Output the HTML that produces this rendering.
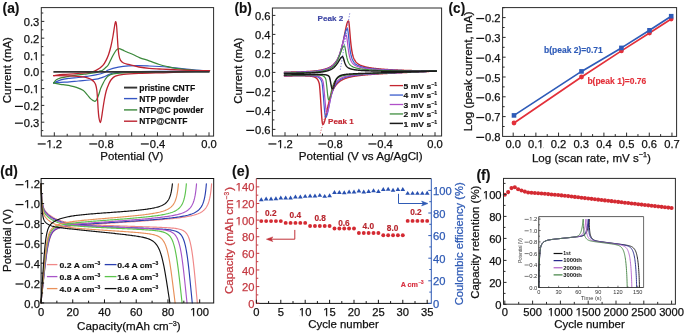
<!DOCTYPE html>
<html><head><meta charset="utf-8"><style>
html,body{margin:0;padding:0;background:#fff;}
svg{display:block;will-change:transform;}
text{font-family:'Liberation Sans',sans-serif;}
</style></head><body>
<svg width="685" height="334" viewBox="0 0 685 334">
<rect width="685" height="334" fill="#fff"/>
<path d="M53.60,82.90 C54.80,82.38 58.15,80.57 60.80,79.80 C63.45,79.03 66.58,78.68 69.50,78.30 C72.42,77.92 75.38,77.83 78.30,77.50 C81.22,77.17 84.08,76.73 87.00,76.30 C89.92,75.87 92.88,75.53 95.80,74.90 C98.72,74.27 102.43,73.32 104.50,72.50 C106.57,71.68 105.88,70.88 108.20,70.00 C110.52,69.12 114.98,67.88 118.40,67.20 C121.82,66.52 125.28,66.15 128.70,65.90 C132.12,65.65 135.50,65.68 138.90,65.70 C142.30,65.72 145.70,65.87 149.10,66.00 C152.50,66.13 155.82,66.27 159.30,66.50 C162.78,66.73 165.88,67.00 170.00,67.40 C174.12,67.80 179.67,68.47 184.00,68.90 C188.33,69.33 191.75,69.70 196.00,70.00 C200.25,70.30 207.25,70.58 209.50,70.70" fill="none" stroke="#3556c4" stroke-width="1.25" stroke-linejoin="round" stroke-linecap="round"/>
<path d="M209.50,70.70 C206.25,70.77 196.92,71.00 190.00,71.10 C183.08,71.20 176.33,71.23 168.00,71.30 C159.67,71.37 147.42,71.40 140.00,71.50 C132.58,71.60 127.95,71.65 123.50,71.90 C119.05,72.15 115.85,72.50 113.30,73.00 C110.75,73.50 109.90,74.20 108.20,74.90 C106.50,75.60 104.80,76.55 103.10,77.20 C101.40,77.85 100.27,78.33 98.00,78.80 C95.73,79.27 92.78,79.63 89.50,80.00 C86.22,80.37 81.63,80.68 78.30,81.00 C74.97,81.32 72.42,81.67 69.50,81.90 C66.58,82.13 63.45,82.23 60.80,82.40 C58.15,82.57 54.80,82.82 53.60,82.90" fill="none" stroke="#3556c4" stroke-width="1.25" stroke-linejoin="round" stroke-linecap="round"/>
<path d="M53.60,82.90 C54.07,82.38 55.20,80.63 56.40,79.80 C57.60,78.97 58.62,78.50 60.80,77.90 C62.98,77.30 66.58,76.70 69.50,76.20 C72.42,75.70 75.38,75.30 78.30,74.90 C81.22,74.50 84.08,74.17 87.00,73.80 C89.92,73.43 93.72,73.13 95.80,72.70 C97.88,72.27 98.45,71.57 99.50,71.20 C100.55,70.83 101.13,71.05 102.10,70.50 C103.07,69.95 104.28,68.82 105.30,67.90 C106.32,66.98 107.30,66.32 108.20,65.00 C109.10,63.68 109.97,61.47 110.70,60.00 C111.43,58.53 111.83,57.62 112.60,56.20 C113.37,54.78 114.52,52.65 115.30,51.50 C116.08,50.35 116.65,49.77 117.30,49.30 C117.95,48.83 118.55,48.70 119.20,48.70 C119.85,48.70 120.48,49.02 121.20,49.30 C121.92,49.58 122.53,49.95 123.50,50.40 C124.47,50.85 125.32,51.27 127.00,52.00 C128.68,52.73 131.43,53.83 133.60,54.80 C135.77,55.77 137.42,56.80 140.00,57.80 C142.58,58.80 145.88,59.68 149.10,60.80 C152.32,61.92 156.15,63.52 159.30,64.50 C162.45,65.48 165.22,66.07 168.00,66.70 C170.78,67.33 172.00,67.75 176.00,68.30 C180.00,68.85 186.42,69.60 192.00,70.00 C197.58,70.40 206.58,70.58 209.50,70.70" fill="none" stroke="#3b893b" stroke-width="1.25" stroke-linejoin="round" stroke-linecap="round"/>
<path d="M209.50,70.70 C202.58,70.88 179.58,71.52 168.00,71.80 C156.42,72.08 147.42,72.22 140.00,72.40 C132.58,72.58 127.95,72.65 123.50,72.90 C119.05,73.15 115.85,73.40 113.30,73.90 C110.75,74.40 109.55,74.97 108.20,75.90 C106.85,76.83 106.15,78.07 105.20,79.50 C104.25,80.93 103.25,83.02 102.50,84.50 C101.75,85.98 101.35,86.65 100.70,88.40 C100.05,90.15 99.28,93.10 98.60,95.00 C97.92,96.90 97.20,98.75 96.60,99.80 C96.00,100.85 95.57,101.17 95.00,101.30 C94.43,101.43 93.90,101.00 93.20,100.60 C92.50,100.20 91.85,99.95 90.80,98.90 C89.75,97.85 88.20,95.73 86.90,94.30 C85.60,92.87 84.75,91.47 83.00,90.30 C81.25,89.13 78.60,88.07 76.40,87.30 C74.20,86.53 72.00,86.13 69.80,85.70 C67.60,85.27 65.90,85.17 63.20,84.70 C60.50,84.23 55.20,83.20 53.60,82.90" fill="none" stroke="#3b893b" stroke-width="1.25" stroke-linejoin="round" stroke-linecap="round"/>
<path d="M53.60,75.60 C55.20,75.42 59.40,74.83 63.20,74.50 C67.00,74.17 72.02,73.97 76.40,73.60 C80.78,73.23 86.32,72.80 89.50,72.30 C92.68,71.80 93.83,71.27 95.50,70.60 C97.17,69.93 98.23,69.20 99.50,68.30 C100.77,67.40 101.98,66.57 103.10,65.20 C104.22,63.83 105.28,61.88 106.20,60.10 C107.12,58.32 107.80,56.85 108.60,54.50 C109.40,52.15 110.27,49.08 111.00,46.00 C111.73,42.92 112.40,39.33 113.00,36.00 C113.60,32.67 114.17,28.40 114.60,26.00 C115.03,23.60 115.28,21.77 115.60,21.60 C115.92,21.43 116.22,22.60 116.50,25.00 C116.78,27.40 117.05,32.33 117.30,36.00 C117.55,39.67 117.73,43.83 118.00,47.00 C118.27,50.17 118.50,52.82 118.90,55.00 C119.30,57.18 119.63,58.77 120.40,60.10 C121.17,61.43 122.12,62.28 123.50,63.00 C124.88,63.72 126.98,63.95 128.70,64.40 C130.42,64.85 132.10,65.27 133.80,65.70 C135.50,66.13 136.35,66.55 138.90,67.00 C141.45,67.45 145.70,68.07 149.10,68.40 C152.50,68.73 155.82,68.82 159.30,69.00 C162.78,69.18 164.88,69.28 170.00,69.50 C175.12,69.72 183.42,70.10 190.00,70.30 C196.58,70.50 206.25,70.63 209.50,70.70" fill="none" stroke="#bd2330" stroke-width="1.3" stroke-linejoin="round" stroke-linecap="round"/>
<path d="M209.50,70.70 C205.25,70.90 190.92,71.58 184.00,71.90 C177.08,72.22 175.52,72.35 168.00,72.60 C160.48,72.85 146.32,73.10 138.90,73.40 C131.48,73.70 127.42,73.93 123.50,74.40 C119.58,74.87 117.43,75.35 115.40,76.20 C113.37,77.05 112.40,78.20 111.30,79.50 C110.20,80.80 109.65,82.08 108.80,84.00 C107.95,85.92 106.95,88.33 106.20,91.00 C105.45,93.67 104.88,96.83 104.30,100.00 C103.72,103.17 103.17,107.00 102.70,110.00 C102.23,113.00 101.90,115.90 101.50,118.00 C101.10,120.10 100.72,122.60 100.30,122.60 C99.88,122.60 99.35,120.10 99.00,118.00 C98.65,115.90 98.43,113.00 98.20,110.00 C97.97,107.00 97.83,103.33 97.60,100.00 C97.37,96.67 97.13,92.58 96.80,90.00 C96.47,87.42 96.05,85.87 95.60,84.50 C95.15,83.13 94.78,82.62 94.10,81.80 C93.42,80.98 92.27,80.15 91.50,79.60 C90.73,79.05 90.92,78.95 89.50,78.50 C88.08,78.05 86.28,77.33 83.00,76.90 C79.72,76.47 74.70,76.12 69.80,75.90 C64.90,75.68 56.30,75.65 53.60,75.60" fill="none" stroke="#bd2330" stroke-width="1.3" stroke-linejoin="round" stroke-linecap="round"/>
<line x1="53.40" y1="71.95" x2="209.50" y2="71.95" stroke="#333333" stroke-width="1.7"/>
<rect x="41.30" y="7.60" width="172.30" height="128.50" fill="none" stroke="#2a2a2a" stroke-width="1.0"/>
<line x1="41.30" y1="130.60" x2="43.30" y2="130.60" stroke="#2a2a2a" stroke-width="1.0"/>
<line x1="41.30" y1="122.20" x2="44.30" y2="122.20" stroke="#2a2a2a" stroke-width="1.0"/>
<line x1="41.30" y1="113.80" x2="43.30" y2="113.80" stroke="#2a2a2a" stroke-width="1.0"/>
<line x1="41.30" y1="105.40" x2="44.30" y2="105.40" stroke="#2a2a2a" stroke-width="1.0"/>
<line x1="41.30" y1="97.00" x2="43.30" y2="97.00" stroke="#2a2a2a" stroke-width="1.0"/>
<line x1="41.30" y1="88.60" x2="44.30" y2="88.60" stroke="#2a2a2a" stroke-width="1.0"/>
<line x1="41.30" y1="80.20" x2="43.30" y2="80.20" stroke="#2a2a2a" stroke-width="1.0"/>
<line x1="41.30" y1="71.80" x2="44.30" y2="71.80" stroke="#2a2a2a" stroke-width="1.0"/>
<line x1="41.30" y1="63.40" x2="43.30" y2="63.40" stroke="#2a2a2a" stroke-width="1.0"/>
<line x1="41.30" y1="55.00" x2="44.30" y2="55.00" stroke="#2a2a2a" stroke-width="1.0"/>
<line x1="41.30" y1="46.60" x2="43.30" y2="46.60" stroke="#2a2a2a" stroke-width="1.0"/>
<line x1="41.30" y1="38.20" x2="44.30" y2="38.20" stroke="#2a2a2a" stroke-width="1.0"/>
<line x1="41.30" y1="29.80" x2="43.30" y2="29.80" stroke="#2a2a2a" stroke-width="1.0"/>
<line x1="41.30" y1="21.40" x2="44.30" y2="21.40" stroke="#2a2a2a" stroke-width="1.0"/>
<line x1="41.30" y1="13.00" x2="43.30" y2="13.00" stroke="#2a2a2a" stroke-width="1.0"/>
<line x1="54.32" y1="136.10" x2="54.32" y2="132.30" stroke="#2a2a2a" stroke-width="1.0"/>
<line x1="67.21" y1="136.10" x2="67.21" y2="133.80" stroke="#2a2a2a" stroke-width="1.0"/>
<line x1="80.10" y1="136.10" x2="80.10" y2="132.30" stroke="#2a2a2a" stroke-width="1.0"/>
<line x1="92.99" y1="136.10" x2="92.99" y2="133.80" stroke="#2a2a2a" stroke-width="1.0"/>
<line x1="105.88" y1="136.10" x2="105.88" y2="132.30" stroke="#2a2a2a" stroke-width="1.0"/>
<line x1="118.77" y1="136.10" x2="118.77" y2="133.80" stroke="#2a2a2a" stroke-width="1.0"/>
<line x1="131.66" y1="136.10" x2="131.66" y2="132.30" stroke="#2a2a2a" stroke-width="1.0"/>
<line x1="144.55" y1="136.10" x2="144.55" y2="133.80" stroke="#2a2a2a" stroke-width="1.0"/>
<line x1="157.44" y1="136.10" x2="157.44" y2="132.30" stroke="#2a2a2a" stroke-width="1.0"/>
<line x1="170.33" y1="136.10" x2="170.33" y2="133.80" stroke="#2a2a2a" stroke-width="1.0"/>
<line x1="183.22" y1="136.10" x2="183.22" y2="132.30" stroke="#2a2a2a" stroke-width="1.0"/>
<line x1="196.11" y1="136.10" x2="196.11" y2="133.80" stroke="#2a2a2a" stroke-width="1.0"/>
<line x1="209.00" y1="136.10" x2="209.00" y2="132.30" stroke="#2a2a2a" stroke-width="1.0"/>
<text x="39.30" y="26.01" font-size="11.2" font-weight="normal" fill="#111" stroke="#111" stroke-width="0.25" text-anchor="end">0.3</text>
<text x="39.30" y="42.81" font-size="11.2" font-weight="normal" fill="#111" stroke="#111" stroke-width="0.25" text-anchor="end">0.2</text>
<text x="39.30" y="59.61" font-size="11.2" font-weight="normal" fill="#111" stroke="#111" stroke-width="0.25" text-anchor="end">0.1</text>
<rect x="33.40" y="58.95" width="2.43" height="2.10" fill="#fff"/>
<rect x="36.93" y="58.95" width="2.10" height="2.10" fill="#fff"/>
<text x="39.30" y="76.41" font-size="11.2" font-weight="normal" fill="#111" stroke="#111" stroke-width="0.25" text-anchor="end">0.0</text>
<text x="39.30" y="93.21" font-size="11.2" font-weight="normal" fill="#111" stroke="#111" stroke-width="0.25" text-anchor="end">0.1</text>
<rect x="33.40" y="91.95" width="2.43" height="2.10" fill="#fff"/>
<rect x="36.93" y="91.95" width="2.10" height="2.10" fill="#fff"/>
<line x1="14.94" y1="89.57" x2="22.89" y2="89.57" stroke="#111" stroke-width="1.23"/>
<text x="39.30" y="110.01" font-size="11.2" font-weight="normal" fill="#111" stroke="#111" stroke-width="0.25" text-anchor="end">0.2</text>
<line x1="14.94" y1="106.37" x2="22.89" y2="106.37" stroke="#111" stroke-width="1.23"/>
<text x="39.30" y="126.81" font-size="11.2" font-weight="normal" fill="#111" stroke="#111" stroke-width="0.25" text-anchor="end">0.3</text>
<line x1="14.94" y1="123.17" x2="22.89" y2="123.17" stroke="#111" stroke-width="1.23"/>
<text x="46.54" y="147.60" font-size="11.2" font-weight="normal" fill="#111" stroke="#111" stroke-width="0.25" text-anchor="start">1.2</text>
<rect x="46.86" y="146.95" width="2.43" height="2.10" fill="#fff"/>
<rect x="50.40" y="146.95" width="2.10" height="2.10" fill="#fff"/>
<line x1="37.74" y1="143.96" x2="45.70" y2="143.96" stroke="#111" stroke-width="1.23"/>
<text x="98.10" y="147.60" font-size="11.2" font-weight="normal" fill="#111" stroke="#111" stroke-width="0.25" text-anchor="start">0.8</text>
<line x1="89.30" y1="143.96" x2="97.26" y2="143.96" stroke="#111" stroke-width="1.23"/>
<text x="149.66" y="147.60" font-size="11.2" font-weight="normal" fill="#111" stroke="#111" stroke-width="0.25" text-anchor="start">0.4</text>
<line x1="140.86" y1="143.96" x2="148.82" y2="143.96" stroke="#111" stroke-width="1.23"/>
<text x="201.22" y="147.60" font-size="11.2" font-weight="normal" fill="#111" stroke="#111" stroke-width="0.25" text-anchor="start">0.0</text>
<text x="131.80" y="159.90" font-size="11.45" font-weight="normal" fill="#111" stroke="#111" stroke-width="0.25" text-anchor="middle">Potential (V)</text>
<text x="10.80" y="70.20" font-size="11.45" font-weight="normal" fill="#111" stroke="#111" stroke-width="0.25" text-anchor="middle" transform="rotate(-90 10.80 70.20)">Current (mA)</text>
<text transform="translate(2.51 12.60) scale(0.9697 1)" font-size="14.3" font-weight="bold" fill="#111" stroke="#111" stroke-width="0.15">(a)</text>
<line x1="124.00" y1="87.60" x2="137.20" y2="87.60" stroke="#333333" stroke-width="1.9"/>
<text x="139.20" y="90.60" font-size="8.55" font-weight="bold" fill="#111" stroke="#111" stroke-width="0.15" text-anchor="start">pristine CNTF</text>
<line x1="124.00" y1="98.60" x2="137.20" y2="98.60" stroke="#3556c4" stroke-width="1.4"/>
<text x="139.20" y="101.60" font-size="8.55" font-weight="bold" fill="#111" stroke="#111" stroke-width="0.15" text-anchor="start">NTP powder</text>
<line x1="124.00" y1="109.90" x2="137.20" y2="109.90" stroke="#3b893b" stroke-width="1.4"/>
<text x="139.20" y="112.90" font-size="8.55" font-weight="bold" fill="#111" stroke="#111" stroke-width="0.15" text-anchor="start">NTP@C powder</text>
<line x1="124.00" y1="121.20" x2="137.20" y2="121.20" stroke="#bd2330" stroke-width="1.4"/>
<text x="139.20" y="124.20" font-size="8.55" font-weight="bold" fill="#111" stroke="#111" stroke-width="0.15" text-anchor="start">NTP@CNTF</text>
<path d="M284.40,72.15 L284.70,72.15 L285.01,72.15 L285.31,72.15 L285.62,72.14 L285.92,72.14 L286.22,72.14 L286.53,72.14 L286.83,72.13 L287.13,72.13 L287.44,72.13 L287.74,72.12 L288.05,72.12 L288.35,72.11 L288.65,72.11 L288.96,72.11 L289.26,72.10 L289.56,72.10 L289.87,72.09 L290.17,72.09 L290.48,72.08 L290.78,72.08 L291.08,72.07 L291.39,72.07 L291.69,72.06 L292.00,72.06 L292.30,72.05 L292.60,72.05 L292.91,72.04 L293.21,72.03 L293.51,72.03 L293.82,72.02 L294.12,72.02 L294.43,72.01 L294.73,72.00 L295.03,71.99 L295.34,71.99 L295.64,71.98 L295.94,71.97 L296.25,71.97 L296.55,71.96 L296.86,71.95 L297.16,71.94 L297.46,71.93 L297.77,71.92 L298.07,71.92 L298.37,71.91 L298.68,71.90 L298.98,71.89 L299.29,71.88 L299.59,71.87 L299.89,71.86 L300.20,71.85 L300.50,71.84 L300.81,71.83 L301.11,71.82 L301.41,71.81 L301.72,71.80 L302.02,71.78 L302.32,71.77 L302.63,71.76 L302.93,71.75 L303.24,71.73 L303.54,71.72 L303.84,71.71 L304.15,71.69 L304.45,71.68 L304.75,71.67 L305.06,71.65 L305.36,71.64 L305.67,71.62 L305.97,71.61 L306.27,71.59 L306.58,71.57 L306.88,71.56 L307.19,71.54 L307.49,71.52 L307.79,71.50 L308.10,71.49 L308.40,71.47 L308.70,71.45 L309.01,71.43 L309.31,71.41 L309.62,71.39 L309.92,71.37 L310.22,71.34 L310.53,71.32 L310.83,71.30 L311.13,71.28 L311.44,71.25 L311.74,71.23 L312.05,71.20 L312.35,71.18 L312.65,71.15 L312.96,71.12 L313.26,71.09 L313.56,71.07 L313.87,71.04 L314.17,71.01 L314.48,70.98 L314.78,70.94 L315.08,70.91 L315.39,70.88 L315.69,70.84 L316.00,70.81 L316.30,70.77 L316.60,70.73 L316.91,70.69 L317.21,70.66 L317.51,70.61 L317.82,70.57 L318.12,70.53 L318.43,70.48 L318.73,70.44 L319.03,70.39 L319.34,70.34 L319.64,70.29 L319.94,70.24 L320.25,70.19 L320.55,70.13 L320.86,70.08 L321.16,70.02 L321.46,69.96 L321.77,69.90 L322.07,69.83 L322.38,69.77 L322.68,69.70 L322.98,69.63 L323.29,69.55 L323.59,69.48 L323.89,69.40 L324.20,69.32 L324.50,69.23 L324.81,69.15 L325.11,69.06 L325.41,68.97 L325.72,68.87 L326.02,68.77 L326.32,68.66 L326.63,68.56 L326.93,68.45 L327.24,68.33 L327.54,68.21 L327.84,68.08 L328.15,67.95 L328.45,67.82 L328.75,67.68 L329.06,67.53 L329.36,67.38 L329.67,67.22 L329.97,67.05 L330.27,66.88 L330.58,66.70 L330.88,66.51 L331.19,66.31 L331.49,66.10 L331.79,65.89 L332.10,65.66 L332.40,65.43 L332.70,65.18 L333.01,64.92 L333.31,64.65 L333.62,64.37 L333.92,64.07 L334.22,63.76 L334.53,63.43 L334.83,63.08 L335.13,62.72 L335.44,62.34 L335.74,61.94 L336.05,61.52 L336.35,61.07 L336.65,60.60 L336.96,60.11 L337.26,59.59 L337.56,59.04 L337.87,58.46 L338.17,57.84 L338.48,57.20 L338.78,56.51 L339.08,55.79 L339.39,55.03 L339.69,54.23 L340.00,53.38 L340.30,52.48 L340.60,51.54 L340.91,50.55 L341.21,49.50 L341.51,48.40 L341.82,47.25 L342.12,46.04 L342.43,44.78 L342.73,43.46 L343.03,42.09 L343.34,40.67 L343.64,39.21 L343.94,37.71 L344.25,36.18 L344.55,34.63 L344.86,33.08 L345.16,31.53 L345.46,30.02 L345.77,28.54 L346.07,27.14 L346.38,25.82 L346.68,24.61 L346.98,23.55 L347.29,22.64 L347.59,21.91 L347.89,21.37 L348.20,21.05 L348.50,20.94 L348.81,21.83 L349.11,24.01 L349.41,27.11 L349.72,30.70 L350.02,34.40 L350.32,37.96 L350.63,41.23 L350.93,44.14 L351.24,46.69 L351.54,48.90 L351.84,50.81 L352.15,52.46 L352.45,53.89 L352.75,55.12 L353.06,56.20 L353.36,57.15 L353.67,57.98 L353.97,58.72 L354.27,59.37 L354.58,59.96 L354.88,60.48 L355.19,60.96 L355.49,61.39 L355.79,61.78 L356.10,62.14 L356.40,62.47 L356.70,62.77 L357.01,63.05 L357.31,63.31 L357.62,63.55 L357.92,63.78 L358.22,63.99 L358.53,64.19 L358.83,64.38 L359.13,64.55 L359.44,64.72 L359.74,64.88 L360.05,65.03 L360.35,65.17 L360.65,65.30 L360.96,65.43 L361.26,65.56 L361.57,65.67 L361.87,65.79 L362.17,65.90 L362.48,66.00 L362.78,66.10 L363.08,66.20 L363.39,66.29 L363.69,66.38 L364.00,66.47 L364.30,66.55 L364.60,66.63 L364.91,66.71 L365.21,66.79 L365.51,66.86 L365.82,66.93 L366.12,67.00 L366.43,67.07 L366.73,67.13 L367.03,67.20 L367.34,67.26 L367.64,67.32 L367.94,67.38 L368.25,67.44 L368.55,67.49 L368.86,67.55 L369.16,67.60 L369.46,67.65 L369.77,67.71 L370.07,67.76 L370.38,67.80 L370.68,67.85 L370.98,67.90 L371.29,67.95 L371.59,67.99 L371.89,68.03 L372.20,68.08 L372.50,68.12 L372.81,68.16 L373.11,68.20 L373.41,68.24 L373.72,68.28 L374.02,68.32 L374.32,68.36 L374.63,68.39 L374.93,68.43 L375.24,68.46 L375.54,68.50 L375.84,68.53 L376.15,68.57 L376.45,68.60 L376.76,68.63 L377.06,68.67 L377.36,68.70 L377.67,68.73 L377.97,68.76 L378.27,68.79 L378.58,68.82 L378.88,68.85 L379.19,68.88 L379.49,68.91 L379.79,68.93 L380.10,68.96 L380.40,68.99 L380.70,69.02 L381.01,69.04 L381.31,69.07 L381.62,69.09 L381.92,69.12 L382.22,69.14 L382.53,69.17 L382.83,69.19 L383.13,69.22 L383.44,69.24 L383.74,69.26 L384.05,69.29 L384.35,69.31 L384.65,69.33 L384.96,69.35 L385.26,69.37 L385.57,69.39 L385.87,69.42 L386.17,69.44 L386.48,69.46 L386.78,69.48 L387.08,69.50 L387.39,69.52 L387.69,69.54 L388.00,69.56 L388.30,69.58 L388.60,69.59 L388.91,69.61 L389.21,69.63 L389.51,69.65 L389.82,69.67 L390.12,69.69 L390.43,69.70 L390.73,69.72 L391.03,69.74 L391.34,69.76 L391.64,69.77 L391.95,69.79 L392.25,69.81 L392.55,69.82 L392.86,69.84 L393.16,69.85 L393.46,69.87 L393.77,69.88 L394.07,69.90 L394.38,69.92 L394.68,69.93 L394.98,69.95 L395.29,69.96 L395.59,69.97 L395.89,69.99 L396.20,70.00 L396.50,70.02 L396.81,70.03 L397.11,70.05 L397.41,70.06 L397.72,70.07 L398.02,70.09 L398.32,70.10 L398.63,70.11 L398.93,70.13 L399.24,70.14 L399.54,70.15 L399.84,70.16 L400.15,70.18 L400.45,70.19 L400.76,70.20 L401.06,70.21 L401.36,70.22 L401.67,70.24 L401.97,70.25 L402.27,70.26 L402.58,70.27 L402.88,70.28 L403.19,70.29 L403.49,70.31 L403.79,70.32 L404.10,70.33 L404.40,70.34 L404.70,70.35 L405.01,70.36 L405.31,70.37 L405.62,70.38 L405.92,70.39 L406.22,70.40 L406.53,70.41 L406.83,70.42 L407.14,70.43 L407.44,70.44 L407.74,70.45 L408.05,70.46 L408.35,70.47 L408.65,70.48 L408.96,70.49 L409.26,70.50 L409.57,70.51 L409.87,70.52 L410.17,70.53 L410.48,70.54 L410.78,70.55 L411.08,70.56 L411.39,70.57 L411.69,70.57 L412.00,70.58 L412.30,70.59 L412.60,70.60 L412.91,70.61 L413.21,70.62 L413.51,70.63 L413.82,70.63 L414.12,70.64 L414.43,70.65 L414.73,70.66 L415.03,70.67 L415.34,70.67 L415.64,70.68 L415.95,70.69 L416.25,70.70 L416.55,70.71 L416.86,70.71 L417.16,70.72 L417.46,70.73 L417.77,70.74 L418.07,70.74 L418.38,70.75 L418.68,70.76 L418.98,70.77 L419.29,70.77 L419.59,70.78 L419.89,70.79 L420.20,70.79 L420.50,70.80 L420.81,70.81 L421.11,70.82 L421.41,70.82 L421.72,70.83 L422.02,70.84 L422.33,70.84 L422.63,70.85 L422.93,70.86 L423.24,70.86 L423.54,70.87 L423.84,70.87 L424.15,70.88 L424.45,70.89 L424.76,70.89 L425.06,70.90 L425.36,70.91 L425.67,70.91 L425.97,70.92 L426.27,70.92 L426.58,70.93 L426.88,70.94 L427.19,70.94 L427.49,70.95 L427.79,70.95 L428.10,70.96 L428.40,70.97 L428.71,70.97 L429.01,70.98 L429.31,70.98 L429.62,70.99 L429.92,70.99 L430.22,71.00 L430.53,71.00 L430.83,71.01 L431.14,71.01 L431.44,71.02 L431.74,71.03 L432.05,71.03 L432.35,71.04 L432.65,71.04 L432.96,71.05 L433.26,71.05 L433.57,71.06 L433.87,71.06 L434.17,71.07 L434.48,71.07 L434.78,71.08 L435.08,71.08 L435.39,71.09 L435.69,71.09 L436.00,71.10 L436.30,71.10" fill="none" stroke="#c42631" stroke-width="1.4" stroke-linejoin="round" stroke-linecap="round"/>
<path d="M284.40,75.99 L284.70,75.99 L285.01,75.99 L285.31,75.98 L285.62,75.98 L285.92,75.98 L286.22,75.98 L286.53,75.98 L286.83,75.97 L287.13,75.97 L287.44,75.97 L287.74,75.97 L288.05,75.96 L288.35,75.96 L288.65,75.96 L288.96,75.96 L289.26,75.95 L289.56,75.95 L289.87,75.95 L290.17,75.95 L290.48,75.94 L290.78,75.94 L291.08,75.94 L291.39,75.93 L291.69,75.93 L292.00,75.93 L292.30,75.93 L292.60,75.92 L292.91,75.92 L293.21,75.92 L293.51,75.92 L293.82,75.91 L294.12,75.91 L294.43,75.91 L294.73,75.90 L295.03,75.90 L295.34,75.90 L295.64,75.90 L295.94,75.90 L296.25,75.89 L296.55,75.89 L296.86,75.89 L297.16,75.89 L297.46,75.89 L297.77,75.89 L298.07,75.88 L298.37,75.88 L298.68,75.88 L298.98,75.88 L299.29,75.88 L299.59,75.88 L299.89,75.88 L300.20,75.88 L300.50,75.88 L300.81,75.88 L301.11,75.88 L301.41,75.88 L301.72,75.88 L302.02,75.88 L302.32,75.89 L302.63,75.89 L302.93,75.89 L303.24,75.89 L303.54,75.90 L303.84,75.90 L304.15,75.91 L304.45,75.91 L304.75,75.92 L305.06,75.92 L305.36,75.93 L305.67,75.94 L305.97,75.95 L306.27,75.95 L306.58,75.96 L306.88,75.98 L307.19,75.99 L307.49,76.00 L307.79,76.02 L308.10,76.03 L308.40,76.05 L308.70,76.07 L309.01,76.09 L309.31,76.11 L309.62,76.13 L309.92,76.16 L310.22,76.19 L310.53,76.22 L310.83,76.26 L311.13,76.29 L311.44,76.34 L311.74,76.38 L312.05,76.43 L312.35,76.49 L312.65,76.55 L312.96,76.61 L313.26,76.69 L313.56,76.77 L313.87,76.86 L314.17,76.96 L314.48,77.07 L314.78,77.19 L315.08,77.33 L315.39,77.49 L315.69,77.67 L316.00,77.87 L316.30,78.10 L316.60,78.36 L316.91,78.66 L317.21,79.01 L317.51,79.41 L317.82,79.88 L318.12,80.44 L318.43,81.09 L318.73,81.88 L319.03,82.82 L319.34,83.96 L319.64,86.45 L319.94,89.95 L320.25,94.02 L320.55,98.56 L320.86,103.41 L321.16,108.35 L321.46,113.10 L321.77,117.36 L322.07,120.83 L322.38,123.26 L322.68,124.45 L322.98,124.51 L323.29,124.29 L323.59,123.87 L323.89,123.27 L324.20,122.51 L324.50,121.59 L324.81,120.53 L325.11,119.37 L325.41,118.11 L325.72,116.78 L326.02,115.39 L326.32,113.97 L326.63,112.53 L326.93,111.08 L327.24,109.65 L327.54,108.23 L327.84,106.84 L328.15,105.48 L328.45,104.17 L328.75,102.90 L329.06,101.67 L329.36,100.49 L329.67,99.36 L329.97,98.28 L330.27,97.25 L330.58,96.27 L330.88,95.34 L331.19,94.45 L331.49,93.60 L331.79,92.80 L332.10,92.03 L332.40,91.31 L332.70,90.62 L333.01,89.97 L333.31,89.35 L333.62,88.76 L333.92,88.20 L334.22,87.67 L334.53,87.16 L334.83,86.68 L335.13,86.22 L335.44,85.79 L335.74,85.38 L336.05,84.98 L336.35,84.61 L336.65,84.25 L336.96,83.91 L337.26,83.58 L337.56,83.27 L337.87,82.98 L338.17,82.69 L338.48,82.42 L338.78,82.16 L339.08,81.91 L339.39,81.68 L339.69,81.45 L340.00,81.23 L340.30,81.02 L340.60,80.82 L340.91,80.63 L341.21,80.44 L341.51,80.26 L341.82,80.09 L342.12,79.92 L342.43,79.76 L342.73,79.61 L343.03,79.46 L343.34,79.32 L343.64,79.18 L343.94,79.05 L344.25,78.92 L344.55,78.80 L344.86,78.68 L345.16,78.56 L345.46,78.45 L345.77,78.34 L346.07,78.24 L346.38,78.13 L346.68,78.03 L346.98,77.94 L347.29,77.85 L347.59,77.76 L347.89,77.67 L348.20,77.58 L348.50,77.50 L348.81,77.42 L349.11,77.34 L349.41,77.27 L349.72,77.19 L350.02,77.12 L350.32,77.05 L350.63,76.98 L350.93,76.91 L351.24,76.85 L351.54,76.79 L351.84,76.72 L352.15,76.66 L352.45,76.60 L352.75,76.55 L353.06,76.49 L353.36,76.43 L353.67,76.38 L353.97,76.33 L354.27,76.28 L354.58,76.23 L354.88,76.18 L355.19,76.13 L355.49,76.08 L355.79,76.04 L356.10,75.99 L356.40,75.95 L356.70,75.90 L357.01,75.86 L357.31,75.82 L357.62,75.77 L357.92,75.73 L358.22,75.69 L358.53,75.66 L358.83,75.62 L359.13,75.58 L359.44,75.54 L359.74,75.51 L360.05,75.47 L360.35,75.43 L360.65,75.40 L360.96,75.36 L361.26,75.33 L361.57,75.30 L361.87,75.26 L362.17,75.23 L362.48,75.20 L362.78,75.17 L363.08,75.14 L363.39,75.11 L363.69,75.08 L364.00,75.05 L364.30,75.02 L364.60,74.99 L364.91,74.96 L365.21,74.93 L365.51,74.91 L365.82,74.88 L366.12,74.85 L366.43,74.82 L366.73,74.80 L367.03,74.77 L367.34,74.75 L367.64,74.72 L367.94,74.69 L368.25,74.67 L368.55,74.64 L368.86,74.62 L369.16,74.60 L369.46,74.57 L369.77,74.55 L370.07,74.52 L370.38,74.50 L370.68,74.48 L370.98,74.45 L371.29,74.43 L371.59,74.41 L371.89,74.39 L372.20,74.36 L372.50,74.34 L372.81,74.32 L373.11,74.30 L373.41,74.28 L373.72,74.26 L374.02,74.24 L374.32,74.21 L374.63,74.19 L374.93,74.17 L375.24,74.15 L375.54,74.13 L375.84,74.11 L376.15,74.09 L376.45,74.07 L376.76,74.05 L377.06,74.03 L377.36,74.01 L377.67,73.99 L377.97,73.97 L378.27,73.96 L378.58,73.94 L378.88,73.92 L379.19,73.90 L379.49,73.88 L379.79,73.86 L380.10,73.84 L380.40,73.83 L380.70,73.81 L381.01,73.79 L381.31,73.77 L381.62,73.75 L381.92,73.73 L382.22,73.72 L382.53,73.70 L382.83,73.68 L383.13,73.66 L383.44,73.65 L383.74,73.63 L384.05,73.61 L384.35,73.59 L384.65,73.58 L384.96,73.56 L385.26,73.54 L385.57,73.53 L385.87,73.51 L386.17,73.49 L386.48,73.48 L386.78,73.46 L387.08,73.44 L387.39,73.43 L387.69,73.41 L388.00,73.39 L388.30,73.38 L388.60,73.36 L388.91,73.34 L389.21,73.33 L389.51,73.31 L389.82,73.30 L390.12,73.28 L390.43,73.26 L390.73,73.25 L391.03,73.23 L391.34,73.22 L391.64,73.20 L391.95,73.18 L392.25,73.17 L392.55,73.15 L392.86,73.14 L393.16,73.12 L393.46,73.11 L393.77,73.09 L394.07,73.08 L394.38,73.06 L394.68,73.04 L394.98,73.03 L395.29,73.01 L395.59,73.00 L395.89,72.98 L396.20,72.97 L396.50,72.95 L396.81,72.94 L397.11,72.92 L397.41,72.91 L397.72,72.89 L398.02,72.88 L398.32,72.86 L398.63,72.85 L398.93,72.83 L399.24,72.82 L399.54,72.80 L399.84,72.79 L400.15,72.77 L400.45,72.76 L400.76,72.74 L401.06,72.73 L401.36,72.71 L401.67,72.70 L401.97,72.69 L402.27,72.67 L402.58,72.66 L402.88,72.64 L403.19,72.63 L403.49,72.61 L403.79,72.60 L404.10,72.58 L404.40,72.57 L404.70,72.55 L405.01,72.54 L405.31,72.52 L405.62,72.51 L405.92,72.50 L406.22,72.48 L406.53,72.47 L406.83,72.45 L407.14,72.44 L407.44,72.42 L407.74,72.41 L408.05,72.40 L408.35,72.38 L408.65,72.37 L408.96,72.35 L409.26,72.34 L409.57,72.32 L409.87,72.31 L410.17,72.30 L410.48,72.28 L410.78,72.27 L411.08,72.25 L411.39,72.24 L411.69,72.22 L412.00,72.21 L412.30,72.20 L412.60,72.18 L412.91,72.17 L413.21,72.15 L413.51,72.14 L413.82,72.13 L414.12,72.11 L414.43,72.10 L414.73,72.08 L415.03,72.07 L415.34,72.06 L415.64,72.04 L415.95,72.03 L416.25,72.01 L416.55,72.00 L416.86,71.99 L417.16,71.97 L417.46,71.96 L417.77,71.94 L418.07,71.93 L418.38,71.92 L418.68,71.90 L418.98,71.89 L419.29,71.87 L419.59,71.86 L419.89,71.85 L420.20,71.83 L420.50,71.82 L420.81,71.80 L421.11,71.79 L421.41,71.78 L421.72,71.76 L422.02,71.75 L422.33,71.74 L422.63,71.72 L422.93,71.71 L423.24,71.69 L423.54,71.68 L423.84,71.67 L424.15,71.65 L424.45,71.64 L424.76,71.62 L425.06,71.61 L425.36,71.60 L425.67,71.58 L425.97,71.57 L426.27,71.56 L426.58,71.54 L426.88,71.53 L427.19,71.51 L427.49,71.50 L427.79,71.49 L428.10,71.47 L428.40,71.46 L428.71,71.44 L429.01,71.43 L429.31,71.42 L429.62,71.40 L429.92,71.39 L430.22,71.38 L430.53,71.36 L430.83,71.35 L431.14,71.33 L431.44,71.32 L431.74,71.31 L432.05,71.29 L432.35,71.28 L432.65,71.27 L432.96,71.25 L433.26,71.24 L433.57,71.22 L433.87,71.21 L434.17,71.20 L434.48,71.18 L434.78,71.17 L435.08,71.16 L435.39,71.14 L435.69,71.13 L436.00,71.11 L436.30,71.10" fill="none" stroke="#c42631" stroke-width="1.4" stroke-linejoin="round" stroke-linecap="round"/>
<path d="M284.40,72.42 L284.70,72.42 L285.01,72.41 L285.31,72.41 L285.62,72.41 L285.92,72.41 L286.22,72.40 L286.53,72.40 L286.83,72.40 L287.13,72.39 L287.44,72.39 L287.74,72.39 L288.05,72.38 L288.35,72.38 L288.65,72.37 L288.96,72.37 L289.26,72.37 L289.56,72.36 L289.87,72.36 L290.17,72.35 L290.48,72.35 L290.78,72.34 L291.08,72.34 L291.39,72.33 L291.69,72.33 L292.00,72.32 L292.30,72.32 L292.60,72.31 L292.91,72.30 L293.21,72.30 L293.51,72.29 L293.82,72.29 L294.12,72.28 L294.43,72.27 L294.73,72.27 L295.03,72.26 L295.34,72.25 L295.64,72.25 L295.94,72.24 L296.25,72.23 L296.55,72.22 L296.86,72.22 L297.16,72.21 L297.46,72.20 L297.77,72.19 L298.07,72.18 L298.37,72.18 L298.68,72.17 L298.98,72.16 L299.29,72.15 L299.59,72.14 L299.89,72.13 L300.20,72.12 L300.50,72.11 L300.81,72.10 L301.11,72.09 L301.41,72.08 L301.72,72.07 L302.02,72.06 L302.32,72.04 L302.63,72.03 L302.93,72.02 L303.24,72.01 L303.54,72.00 L303.84,71.98 L304.15,71.97 L304.45,71.96 L304.75,71.94 L305.06,71.93 L305.36,71.91 L305.67,71.90 L305.97,71.89 L306.27,71.87 L306.58,71.85 L306.88,71.84 L307.19,71.82 L307.49,71.80 L307.79,71.79 L308.10,71.77 L308.40,71.75 L308.70,71.73 L309.01,71.71 L309.31,71.70 L309.62,71.68 L309.92,71.66 L310.22,71.63 L310.53,71.61 L310.83,71.59 L311.13,71.57 L311.44,71.55 L311.74,71.52 L312.05,71.50 L312.35,71.47 L312.65,71.45 L312.96,71.42 L313.26,71.40 L313.56,71.37 L313.87,71.34 L314.17,71.31 L314.48,71.28 L314.78,71.25 L315.08,71.22 L315.39,71.19 L315.69,71.15 L316.00,71.12 L316.30,71.08 L316.60,71.05 L316.91,71.01 L317.21,70.97 L317.51,70.93 L317.82,70.89 L318.12,70.85 L318.43,70.81 L318.73,70.77 L319.03,70.72 L319.34,70.67 L319.64,70.62 L319.94,70.57 L320.25,70.52 L320.55,70.47 L320.86,70.42 L321.16,70.36 L321.46,70.30 L321.77,70.24 L322.07,70.18 L322.38,70.11 L322.68,70.05 L322.98,69.98 L323.29,69.91 L323.59,69.83 L323.89,69.76 L324.20,69.68 L324.50,69.60 L324.81,69.51 L325.11,69.42 L325.41,69.33 L325.72,69.24 L326.02,69.14 L326.32,69.04 L326.63,68.93 L326.93,68.82 L327.24,68.71 L327.54,68.59 L327.84,68.46 L328.15,68.33 L328.45,68.20 L328.75,68.06 L329.06,67.91 L329.36,67.76 L329.67,67.60 L329.97,67.43 L330.27,67.26 L330.58,67.08 L330.88,66.89 L331.19,66.69 L331.49,66.48 L331.79,66.27 L332.10,66.04 L332.40,65.80 L332.70,65.55 L333.01,65.29 L333.31,65.01 L333.62,64.72 L333.92,64.42 L334.22,64.10 L334.53,63.76 L334.83,63.40 L335.13,63.03 L335.44,62.64 L335.74,62.22 L336.05,61.79 L336.35,61.32 L336.65,60.84 L336.96,60.32 L337.26,59.78 L337.56,59.21 L337.87,58.61 L338.17,57.97 L338.48,57.30 L338.78,56.59 L339.08,55.84 L339.39,55.05 L339.69,54.22 L340.00,53.34 L340.30,52.42 L340.60,51.45 L340.91,50.43 L341.21,49.37 L341.51,48.26 L341.82,47.11 L342.12,45.91 L342.43,44.68 L342.73,43.41 L343.03,42.11 L343.34,40.79 L343.64,39.47 L343.94,38.14 L344.25,36.83 L344.55,35.56 L344.86,34.33 L345.16,33.18 L345.46,32.11 L345.77,31.15 L346.07,30.32 L346.38,29.63 L346.68,29.11 L346.98,28.76 L347.29,28.60 L347.59,28.92 L347.89,30.38 L348.20,32.75 L348.50,35.67 L348.81,38.80 L349.11,41.87 L349.41,44.74 L349.72,47.31 L350.02,49.58 L350.32,51.56 L350.63,53.27 L350.93,54.74 L351.24,56.02 L351.54,57.13 L351.84,58.09 L352.15,58.93 L352.45,59.68 L352.75,60.33 L353.06,60.91 L353.36,61.43 L353.67,61.90 L353.97,62.32 L354.27,62.70 L354.58,63.04 L354.88,63.36 L355.19,63.65 L355.49,63.92 L355.79,64.17 L356.10,64.39 L356.40,64.61 L356.70,64.81 L357.01,64.99 L357.31,65.17 L357.62,65.33 L357.92,65.49 L358.22,65.63 L358.53,65.77 L358.83,65.90 L359.13,66.03 L359.44,66.15 L359.74,66.26 L360.05,66.37 L360.35,66.47 L360.65,66.57 L360.96,66.66 L361.26,66.76 L361.57,66.84 L361.87,66.93 L362.17,67.01 L362.48,67.09 L362.78,67.17 L363.08,67.24 L363.39,67.31 L363.69,67.38 L364.00,67.45 L364.30,67.51 L364.60,67.57 L364.91,67.63 L365.21,67.69 L365.51,67.75 L365.82,67.81 L366.12,67.86 L366.43,67.91 L366.73,67.97 L367.03,68.02 L367.34,68.07 L367.64,68.11 L367.94,68.16 L368.25,68.21 L368.55,68.25 L368.86,68.29 L369.16,68.34 L369.46,68.38 L369.77,68.42 L370.07,68.46 L370.38,68.50 L370.68,68.54 L370.98,68.57 L371.29,68.61 L371.59,68.65 L371.89,68.68 L372.20,68.72 L372.50,68.75 L372.81,68.79 L373.11,68.82 L373.41,68.85 L373.72,68.88 L374.02,68.91 L374.32,68.94 L374.63,68.97 L374.93,69.00 L375.24,69.03 L375.54,69.06 L375.84,69.09 L376.15,69.11 L376.45,69.14 L376.76,69.17 L377.06,69.19 L377.36,69.22 L377.67,69.25 L377.97,69.27 L378.27,69.29 L378.58,69.32 L378.88,69.34 L379.19,69.37 L379.49,69.39 L379.79,69.41 L380.10,69.43 L380.40,69.46 L380.70,69.48 L381.01,69.50 L381.31,69.52 L381.62,69.54 L381.92,69.56 L382.22,69.58 L382.53,69.60 L382.83,69.62 L383.13,69.64 L383.44,69.66 L383.74,69.68 L384.05,69.70 L384.35,69.71 L384.65,69.73 L384.96,69.75 L385.26,69.77 L385.57,69.78 L385.87,69.80 L386.17,69.82 L386.48,69.84 L386.78,69.85 L387.08,69.87 L387.39,69.88 L387.69,69.90 L388.00,69.92 L388.30,69.93 L388.60,69.95 L388.91,69.96 L389.21,69.98 L389.51,69.99 L389.82,70.01 L390.12,70.02 L390.43,70.03 L390.73,70.05 L391.03,70.06 L391.34,70.08 L391.64,70.09 L391.95,70.10 L392.25,70.12 L392.55,70.13 L392.86,70.14 L393.16,70.15 L393.46,70.17 L393.77,70.18 L394.07,70.19 L394.38,70.20 L394.68,70.22 L394.98,70.23 L395.29,70.24 L395.59,70.25 L395.89,70.26 L396.20,70.27 L396.50,70.29 L396.81,70.30 L397.11,70.31 L397.41,70.32 L397.72,70.33 L398.02,70.34 L398.32,70.35 L398.63,70.36 L398.93,70.37 L399.24,70.38 L399.54,70.39 L399.84,70.40 L400.15,70.41 L400.45,70.42 L400.76,70.43 L401.06,70.44 L401.36,70.45 L401.67,70.46 L401.97,70.47 L402.27,70.48 L402.58,70.49 L402.88,70.50 L403.19,70.50 L403.49,70.51 L403.79,70.52 L404.10,70.53 L404.40,70.54 L404.70,70.55 L405.01,70.56 L405.31,70.56 L405.62,70.57 L405.92,70.58 L406.22,70.59 L406.53,70.60 L406.83,70.60 L407.14,70.61 L407.44,70.62 L407.74,70.63 L408.05,70.64 L408.35,70.64 L408.65,70.65 L408.96,70.66 L409.26,70.66 L409.57,70.67 L409.87,70.68 L410.17,70.69 L410.48,70.69 L410.78,70.70 L411.08,70.71 L411.39,70.71 L411.69,70.72 L412.00,70.73 L412.30,70.73 L412.60,70.74 L412.91,70.75 L413.21,70.75 L413.51,70.76 L413.82,70.77 L414.12,70.77 L414.43,70.78 L414.73,70.78 L415.03,70.79 L415.34,70.80 L415.64,70.80 L415.95,70.81 L416.25,70.81 L416.55,70.82 L416.86,70.83 L417.16,70.83 L417.46,70.84 L417.77,70.84 L418.07,70.85 L418.38,70.85 L418.68,70.86 L418.98,70.86 L419.29,70.87 L419.59,70.87 L419.89,70.88 L420.20,70.89 L420.50,70.89 L420.81,70.90 L421.11,70.90 L421.41,70.91 L421.72,70.91 L422.02,70.92 L422.33,70.92 L422.63,70.92 L422.93,70.93 L423.24,70.93 L423.54,70.94 L423.84,70.94 L424.15,70.95 L424.45,70.95 L424.76,70.96 L425.06,70.96 L425.36,70.97 L425.67,70.97 L425.97,70.97 L426.27,70.98 L426.58,70.98 L426.88,70.99 L427.19,70.99 L427.49,71.00 L427.79,71.00 L428.10,71.00 L428.40,71.01 L428.71,71.01 L429.01,71.02 L429.31,71.02 L429.62,71.02 L429.92,71.03 L430.22,71.03 L430.53,71.03 L430.83,71.04 L431.14,71.04 L431.44,71.05 L431.74,71.05 L432.05,71.05 L432.35,71.06 L432.65,71.06 L432.96,71.06 L433.26,71.07 L433.57,71.07 L433.87,71.07 L434.17,71.08 L434.48,71.08 L434.78,71.08 L435.08,71.09 L435.39,71.09 L435.69,71.09 L436.00,71.10 L436.30,71.10" fill="none" stroke="#3a5ccc" stroke-width="1.2" stroke-linejoin="round" stroke-linecap="round"/>
<path d="M284.40,75.77 L284.70,75.77 L285.01,75.77 L285.31,75.77 L285.62,75.77 L285.92,75.77 L286.22,75.77 L286.53,75.76 L286.83,75.76 L287.13,75.76 L287.44,75.76 L287.74,75.75 L288.05,75.75 L288.35,75.75 L288.65,75.75 L288.96,75.74 L289.26,75.74 L289.56,75.74 L289.87,75.73 L290.17,75.73 L290.48,75.73 L290.78,75.73 L291.08,75.72 L291.39,75.72 L291.69,75.72 L292.00,75.71 L292.30,75.71 L292.60,75.71 L292.91,75.70 L293.21,75.70 L293.51,75.70 L293.82,75.70 L294.12,75.69 L294.43,75.69 L294.73,75.69 L295.03,75.68 L295.34,75.68 L295.64,75.68 L295.94,75.67 L296.25,75.67 L296.55,75.67 L296.86,75.67 L297.16,75.66 L297.46,75.66 L297.77,75.66 L298.07,75.66 L298.37,75.65 L298.68,75.65 L298.98,75.65 L299.29,75.65 L299.59,75.65 L299.89,75.64 L300.20,75.64 L300.50,75.64 L300.81,75.64 L301.11,75.64 L301.41,75.64 L301.72,75.64 L302.02,75.64 L302.32,75.63 L302.63,75.63 L302.93,75.63 L303.24,75.63 L303.54,75.63 L303.84,75.64 L304.15,75.64 L304.45,75.64 L304.75,75.64 L305.06,75.64 L305.36,75.64 L305.67,75.65 L305.97,75.65 L306.27,75.65 L306.58,75.66 L306.88,75.66 L307.19,75.66 L307.49,75.67 L307.79,75.68 L308.10,75.68 L308.40,75.69 L308.70,75.70 L309.01,75.71 L309.31,75.72 L309.62,75.73 L309.92,75.74 L310.22,75.75 L310.53,75.76 L310.83,75.78 L311.13,75.80 L311.44,75.81 L311.74,75.83 L312.05,75.85 L312.35,75.88 L312.65,75.90 L312.96,75.93 L313.26,75.96 L313.56,75.99 L313.87,76.03 L314.17,76.07 L314.48,76.11 L314.78,76.16 L315.08,76.21 L315.39,76.27 L315.69,76.33 L316.00,76.40 L316.30,76.47 L316.60,76.56 L316.91,76.65 L317.21,76.76 L317.51,76.87 L317.82,77.00 L318.12,77.15 L318.43,77.31 L318.73,77.49 L319.03,77.70 L319.34,77.94 L319.64,78.21 L319.94,78.52 L320.25,78.88 L320.55,79.30 L320.86,79.79 L321.16,80.37 L321.46,81.05 L321.77,81.86 L322.07,82.85 L322.38,85.29 L322.68,88.17 L322.98,91.47 L323.29,95.11 L323.59,98.97 L323.89,102.91 L324.20,106.74 L324.50,110.24 L324.81,113.23 L325.11,115.49 L325.41,116.89 L325.72,117.32 L326.02,117.17 L326.32,116.77 L326.63,116.12 L326.93,115.26 L327.24,114.21 L327.54,113.00 L327.84,111.66 L328.15,110.23 L328.45,108.74 L328.75,107.22 L329.06,105.69 L329.36,104.17 L329.67,102.68 L329.97,101.22 L330.27,99.82 L330.58,98.48 L330.88,97.20 L331.19,95.98 L331.49,94.83 L331.79,93.74 L332.10,92.71 L332.40,91.75 L332.70,90.84 L333.01,89.99 L333.31,89.19 L333.62,88.44 L333.92,87.74 L334.22,87.08 L334.53,86.46 L334.83,85.88 L335.13,85.34 L335.44,84.83 L335.74,84.35 L336.05,83.90 L336.35,83.47 L336.65,83.07 L336.96,82.70 L337.26,82.34 L337.56,82.01 L337.87,81.69 L338.17,81.39 L338.48,81.11 L338.78,80.84 L339.08,80.58 L339.39,80.34 L339.69,80.11 L340.00,79.90 L340.30,79.69 L340.60,79.49 L340.91,79.31 L341.21,79.13 L341.51,78.96 L341.82,78.79 L342.12,78.64 L342.43,78.49 L342.73,78.35 L343.03,78.21 L343.34,78.08 L343.64,77.96 L343.94,77.84 L344.25,77.72 L344.55,77.61 L344.86,77.51 L345.16,77.40 L345.46,77.31 L345.77,77.21 L346.07,77.12 L346.38,77.03 L346.68,76.95 L346.98,76.86 L347.29,76.79 L347.59,76.71 L347.89,76.64 L348.20,76.56 L348.50,76.49 L348.81,76.43 L349.11,76.36 L349.41,76.30 L349.72,76.24 L350.02,76.18 L350.32,76.12 L350.63,76.06 L350.93,76.01 L351.24,75.96 L351.54,75.90 L351.84,75.85 L352.15,75.80 L352.45,75.76 L352.75,75.71 L353.06,75.67 L353.36,75.62 L353.67,75.58 L353.97,75.54 L354.27,75.49 L354.58,75.45 L354.88,75.41 L355.19,75.38 L355.49,75.34 L355.79,75.30 L356.10,75.26 L356.40,75.23 L356.70,75.19 L357.01,75.16 L357.31,75.13 L357.62,75.09 L357.92,75.06 L358.22,75.03 L358.53,75.00 L358.83,74.97 L359.13,74.94 L359.44,74.91 L359.74,74.88 L360.05,74.85 L360.35,74.82 L360.65,74.80 L360.96,74.77 L361.26,74.74 L361.57,74.72 L361.87,74.69 L362.17,74.66 L362.48,74.64 L362.78,74.61 L363.08,74.59 L363.39,74.57 L363.69,74.54 L364.00,74.52 L364.30,74.50 L364.60,74.47 L364.91,74.45 L365.21,74.43 L365.51,74.40 L365.82,74.38 L366.12,74.36 L366.43,74.34 L366.73,74.32 L367.03,74.30 L367.34,74.28 L367.64,74.26 L367.94,74.24 L368.25,74.22 L368.55,74.20 L368.86,74.18 L369.16,74.16 L369.46,74.14 L369.77,74.12 L370.07,74.10 L370.38,74.08 L370.68,74.06 L370.98,74.04 L371.29,74.02 L371.59,74.01 L371.89,73.99 L372.20,73.97 L372.50,73.95 L372.81,73.93 L373.11,73.92 L373.41,73.90 L373.72,73.88 L374.02,73.87 L374.32,73.85 L374.63,73.83 L374.93,73.81 L375.24,73.80 L375.54,73.78 L375.84,73.76 L376.15,73.75 L376.45,73.73 L376.76,73.71 L377.06,73.70 L377.36,73.68 L377.67,73.67 L377.97,73.65 L378.27,73.63 L378.58,73.62 L378.88,73.60 L379.19,73.59 L379.49,73.57 L379.79,73.56 L380.10,73.54 L380.40,73.53 L380.70,73.51 L381.01,73.50 L381.31,73.48 L381.62,73.47 L381.92,73.45 L382.22,73.44 L382.53,73.42 L382.83,73.41 L383.13,73.39 L383.44,73.38 L383.74,73.36 L384.05,73.35 L384.35,73.33 L384.65,73.32 L384.96,73.30 L385.26,73.29 L385.57,73.27 L385.87,73.26 L386.17,73.25 L386.48,73.23 L386.78,73.22 L387.08,73.20 L387.39,73.19 L387.69,73.17 L388.00,73.16 L388.30,73.15 L388.60,73.13 L388.91,73.12 L389.21,73.10 L389.51,73.09 L389.82,73.08 L390.12,73.06 L390.43,73.05 L390.73,73.04 L391.03,73.02 L391.34,73.01 L391.64,72.99 L391.95,72.98 L392.25,72.97 L392.55,72.95 L392.86,72.94 L393.16,72.93 L393.46,72.91 L393.77,72.90 L394.07,72.89 L394.38,72.87 L394.68,72.86 L394.98,72.85 L395.29,72.83 L395.59,72.82 L395.89,72.81 L396.20,72.79 L396.50,72.78 L396.81,72.77 L397.11,72.75 L397.41,72.74 L397.72,72.73 L398.02,72.71 L398.32,72.70 L398.63,72.69 L398.93,72.67 L399.24,72.66 L399.54,72.65 L399.84,72.63 L400.15,72.62 L400.45,72.61 L400.76,72.59 L401.06,72.58 L401.36,72.57 L401.67,72.55 L401.97,72.54 L402.27,72.53 L402.58,72.52 L402.88,72.50 L403.19,72.49 L403.49,72.48 L403.79,72.46 L404.10,72.45 L404.40,72.44 L404.70,72.42 L405.01,72.41 L405.31,72.40 L405.62,72.39 L405.92,72.37 L406.22,72.36 L406.53,72.35 L406.83,72.33 L407.14,72.32 L407.44,72.31 L407.74,72.30 L408.05,72.28 L408.35,72.27 L408.65,72.26 L408.96,72.24 L409.26,72.23 L409.57,72.22 L409.87,72.21 L410.17,72.19 L410.48,72.18 L410.78,72.17 L411.08,72.16 L411.39,72.14 L411.69,72.13 L412.00,72.12 L412.30,72.10 L412.60,72.09 L412.91,72.08 L413.21,72.07 L413.51,72.05 L413.82,72.04 L414.12,72.03 L414.43,72.01 L414.73,72.00 L415.03,71.99 L415.34,71.98 L415.64,71.96 L415.95,71.95 L416.25,71.94 L416.55,71.93 L416.86,71.91 L417.16,71.90 L417.46,71.89 L417.77,71.87 L418.07,71.86 L418.38,71.85 L418.68,71.84 L418.98,71.82 L419.29,71.81 L419.59,71.80 L419.89,71.79 L420.20,71.77 L420.50,71.76 L420.81,71.75 L421.11,71.74 L421.41,71.72 L421.72,71.71 L422.02,71.70 L422.33,71.68 L422.63,71.67 L422.93,71.66 L423.24,71.65 L423.54,71.63 L423.84,71.62 L424.15,71.61 L424.45,71.60 L424.76,71.58 L425.06,71.57 L425.36,71.56 L425.67,71.54 L425.97,71.53 L426.27,71.52 L426.58,71.51 L426.88,71.49 L427.19,71.48 L427.49,71.47 L427.79,71.46 L428.10,71.44 L428.40,71.43 L428.71,71.42 L429.01,71.41 L429.31,71.39 L429.62,71.38 L429.92,71.37 L430.22,71.35 L430.53,71.34 L430.83,71.33 L431.14,71.32 L431.44,71.30 L431.74,71.29 L432.05,71.28 L432.35,71.27 L432.65,71.25 L432.96,71.24 L433.26,71.23 L433.57,71.21 L433.87,71.20 L434.17,71.19 L434.48,71.18 L434.78,71.16 L435.08,71.15 L435.39,71.14 L435.69,71.13 L436.00,71.11 L436.30,71.10" fill="none" stroke="#3a5ccc" stroke-width="1.2" stroke-linejoin="round" stroke-linecap="round"/>
<path d="M284.40,72.67 L284.70,72.67 L285.01,72.67 L285.31,72.66 L285.62,72.66 L285.92,72.66 L286.22,72.66 L286.53,72.65 L286.83,72.65 L287.13,72.65 L287.44,72.64 L287.74,72.64 L288.05,72.64 L288.35,72.63 L288.65,72.63 L288.96,72.62 L289.26,72.62 L289.56,72.62 L289.87,72.61 L290.17,72.61 L290.48,72.60 L290.78,72.60 L291.08,72.59 L291.39,72.59 L291.69,72.58 L292.00,72.58 L292.30,72.57 L292.60,72.57 L292.91,72.56 L293.21,72.56 L293.51,72.55 L293.82,72.54 L294.12,72.54 L294.43,72.53 L294.73,72.52 L295.03,72.52 L295.34,72.51 L295.64,72.50 L295.94,72.50 L296.25,72.49 L296.55,72.48 L296.86,72.48 L297.16,72.47 L297.46,72.46 L297.77,72.45 L298.07,72.44 L298.37,72.44 L298.68,72.43 L298.98,72.42 L299.29,72.41 L299.59,72.40 L299.89,72.39 L300.20,72.38 L300.50,72.37 L300.81,72.36 L301.11,72.35 L301.41,72.34 L301.72,72.33 L302.02,72.32 L302.32,72.31 L302.63,72.30 L302.93,72.29 L303.24,72.27 L303.54,72.26 L303.84,72.25 L304.15,72.24 L304.45,72.22 L304.75,72.21 L305.06,72.20 L305.36,72.18 L305.67,72.17 L305.97,72.16 L306.27,72.14 L306.58,72.13 L306.88,72.11 L307.19,72.09 L307.49,72.08 L307.79,72.06 L308.10,72.04 L308.40,72.03 L308.70,72.01 L309.01,71.99 L309.31,71.97 L309.62,71.95 L309.92,71.93 L310.22,71.91 L310.53,71.89 L310.83,71.87 L311.13,71.85 L311.44,71.83 L311.74,71.81 L312.05,71.78 L312.35,71.76 L312.65,71.73 L312.96,71.71 L313.26,71.68 L313.56,71.66 L313.87,71.63 L314.17,71.60 L314.48,71.57 L314.78,71.54 L315.08,71.51 L315.39,71.48 L315.69,71.45 L316.00,71.42 L316.30,71.38 L316.60,71.35 L316.91,71.31 L317.21,71.27 L317.51,71.23 L317.82,71.20 L318.12,71.15 L318.43,71.11 L318.73,71.07 L319.03,71.03 L319.34,70.98 L319.64,70.93 L319.94,70.88 L320.25,70.83 L320.55,70.78 L320.86,70.73 L321.16,70.67 L321.46,70.61 L321.77,70.56 L322.07,70.49 L322.38,70.43 L322.68,70.36 L322.98,70.30 L323.29,70.23 L323.59,70.15 L323.89,70.08 L324.20,70.00 L324.50,69.92 L324.81,69.83 L325.11,69.74 L325.41,69.65 L325.72,69.56 L326.02,69.46 L326.32,69.36 L326.63,69.25 L326.93,69.14 L327.24,69.02 L327.54,68.90 L327.84,68.78 L328.15,68.65 L328.45,68.51 L328.75,68.37 L329.06,68.22 L329.36,68.06 L329.67,67.90 L329.97,67.73 L330.27,67.55 L330.58,67.37 L330.88,67.17 L331.19,66.97 L331.49,66.75 L331.79,66.53 L332.10,66.29 L332.40,66.04 L332.70,65.78 L333.01,65.51 L333.31,65.22 L333.62,64.92 L333.92,64.60 L334.22,64.26 L334.53,63.91 L334.83,63.53 L335.13,63.14 L335.44,62.72 L335.74,62.29 L336.05,61.82 L336.35,61.33 L336.65,60.82 L336.96,60.27 L337.26,59.70 L337.56,59.09 L337.87,58.45 L338.17,57.78 L338.48,57.07 L338.78,56.32 L339.08,55.53 L339.39,54.70 L339.69,53.83 L340.00,52.93 L340.30,51.98 L340.60,50.99 L340.91,49.97 L341.21,48.91 L341.51,47.83 L341.82,46.72 L342.12,45.59 L342.43,44.46 L342.73,43.32 L343.03,42.20 L343.34,41.11 L343.64,40.05 L343.94,39.06 L344.25,38.14 L344.55,37.31 L344.86,36.60 L345.16,36.00 L345.46,35.55 L345.77,35.24 L346.07,35.09 L346.38,35.33 L346.68,36.52 L346.98,38.48 L347.29,40.91 L347.59,43.53 L347.89,46.12 L348.20,48.53 L348.50,50.70 L348.81,52.62 L349.11,54.29 L349.41,55.74 L349.72,56.99 L350.02,58.07 L350.32,59.01 L350.63,59.83 L350.93,60.55 L351.24,61.18 L351.54,61.74 L351.84,62.24 L352.15,62.68 L352.45,63.08 L352.75,63.44 L353.06,63.77 L353.36,64.07 L353.67,64.34 L353.97,64.59 L354.27,64.82 L354.58,65.03 L354.88,65.23 L355.19,65.42 L355.49,65.59 L355.79,65.75 L356.10,65.90 L356.40,66.05 L356.70,66.18 L357.01,66.31 L357.31,66.43 L357.62,66.55 L357.92,66.66 L358.22,66.76 L358.53,66.86 L358.83,66.96 L359.13,67.05 L359.44,67.14 L359.74,67.22 L360.05,67.30 L360.35,67.38 L360.65,67.45 L360.96,67.53 L361.26,67.60 L361.57,67.66 L361.87,67.73 L362.17,67.79 L362.48,67.85 L362.78,67.91 L363.08,67.97 L363.39,68.03 L363.69,68.08 L364.00,68.13 L364.30,68.18 L364.60,68.23 L364.91,68.28 L365.21,68.33 L365.51,68.38 L365.82,68.42 L366.12,68.47 L366.43,68.51 L366.73,68.55 L367.03,68.59 L367.34,68.63 L367.64,68.67 L367.94,68.71 L368.25,68.75 L368.55,68.78 L368.86,68.82 L369.16,68.85 L369.46,68.89 L369.77,68.92 L370.07,68.96 L370.38,68.99 L370.68,69.02 L370.98,69.05 L371.29,69.08 L371.59,69.11 L371.89,69.14 L372.20,69.17 L372.50,69.20 L372.81,69.22 L373.11,69.25 L373.41,69.28 L373.72,69.30 L374.02,69.33 L374.32,69.36 L374.63,69.38 L374.93,69.41 L375.24,69.43 L375.54,69.45 L375.84,69.48 L376.15,69.50 L376.45,69.52 L376.76,69.54 L377.06,69.57 L377.36,69.59 L377.67,69.61 L377.97,69.63 L378.27,69.65 L378.58,69.67 L378.88,69.69 L379.19,69.71 L379.49,69.73 L379.79,69.75 L380.10,69.77 L380.40,69.78 L380.70,69.80 L381.01,69.82 L381.31,69.84 L381.62,69.86 L381.92,69.87 L382.22,69.89 L382.53,69.91 L382.83,69.92 L383.13,69.94 L383.44,69.96 L383.74,69.97 L384.05,69.99 L384.35,70.00 L384.65,70.02 L384.96,70.03 L385.26,70.05 L385.57,70.06 L385.87,70.08 L386.17,70.09 L386.48,70.10 L386.78,70.12 L387.08,70.13 L387.39,70.14 L387.69,70.16 L388.00,70.17 L388.30,70.18 L388.60,70.20 L388.91,70.21 L389.21,70.22 L389.51,70.23 L389.82,70.25 L390.12,70.26 L390.43,70.27 L390.73,70.28 L391.03,70.29 L391.34,70.30 L391.64,70.31 L391.95,70.33 L392.25,70.34 L392.55,70.35 L392.86,70.36 L393.16,70.37 L393.46,70.38 L393.77,70.39 L394.07,70.40 L394.38,70.41 L394.68,70.42 L394.98,70.43 L395.29,70.44 L395.59,70.45 L395.89,70.46 L396.20,70.47 L396.50,70.48 L396.81,70.49 L397.11,70.49 L397.41,70.50 L397.72,70.51 L398.02,70.52 L398.32,70.53 L398.63,70.54 L398.93,70.55 L399.24,70.55 L399.54,70.56 L399.84,70.57 L400.15,70.58 L400.45,70.59 L400.76,70.59 L401.06,70.60 L401.36,70.61 L401.67,70.62 L401.97,70.63 L402.27,70.63 L402.58,70.64 L402.88,70.65 L403.19,70.65 L403.49,70.66 L403.79,70.67 L404.10,70.68 L404.40,70.68 L404.70,70.69 L405.01,70.70 L405.31,70.70 L405.62,70.71 L405.92,70.72 L406.22,70.72 L406.53,70.73 L406.83,70.73 L407.14,70.74 L407.44,70.75 L407.74,70.75 L408.05,70.76 L408.35,70.76 L408.65,70.77 L408.96,70.78 L409.26,70.78 L409.57,70.79 L409.87,70.79 L410.17,70.80 L410.48,70.80 L410.78,70.81 L411.08,70.82 L411.39,70.82 L411.69,70.83 L412.00,70.83 L412.30,70.84 L412.60,70.84 L412.91,70.85 L413.21,70.85 L413.51,70.86 L413.82,70.86 L414.12,70.87 L414.43,70.87 L414.73,70.88 L415.03,70.88 L415.34,70.88 L415.64,70.89 L415.95,70.89 L416.25,70.90 L416.55,70.90 L416.86,70.91 L417.16,70.91 L417.46,70.91 L417.77,70.92 L418.07,70.92 L418.38,70.93 L418.68,70.93 L418.98,70.94 L419.29,70.94 L419.59,70.94 L419.89,70.95 L420.20,70.95 L420.50,70.95 L420.81,70.96 L421.11,70.96 L421.41,70.97 L421.72,70.97 L422.02,70.97 L422.33,70.98 L422.63,70.98 L422.93,70.98 L423.24,70.99 L423.54,70.99 L423.84,70.99 L424.15,71.00 L424.45,71.00 L424.76,71.00 L425.06,71.01 L425.36,71.01 L425.67,71.01 L425.97,71.02 L426.27,71.02 L426.58,71.02 L426.88,71.02 L427.19,71.03 L427.49,71.03 L427.79,71.03 L428.10,71.04 L428.40,71.04 L428.71,71.04 L429.01,71.04 L429.31,71.05 L429.62,71.05 L429.92,71.05 L430.22,71.05 L430.53,71.06 L430.83,71.06 L431.14,71.06 L431.44,71.06 L431.74,71.07 L432.05,71.07 L432.35,71.07 L432.65,71.07 L432.96,71.08 L433.26,71.08 L433.57,71.08 L433.87,71.08 L434.17,71.09 L434.48,71.09 L434.78,71.09 L435.08,71.09 L435.39,71.09 L435.69,71.10 L436.00,71.10 L436.30,71.10" fill="none" stroke="#b04fc8" stroke-width="1.2" stroke-linejoin="round" stroke-linecap="round"/>
<path d="M284.40,75.56 L284.70,75.56 L285.01,75.56 L285.31,75.56 L285.62,75.56 L285.92,75.56 L286.22,75.56 L286.53,75.55 L286.83,75.55 L287.13,75.55 L287.44,75.55 L287.74,75.54 L288.05,75.54 L288.35,75.54 L288.65,75.54 L288.96,75.53 L289.26,75.53 L289.56,75.53 L289.87,75.52 L290.17,75.52 L290.48,75.52 L290.78,75.51 L291.08,75.51 L291.39,75.51 L291.69,75.51 L292.00,75.50 L292.30,75.50 L292.60,75.50 L292.91,75.49 L293.21,75.49 L293.51,75.49 L293.82,75.48 L294.12,75.48 L294.43,75.48 L294.73,75.47 L295.03,75.47 L295.34,75.47 L295.64,75.46 L295.94,75.46 L296.25,75.46 L296.55,75.46 L296.86,75.45 L297.16,75.45 L297.46,75.45 L297.77,75.44 L298.07,75.44 L298.37,75.44 L298.68,75.44 L298.98,75.43 L299.29,75.43 L299.59,75.43 L299.89,75.43 L300.20,75.42 L300.50,75.42 L300.81,75.42 L301.11,75.42 L301.41,75.42 L301.72,75.41 L302.02,75.41 L302.32,75.41 L302.63,75.41 L302.93,75.41 L303.24,75.41 L303.54,75.41 L303.84,75.41 L304.15,75.41 L304.45,75.40 L304.75,75.40 L305.06,75.40 L305.36,75.41 L305.67,75.41 L305.97,75.41 L306.27,75.41 L306.58,75.41 L306.88,75.41 L307.19,75.41 L307.49,75.42 L307.79,75.42 L308.10,75.42 L308.40,75.43 L308.70,75.43 L309.01,75.44 L309.31,75.44 L309.62,75.45 L309.92,75.46 L310.22,75.47 L310.53,75.47 L310.83,75.48 L311.13,75.49 L311.44,75.51 L311.74,75.52 L312.05,75.53 L312.35,75.55 L312.65,75.56 L312.96,75.58 L313.26,75.60 L313.56,75.62 L313.87,75.65 L314.17,75.67 L314.48,75.70 L314.78,75.73 L315.08,75.76 L315.39,75.80 L315.69,75.84 L316.00,75.88 L316.30,75.93 L316.60,75.98 L316.91,76.04 L317.21,76.11 L317.51,76.18 L317.82,76.26 L318.12,76.34 L318.43,76.44 L318.73,76.55 L319.03,76.67 L319.34,76.81 L319.64,76.96 L319.94,77.14 L320.25,77.34 L320.55,77.56 L320.86,77.82 L321.16,78.12 L321.46,78.46 L321.77,78.87 L322.07,79.34 L322.38,79.89 L322.68,80.55 L322.98,81.34 L323.29,82.71 L323.59,85.07 L323.89,87.83 L324.20,90.94 L324.50,94.33 L324.81,97.87 L325.11,101.42 L325.41,104.80 L325.72,107.82 L326.02,110.29 L326.32,112.06 L326.63,113.00 L326.93,113.11 L327.24,112.82 L327.54,112.23 L327.84,111.38 L328.15,110.30 L328.45,109.03 L328.75,107.61 L329.06,106.10 L329.36,104.54 L329.67,102.95 L329.97,101.37 L330.27,99.82 L330.58,98.32 L330.88,96.88 L331.19,95.51 L331.49,94.22 L331.79,93.00 L332.10,91.86 L332.40,90.80 L332.70,89.80 L333.01,88.88 L333.31,88.02 L333.62,87.22 L333.92,86.48 L334.22,85.79 L334.53,85.15 L334.83,84.56 L335.13,84.01 L335.44,83.49 L335.74,83.01 L336.05,82.57 L336.35,82.15 L336.65,81.76 L336.96,81.40 L337.26,81.05 L337.56,80.74 L337.87,80.44 L338.17,80.15 L338.48,79.89 L338.78,79.64 L339.08,79.41 L339.39,79.19 L339.69,78.98 L340.00,78.78 L340.30,78.59 L340.60,78.42 L340.91,78.25 L341.21,78.09 L341.51,77.94 L341.82,77.80 L342.12,77.66 L342.43,77.53 L342.73,77.41 L343.03,77.29 L343.34,77.18 L343.64,77.07 L343.94,76.97 L344.25,76.87 L344.55,76.77 L344.86,76.68 L345.16,76.60 L345.46,76.51 L345.77,76.43 L346.07,76.36 L346.38,76.28 L346.68,76.21 L346.98,76.14 L347.29,76.07 L347.59,76.01 L347.89,75.95 L348.20,75.89 L348.50,75.83 L348.81,75.78 L349.11,75.72 L349.41,75.67 L349.72,75.62 L350.02,75.57 L350.32,75.52 L350.63,75.47 L350.93,75.43 L351.24,75.38 L351.54,75.34 L351.84,75.30 L352.15,75.26 L352.45,75.22 L352.75,75.18 L353.06,75.14 L353.36,75.11 L353.67,75.07 L353.97,75.04 L354.27,75.00 L354.58,74.97 L354.88,74.94 L355.19,74.91 L355.49,74.87 L355.79,74.84 L356.10,74.81 L356.40,74.78 L356.70,74.76 L357.01,74.73 L357.31,74.70 L357.62,74.67 L357.92,74.65 L358.22,74.62 L358.53,74.59 L358.83,74.57 L359.13,74.54 L359.44,74.52 L359.74,74.50 L360.05,74.47 L360.35,74.45 L360.65,74.43 L360.96,74.40 L361.26,74.38 L361.57,74.36 L361.87,74.34 L362.17,74.32 L362.48,74.29 L362.78,74.27 L363.08,74.25 L363.39,74.23 L363.69,74.21 L364.00,74.19 L364.30,74.17 L364.60,74.15 L364.91,74.13 L365.21,74.12 L365.51,74.10 L365.82,74.08 L366.12,74.06 L366.43,74.04 L366.73,74.02 L367.03,74.01 L367.34,73.99 L367.64,73.97 L367.94,73.95 L368.25,73.94 L368.55,73.92 L368.86,73.90 L369.16,73.89 L369.46,73.87 L369.77,73.85 L370.07,73.84 L370.38,73.82 L370.68,73.80 L370.98,73.79 L371.29,73.77 L371.59,73.76 L371.89,73.74 L372.20,73.73 L372.50,73.71 L372.81,73.69 L373.11,73.68 L373.41,73.66 L373.72,73.65 L374.02,73.63 L374.32,73.62 L374.63,73.60 L374.93,73.59 L375.24,73.58 L375.54,73.56 L375.84,73.55 L376.15,73.53 L376.45,73.52 L376.76,73.50 L377.06,73.49 L377.36,73.47 L377.67,73.46 L377.97,73.45 L378.27,73.43 L378.58,73.42 L378.88,73.40 L379.19,73.39 L379.49,73.38 L379.79,73.36 L380.10,73.35 L380.40,73.34 L380.70,73.32 L381.01,73.31 L381.31,73.30 L381.62,73.28 L381.92,73.27 L382.22,73.26 L382.53,73.24 L382.83,73.23 L383.13,73.22 L383.44,73.20 L383.74,73.19 L384.05,73.18 L384.35,73.16 L384.65,73.15 L384.96,73.14 L385.26,73.12 L385.57,73.11 L385.87,73.10 L386.17,73.09 L386.48,73.07 L386.78,73.06 L387.08,73.05 L387.39,73.04 L387.69,73.02 L388.00,73.01 L388.30,73.00 L388.60,72.98 L388.91,72.97 L389.21,72.96 L389.51,72.95 L389.82,72.93 L390.12,72.92 L390.43,72.91 L390.73,72.90 L391.03,72.88 L391.34,72.87 L391.64,72.86 L391.95,72.85 L392.25,72.83 L392.55,72.82 L392.86,72.81 L393.16,72.80 L393.46,72.79 L393.77,72.77 L394.07,72.76 L394.38,72.75 L394.68,72.74 L394.98,72.72 L395.29,72.71 L395.59,72.70 L395.89,72.69 L396.20,72.68 L396.50,72.66 L396.81,72.65 L397.11,72.64 L397.41,72.63 L397.72,72.61 L398.02,72.60 L398.32,72.59 L398.63,72.58 L398.93,72.57 L399.24,72.55 L399.54,72.54 L399.84,72.53 L400.15,72.52 L400.45,72.51 L400.76,72.49 L401.06,72.48 L401.36,72.47 L401.67,72.46 L401.97,72.45 L402.27,72.43 L402.58,72.42 L402.88,72.41 L403.19,72.40 L403.49,72.39 L403.79,72.37 L404.10,72.36 L404.40,72.35 L404.70,72.34 L405.01,72.33 L405.31,72.31 L405.62,72.30 L405.92,72.29 L406.22,72.28 L406.53,72.27 L406.83,72.25 L407.14,72.24 L407.44,72.23 L407.74,72.22 L408.05,72.21 L408.35,72.19 L408.65,72.18 L408.96,72.17 L409.26,72.16 L409.57,72.15 L409.87,72.14 L410.17,72.12 L410.48,72.11 L410.78,72.10 L411.08,72.09 L411.39,72.08 L411.69,72.06 L412.00,72.05 L412.30,72.04 L412.60,72.03 L412.91,72.02 L413.21,72.00 L413.51,71.99 L413.82,71.98 L414.12,71.97 L414.43,71.96 L414.73,71.95 L415.03,71.93 L415.34,71.92 L415.64,71.91 L415.95,71.90 L416.25,71.89 L416.55,71.87 L416.86,71.86 L417.16,71.85 L417.46,71.84 L417.77,71.83 L418.07,71.81 L418.38,71.80 L418.68,71.79 L418.98,71.78 L419.29,71.77 L419.59,71.76 L419.89,71.74 L420.20,71.73 L420.50,71.72 L420.81,71.71 L421.11,71.70 L421.41,71.68 L421.72,71.67 L422.02,71.66 L422.33,71.65 L422.63,71.64 L422.93,71.62 L423.24,71.61 L423.54,71.60 L423.84,71.59 L424.15,71.58 L424.45,71.57 L424.76,71.55 L425.06,71.54 L425.36,71.53 L425.67,71.52 L425.97,71.51 L426.27,71.49 L426.58,71.48 L426.88,71.47 L427.19,71.46 L427.49,71.45 L427.79,71.43 L428.10,71.42 L428.40,71.41 L428.71,71.40 L429.01,71.39 L429.31,71.38 L429.62,71.36 L429.92,71.35 L430.22,71.34 L430.53,71.33 L430.83,71.32 L431.14,71.30 L431.44,71.29 L431.74,71.28 L432.05,71.27 L432.35,71.26 L432.65,71.24 L432.96,71.23 L433.26,71.22 L433.57,71.21 L433.87,71.20 L434.17,71.18 L434.48,71.17 L434.78,71.16 L435.08,71.15 L435.39,71.14 L435.69,71.12 L436.00,71.11 L436.30,71.10" fill="none" stroke="#b04fc8" stroke-width="1.2" stroke-linejoin="round" stroke-linecap="round"/>
<path d="M284.40,73.03 L284.70,73.03 L285.01,73.03 L285.31,73.03 L285.62,73.02 L285.92,73.02 L286.22,73.02 L286.53,73.02 L286.83,73.01 L287.13,73.01 L287.44,73.01 L287.74,73.00 L288.05,73.00 L288.35,73.00 L288.65,72.99 L288.96,72.99 L289.26,72.99 L289.56,72.98 L289.87,72.98 L290.17,72.97 L290.48,72.97 L290.78,72.97 L291.08,72.96 L291.39,72.96 L291.69,72.95 L292.00,72.95 L292.30,72.94 L292.60,72.94 L292.91,72.93 L293.21,72.93 L293.51,72.92 L293.82,72.92 L294.12,72.91 L294.43,72.91 L294.73,72.90 L295.03,72.89 L295.34,72.89 L295.64,72.88 L295.94,72.88 L296.25,72.87 L296.55,72.86 L296.86,72.86 L297.16,72.85 L297.46,72.84 L297.77,72.84 L298.07,72.83 L298.37,72.82 L298.68,72.81 L298.98,72.81 L299.29,72.80 L299.59,72.79 L299.89,72.78 L300.20,72.77 L300.50,72.77 L300.81,72.76 L301.11,72.75 L301.41,72.74 L301.72,72.73 L302.02,72.72 L302.32,72.71 L302.63,72.70 L302.93,72.69 L303.24,72.68 L303.54,72.67 L303.84,72.66 L304.15,72.65 L304.45,72.64 L304.75,72.63 L305.06,72.61 L305.36,72.60 L305.67,72.59 L305.97,72.58 L306.27,72.56 L306.58,72.55 L306.88,72.54 L307.19,72.52 L307.49,72.51 L307.79,72.50 L308.10,72.48 L308.40,72.47 L308.70,72.45 L309.01,72.44 L309.31,72.42 L309.62,72.40 L309.92,72.39 L310.22,72.37 L310.53,72.35 L310.83,72.33 L311.13,72.31 L311.44,72.30 L311.74,72.28 L312.05,72.26 L312.35,72.24 L312.65,72.21 L312.96,72.19 L313.26,72.17 L313.56,72.15 L313.87,72.12 L314.17,72.10 L314.48,72.07 L314.78,72.05 L315.08,72.02 L315.39,72.00 L315.69,71.97 L316.00,71.94 L316.30,71.91 L316.60,71.88 L316.91,71.85 L317.21,71.82 L317.51,71.78 L317.82,71.75 L318.12,71.71 L318.43,71.68 L318.73,71.64 L319.03,71.60 L319.34,71.56 L319.64,71.52 L319.94,71.48 L320.25,71.43 L320.55,71.39 L320.86,71.34 L321.16,71.29 L321.46,71.24 L321.77,71.19 L322.07,71.13 L322.38,71.08 L322.68,71.02 L322.98,70.96 L323.29,70.90 L323.59,70.83 L323.89,70.76 L324.20,70.69 L324.50,70.62 L324.81,70.55 L325.11,70.47 L325.41,70.38 L325.72,70.30 L326.02,70.21 L326.32,70.12 L326.63,70.02 L326.93,69.92 L327.24,69.81 L327.54,69.70 L327.84,69.59 L328.15,69.47 L328.45,69.34 L328.75,69.21 L329.06,69.07 L329.36,68.92 L329.67,68.77 L329.97,68.61 L330.27,68.44 L330.58,68.27 L330.88,68.08 L331.19,67.89 L331.49,67.68 L331.79,67.47 L332.10,67.24 L332.40,67.00 L332.70,66.75 L333.01,66.49 L333.31,66.21 L333.62,65.91 L333.92,65.60 L334.22,65.27 L334.53,64.92 L334.83,64.55 L335.13,64.17 L335.44,63.76 L335.74,63.32 L336.05,62.87 L336.35,62.38 L336.65,61.87 L336.96,61.34 L337.26,60.77 L337.56,60.18 L337.87,59.55 L338.17,58.90 L338.48,58.21 L338.78,57.50 L339.08,56.76 L339.39,55.99 L339.69,55.20 L340.00,54.39 L340.30,53.57 L340.60,52.74 L340.91,51.91 L341.21,51.08 L341.51,50.27 L341.82,49.49 L342.12,48.76 L342.43,48.07 L342.73,47.45 L343.03,46.91 L343.34,46.46 L343.64,46.12 L343.94,45.88 L344.25,45.76 L344.55,45.89 L344.86,46.68 L345.16,48.02 L345.46,49.71 L345.77,51.53 L346.07,53.34 L346.38,55.04 L346.68,56.57 L346.98,57.93 L347.29,59.11 L347.59,60.14 L347.89,61.02 L348.20,61.79 L348.50,62.46 L348.81,63.05 L349.11,63.56 L349.41,64.01 L349.72,64.41 L350.02,64.77 L350.32,65.09 L350.63,65.37 L350.93,65.63 L351.24,65.87 L351.54,66.09 L351.84,66.28 L352.15,66.47 L352.45,66.63 L352.75,66.79 L353.06,66.94 L353.36,67.07 L353.67,67.20 L353.97,67.32 L354.27,67.43 L354.58,67.53 L354.88,67.63 L355.19,67.73 L355.49,67.82 L355.79,67.90 L356.10,67.99 L356.40,68.06 L356.70,68.14 L357.01,68.21 L357.31,68.28 L357.62,68.34 L357.92,68.41 L358.22,68.47 L358.53,68.53 L358.83,68.58 L359.13,68.64 L359.44,68.69 L359.74,68.74 L360.05,68.79 L360.35,68.84 L360.65,68.88 L360.96,68.93 L361.26,68.97 L361.57,69.01 L361.87,69.05 L362.17,69.09 L362.48,69.13 L362.78,69.17 L363.08,69.21 L363.39,69.24 L363.69,69.28 L364.00,69.31 L364.30,69.34 L364.60,69.38 L364.91,69.41 L365.21,69.44 L365.51,69.47 L365.82,69.50 L366.12,69.53 L366.43,69.55 L366.73,69.58 L367.03,69.61 L367.34,69.64 L367.64,69.66 L367.94,69.69 L368.25,69.71 L368.55,69.74 L368.86,69.76 L369.16,69.78 L369.46,69.80 L369.77,69.83 L370.07,69.85 L370.38,69.87 L370.68,69.89 L370.98,69.91 L371.29,69.93 L371.59,69.95 L371.89,69.97 L372.20,69.99 L372.50,70.01 L372.81,70.03 L373.11,70.05 L373.41,70.06 L373.72,70.08 L374.02,70.10 L374.32,70.12 L374.63,70.13 L374.93,70.15 L375.24,70.16 L375.54,70.18 L375.84,70.20 L376.15,70.21 L376.45,70.23 L376.76,70.24 L377.06,70.25 L377.36,70.27 L377.67,70.28 L377.97,70.30 L378.27,70.31 L378.58,70.32 L378.88,70.34 L379.19,70.35 L379.49,70.36 L379.79,70.37 L380.10,70.39 L380.40,70.40 L380.70,70.41 L381.01,70.42 L381.31,70.43 L381.62,70.45 L381.92,70.46 L382.22,70.47 L382.53,70.48 L382.83,70.49 L383.13,70.50 L383.44,70.51 L383.74,70.52 L384.05,70.53 L384.35,70.54 L384.65,70.55 L384.96,70.56 L385.26,70.57 L385.57,70.58 L385.87,70.59 L386.17,70.60 L386.48,70.61 L386.78,70.61 L387.08,70.62 L387.39,70.63 L387.69,70.64 L388.00,70.65 L388.30,70.66 L388.60,70.66 L388.91,70.67 L389.21,70.68 L389.51,70.69 L389.82,70.70 L390.12,70.70 L390.43,70.71 L390.73,70.72 L391.03,70.72 L391.34,70.73 L391.64,70.74 L391.95,70.75 L392.25,70.75 L392.55,70.76 L392.86,70.76 L393.16,70.77 L393.46,70.78 L393.77,70.78 L394.07,70.79 L394.38,70.80 L394.68,70.80 L394.98,70.81 L395.29,70.81 L395.59,70.82 L395.89,70.82 L396.20,70.83 L396.50,70.84 L396.81,70.84 L397.11,70.85 L397.41,70.85 L397.72,70.86 L398.02,70.86 L398.32,70.87 L398.63,70.87 L398.93,70.88 L399.24,70.88 L399.54,70.89 L399.84,70.89 L400.15,70.90 L400.45,70.90 L400.76,70.90 L401.06,70.91 L401.36,70.91 L401.67,70.92 L401.97,70.92 L402.27,70.93 L402.58,70.93 L402.88,70.93 L403.19,70.94 L403.49,70.94 L403.79,70.94 L404.10,70.95 L404.40,70.95 L404.70,70.96 L405.01,70.96 L405.31,70.96 L405.62,70.97 L405.92,70.97 L406.22,70.97 L406.53,70.98 L406.83,70.98 L407.14,70.98 L407.44,70.99 L407.74,70.99 L408.05,70.99 L408.35,70.99 L408.65,71.00 L408.96,71.00 L409.26,71.00 L409.57,71.01 L409.87,71.01 L410.17,71.01 L410.48,71.01 L410.78,71.02 L411.08,71.02 L411.39,71.02 L411.69,71.02 L412.00,71.03 L412.30,71.03 L412.60,71.03 L412.91,71.03 L413.21,71.03 L413.51,71.04 L413.82,71.04 L414.12,71.04 L414.43,71.04 L414.73,71.04 L415.03,71.05 L415.34,71.05 L415.64,71.05 L415.95,71.05 L416.25,71.05 L416.55,71.06 L416.86,71.06 L417.16,71.06 L417.46,71.06 L417.77,71.06 L418.07,71.06 L418.38,71.07 L418.68,71.07 L418.98,71.07 L419.29,71.07 L419.59,71.07 L419.89,71.07 L420.20,71.07 L420.50,71.07 L420.81,71.08 L421.11,71.08 L421.41,71.08 L421.72,71.08 L422.02,71.08 L422.33,71.08 L422.63,71.08 L422.93,71.08 L423.24,71.08 L423.54,71.09 L423.84,71.09 L424.15,71.09 L424.45,71.09 L424.76,71.09 L425.06,71.09 L425.36,71.09 L425.67,71.09 L425.97,71.09 L426.27,71.09 L426.58,71.09 L426.88,71.09 L427.19,71.09 L427.49,71.10 L427.79,71.10 L428.10,71.10 L428.40,71.10 L428.71,71.10 L429.01,71.10 L429.31,71.10 L429.62,71.10 L429.92,71.10 L430.22,71.10 L430.53,71.10 L430.83,71.10 L431.14,71.10 L431.44,71.10 L431.74,71.10 L432.05,71.10 L432.35,71.10 L432.65,71.10 L432.96,71.10 L433.26,71.10 L433.57,71.10 L433.87,71.10 L434.17,71.10 L434.48,71.10 L434.78,71.10 L435.08,71.10 L435.39,71.10 L435.69,71.10 L436.00,71.10 L436.30,71.10" fill="none" stroke="#3f8f3f" stroke-width="1.2" stroke-linejoin="round" stroke-linecap="round"/>
<path d="M284.40,75.27 L284.70,75.27 L285.01,75.27 L285.31,75.27 L285.62,75.27 L285.92,75.27 L286.22,75.26 L286.53,75.26 L286.83,75.26 L287.13,75.25 L287.44,75.25 L287.74,75.25 L288.05,75.25 L288.35,75.24 L288.65,75.24 L288.96,75.24 L289.26,75.23 L289.56,75.23 L289.87,75.23 L290.17,75.22 L290.48,75.22 L290.78,75.21 L291.08,75.21 L291.39,75.21 L291.69,75.20 L292.00,75.20 L292.30,75.20 L292.60,75.19 L292.91,75.19 L293.21,75.18 L293.51,75.18 L293.82,75.18 L294.12,75.17 L294.43,75.17 L294.73,75.16 L295.03,75.16 L295.34,75.15 L295.64,75.15 L295.94,75.15 L296.25,75.14 L296.55,75.14 L296.86,75.13 L297.16,75.13 L297.46,75.12 L297.77,75.12 L298.07,75.12 L298.37,75.11 L298.68,75.11 L298.98,75.10 L299.29,75.10 L299.59,75.09 L299.89,75.09 L300.20,75.09 L300.50,75.08 L300.81,75.08 L301.11,75.07 L301.41,75.07 L301.72,75.06 L302.02,75.06 L302.32,75.06 L302.63,75.05 L302.93,75.05 L303.24,75.04 L303.54,75.04 L303.84,75.04 L304.15,75.03 L304.45,75.03 L304.75,75.02 L305.06,75.02 L305.36,75.02 L305.67,75.01 L305.97,75.01 L306.27,75.01 L306.58,75.00 L306.88,75.00 L307.19,74.99 L307.49,74.99 L307.79,74.99 L308.10,74.99 L308.40,74.98 L308.70,74.98 L309.01,74.98 L309.31,74.97 L309.62,74.97 L309.92,74.97 L310.22,74.97 L310.53,74.97 L310.83,74.96 L311.13,74.96 L311.44,74.96 L311.74,74.96 L312.05,74.96 L312.35,74.96 L312.65,74.96 L312.96,74.96 L313.26,74.96 L313.56,74.96 L313.87,74.97 L314.17,74.97 L314.48,74.97 L314.78,74.97 L315.08,74.98 L315.39,74.98 L315.69,74.99 L316.00,75.00 L316.30,75.00 L316.60,75.01 L316.91,75.02 L317.21,75.03 L317.51,75.04 L317.82,75.06 L318.12,75.07 L318.43,75.09 L318.73,75.11 L319.03,75.13 L319.34,75.16 L319.64,75.19 L319.94,75.22 L320.25,75.25 L320.55,75.30 L320.86,75.34 L321.16,75.39 L321.46,75.45 L321.77,75.52 L322.07,75.60 L322.38,75.69 L322.68,75.80 L322.98,75.92 L323.29,76.06 L323.59,76.22 L323.89,76.42 L324.20,76.66 L324.50,76.94 L324.81,77.29 L325.11,77.71 L325.41,78.23 L325.72,78.89 L326.02,80.26 L326.32,82.41 L326.63,84.96 L326.93,87.82 L327.24,90.82 L327.54,93.74 L327.84,96.34 L328.15,98.36 L328.45,99.59 L328.75,99.90 L329.06,99.67 L329.36,99.14 L329.67,98.33 L329.97,97.31 L330.27,96.13 L330.58,94.85 L330.88,93.53 L331.19,92.20 L331.49,90.91 L331.79,89.67 L332.10,88.49 L332.40,87.40 L332.70,86.39 L333.01,85.45 L333.31,84.60 L333.62,83.82 L333.92,83.11 L334.22,82.46 L334.53,81.87 L334.83,81.33 L335.13,80.84 L335.44,80.39 L335.74,79.98 L336.05,79.60 L336.35,79.26 L336.65,78.94 L336.96,78.65 L337.26,78.38 L337.56,78.14 L337.87,77.91 L338.17,77.70 L338.48,77.50 L338.78,77.32 L339.08,77.15 L339.39,76.99 L339.69,76.85 L340.00,76.71 L340.30,76.58 L340.60,76.46 L340.91,76.34 L341.21,76.24 L341.51,76.14 L341.82,76.04 L342.12,75.95 L342.43,75.87 L342.73,75.78 L343.03,75.71 L343.34,75.64 L343.64,75.57 L343.94,75.50 L344.25,75.44 L344.55,75.38 L344.86,75.32 L345.16,75.27 L345.46,75.21 L345.77,75.16 L346.07,75.12 L346.38,75.07 L346.68,75.03 L346.98,74.98 L347.29,74.94 L347.59,74.90 L347.89,74.86 L348.20,74.83 L348.50,74.79 L348.81,74.76 L349.11,74.72 L349.41,74.69 L349.72,74.66 L350.02,74.63 L350.32,74.60 L350.63,74.57 L350.93,74.54 L351.24,74.51 L351.54,74.49 L351.84,74.46 L352.15,74.44 L352.45,74.41 L352.75,74.39 L353.06,74.36 L353.36,74.34 L353.67,74.32 L353.97,74.30 L354.27,74.27 L354.58,74.25 L354.88,74.23 L355.19,74.21 L355.49,74.19 L355.79,74.17 L356.10,74.15 L356.40,74.13 L356.70,74.11 L357.01,74.10 L357.31,74.08 L357.62,74.06 L357.92,74.04 L358.22,74.03 L358.53,74.01 L358.83,73.99 L359.13,73.98 L359.44,73.96 L359.74,73.94 L360.05,73.93 L360.35,73.91 L360.65,73.90 L360.96,73.88 L361.26,73.86 L361.57,73.85 L361.87,73.83 L362.17,73.82 L362.48,73.81 L362.78,73.79 L363.08,73.78 L363.39,73.76 L363.69,73.75 L364.00,73.73 L364.30,73.72 L364.60,73.71 L364.91,73.69 L365.21,73.68 L365.51,73.67 L365.82,73.65 L366.12,73.64 L366.43,73.63 L366.73,73.61 L367.03,73.60 L367.34,73.59 L367.64,73.57 L367.94,73.56 L368.25,73.55 L368.55,73.54 L368.86,73.52 L369.16,73.51 L369.46,73.50 L369.77,73.49 L370.07,73.47 L370.38,73.46 L370.68,73.45 L370.98,73.44 L371.29,73.43 L371.59,73.41 L371.89,73.40 L372.20,73.39 L372.50,73.38 L372.81,73.37 L373.11,73.35 L373.41,73.34 L373.72,73.33 L374.02,73.32 L374.32,73.31 L374.63,73.30 L374.93,73.28 L375.24,73.27 L375.54,73.26 L375.84,73.25 L376.15,73.24 L376.45,73.23 L376.76,73.22 L377.06,73.20 L377.36,73.19 L377.67,73.18 L377.97,73.17 L378.27,73.16 L378.58,73.15 L378.88,73.14 L379.19,73.13 L379.49,73.11 L379.79,73.10 L380.10,73.09 L380.40,73.08 L380.70,73.07 L381.01,73.06 L381.31,73.05 L381.62,73.04 L381.92,73.03 L382.22,73.02 L382.53,73.00 L382.83,72.99 L383.13,72.98 L383.44,72.97 L383.74,72.96 L384.05,72.95 L384.35,72.94 L384.65,72.93 L384.96,72.92 L385.26,72.91 L385.57,72.90 L385.87,72.88 L386.17,72.87 L386.48,72.86 L386.78,72.85 L387.08,72.84 L387.39,72.83 L387.69,72.82 L388.00,72.81 L388.30,72.80 L388.60,72.79 L388.91,72.78 L389.21,72.77 L389.51,72.76 L389.82,72.74 L390.12,72.73 L390.43,72.72 L390.73,72.71 L391.03,72.70 L391.34,72.69 L391.64,72.68 L391.95,72.67 L392.25,72.66 L392.55,72.65 L392.86,72.64 L393.16,72.63 L393.46,72.62 L393.77,72.61 L394.07,72.60 L394.38,72.58 L394.68,72.57 L394.98,72.56 L395.29,72.55 L395.59,72.54 L395.89,72.53 L396.20,72.52 L396.50,72.51 L396.81,72.50 L397.11,72.49 L397.41,72.48 L397.72,72.47 L398.02,72.46 L398.32,72.45 L398.63,72.44 L398.93,72.43 L399.24,72.41 L399.54,72.40 L399.84,72.39 L400.15,72.38 L400.45,72.37 L400.76,72.36 L401.06,72.35 L401.36,72.34 L401.67,72.33 L401.97,72.32 L402.27,72.31 L402.58,72.30 L402.88,72.29 L403.19,72.28 L403.49,72.27 L403.79,72.26 L404.10,72.24 L404.40,72.23 L404.70,72.22 L405.01,72.21 L405.31,72.20 L405.62,72.19 L405.92,72.18 L406.22,72.17 L406.53,72.16 L406.83,72.15 L407.14,72.14 L407.44,72.13 L407.74,72.12 L408.05,72.11 L408.35,72.10 L408.65,72.09 L408.96,72.07 L409.26,72.06 L409.57,72.05 L409.87,72.04 L410.17,72.03 L410.48,72.02 L410.78,72.01 L411.08,72.00 L411.39,71.99 L411.69,71.98 L412.00,71.97 L412.30,71.96 L412.60,71.95 L412.91,71.94 L413.21,71.93 L413.51,71.91 L413.82,71.90 L414.12,71.89 L414.43,71.88 L414.73,71.87 L415.03,71.86 L415.34,71.85 L415.64,71.84 L415.95,71.83 L416.25,71.82 L416.55,71.81 L416.86,71.80 L417.16,71.79 L417.46,71.77 L417.77,71.76 L418.07,71.75 L418.38,71.74 L418.68,71.73 L418.98,71.72 L419.29,71.71 L419.59,71.70 L419.89,71.69 L420.20,71.68 L420.50,71.67 L420.81,71.66 L421.11,71.65 L421.41,71.63 L421.72,71.62 L422.02,71.61 L422.33,71.60 L422.63,71.59 L422.93,71.58 L423.24,71.57 L423.54,71.56 L423.84,71.55 L424.15,71.54 L424.45,71.53 L424.76,71.52 L425.06,71.50 L425.36,71.49 L425.67,71.48 L425.97,71.47 L426.27,71.46 L426.58,71.45 L426.88,71.44 L427.19,71.43 L427.49,71.42 L427.79,71.41 L428.10,71.40 L428.40,71.39 L428.71,71.37 L429.01,71.36 L429.31,71.35 L429.62,71.34 L429.92,71.33 L430.22,71.32 L430.53,71.31 L430.83,71.30 L431.14,71.29 L431.44,71.28 L431.74,71.26 L432.05,71.25 L432.35,71.24 L432.65,71.23 L432.96,71.22 L433.26,71.21 L433.57,71.20 L433.87,71.19 L434.17,71.18 L434.48,71.17 L434.78,71.16 L435.08,71.14 L435.39,71.13 L435.69,71.12 L436.00,71.11 L436.30,71.10" fill="none" stroke="#3f8f3f" stroke-width="1.2" stroke-linejoin="round" stroke-linecap="round"/>
<path d="M284.40,73.50 L284.70,73.50 L285.01,73.49 L285.31,73.49 L285.62,73.49 L285.92,73.49 L286.22,73.48 L286.53,73.48 L286.83,73.48 L287.13,73.48 L287.44,73.47 L287.74,73.47 L288.05,73.47 L288.35,73.46 L288.65,73.46 L288.96,73.46 L289.26,73.45 L289.56,73.45 L289.87,73.45 L290.17,73.44 L290.48,73.44 L290.78,73.44 L291.08,73.43 L291.39,73.43 L291.69,73.42 L292.00,73.42 L292.30,73.42 L292.60,73.41 L292.91,73.41 L293.21,73.40 L293.51,73.40 L293.82,73.39 L294.12,73.39 L294.43,73.38 L294.73,73.38 L295.03,73.37 L295.34,73.37 L295.64,73.36 L295.94,73.36 L296.25,73.35 L296.55,73.34 L296.86,73.34 L297.16,73.33 L297.46,73.33 L297.77,73.32 L298.07,73.31 L298.37,73.31 L298.68,73.30 L298.98,73.30 L299.29,73.29 L299.59,73.28 L299.89,73.27 L300.20,73.27 L300.50,73.26 L300.81,73.25 L301.11,73.25 L301.41,73.24 L301.72,73.23 L302.02,73.22 L302.32,73.21 L302.63,73.21 L302.93,73.20 L303.24,73.19 L303.54,73.18 L303.84,73.17 L304.15,73.16 L304.45,73.15 L304.75,73.14 L305.06,73.13 L305.36,73.13 L305.67,73.12 L305.97,73.10 L306.27,73.09 L306.58,73.08 L306.88,73.07 L307.19,73.06 L307.49,73.05 L307.79,73.04 L308.10,73.03 L308.40,73.02 L308.70,73.00 L309.01,72.99 L309.31,72.98 L309.62,72.96 L309.92,72.95 L310.22,72.94 L310.53,72.92 L310.83,72.91 L311.13,72.89 L311.44,72.88 L311.74,72.86 L312.05,72.85 L312.35,72.83 L312.65,72.82 L312.96,72.80 L313.26,72.78 L313.56,72.76 L313.87,72.74 L314.17,72.73 L314.48,72.71 L314.78,72.69 L315.08,72.67 L315.39,72.64 L315.69,72.62 L316.00,72.60 L316.30,72.58 L316.60,72.55 L316.91,72.53 L317.21,72.50 L317.51,72.48 L317.82,72.45 L318.12,72.42 L318.43,72.40 L318.73,72.37 L319.03,72.34 L319.34,72.31 L319.64,72.27 L319.94,72.24 L320.25,72.21 L320.55,72.17 L320.86,72.13 L321.16,72.09 L321.46,72.06 L321.77,72.01 L322.07,71.97 L322.38,71.93 L322.68,71.88 L322.98,71.83 L323.29,71.78 L323.59,71.73 L323.89,71.68 L324.20,71.62 L324.50,71.57 L324.81,71.51 L325.11,71.44 L325.41,71.38 L325.72,71.31 L326.02,71.24 L326.32,71.16 L326.63,71.09 L326.93,71.01 L327.24,70.92 L327.54,70.83 L327.84,70.74 L328.15,70.64 L328.45,70.54 L328.75,70.43 L329.06,70.32 L329.36,70.20 L329.67,70.07 L329.97,69.94 L330.27,69.80 L330.58,69.66 L330.88,69.51 L331.19,69.35 L331.49,69.18 L331.79,69.00 L332.10,68.81 L332.40,68.61 L332.70,68.40 L333.01,68.17 L333.31,67.94 L333.62,67.69 L333.92,67.43 L334.22,67.15 L334.53,66.86 L334.83,66.55 L335.13,66.23 L335.44,65.89 L335.74,65.53 L336.05,65.15 L336.35,64.76 L336.65,64.34 L336.96,63.91 L337.26,63.47 L337.56,63.01 L337.87,62.53 L338.17,62.04 L338.48,61.54 L338.78,61.04 L339.08,60.54 L339.39,60.04 L339.69,59.55 L340.00,59.07 L340.30,58.62 L340.60,58.21 L340.91,57.83 L341.21,57.50 L341.51,57.22 L341.82,57.01 L342.12,56.86 L342.43,56.78 L342.73,56.83 L343.03,57.27 L343.34,58.02 L343.64,58.98 L343.94,60.03 L344.25,61.08 L344.55,62.06 L344.86,62.95 L345.16,63.74 L345.46,64.43 L345.77,65.03 L346.07,65.55 L346.38,66.00 L346.68,66.39 L346.98,66.74 L347.29,67.04 L347.59,67.30 L347.89,67.54 L348.20,67.75 L348.50,67.94 L348.81,68.11 L349.11,68.27 L349.41,68.41 L349.72,68.54 L350.02,68.66 L350.32,68.77 L350.63,68.87 L350.93,68.96 L351.24,69.05 L351.54,69.13 L351.84,69.21 L352.15,69.28 L352.45,69.35 L352.75,69.41 L353.06,69.47 L353.36,69.53 L353.67,69.59 L353.97,69.64 L354.27,69.69 L354.58,69.74 L354.88,69.78 L355.19,69.82 L355.49,69.87 L355.79,69.91 L356.10,69.95 L356.40,69.98 L356.70,70.02 L357.01,70.05 L357.31,70.09 L357.62,70.12 L357.92,70.15 L358.22,70.18 L358.53,70.21 L358.83,70.24 L359.13,70.26 L359.44,70.29 L359.74,70.31 L360.05,70.34 L360.35,70.36 L360.65,70.39 L360.96,70.41 L361.26,70.43 L361.57,70.45 L361.87,70.47 L362.17,70.49 L362.48,70.51 L362.78,70.53 L363.08,70.55 L363.39,70.57 L363.69,70.59 L364.00,70.61 L364.30,70.62 L364.60,70.64 L364.91,70.66 L365.21,70.67 L365.51,70.69 L365.82,70.70 L366.12,70.72 L366.43,70.73 L366.73,70.74 L367.03,70.76 L367.34,70.77 L367.64,70.78 L367.94,70.80 L368.25,70.81 L368.55,70.82 L368.86,70.83 L369.16,70.85 L369.46,70.86 L369.77,70.87 L370.07,70.88 L370.38,70.89 L370.68,70.90 L370.98,70.91 L371.29,70.92 L371.59,70.93 L371.89,70.94 L372.20,70.95 L372.50,70.96 L372.81,70.97 L373.11,70.98 L373.41,70.98 L373.72,70.99 L374.02,71.00 L374.32,71.01 L374.63,71.02 L374.93,71.02 L375.24,71.03 L375.54,71.04 L375.84,71.05 L376.15,71.05 L376.45,71.06 L376.76,71.07 L377.06,71.07 L377.36,71.08 L377.67,71.09 L377.97,71.09 L378.27,71.10 L378.58,71.10 L378.88,71.11 L379.19,71.12 L379.49,71.12 L379.79,71.13 L380.10,71.13 L380.40,71.14 L380.70,71.14 L381.01,71.15 L381.31,71.15 L381.62,71.16 L381.92,71.16 L382.22,71.17 L382.53,71.17 L382.83,71.17 L383.13,71.18 L383.44,71.18 L383.74,71.19 L384.05,71.19 L384.35,71.19 L384.65,71.20 L384.96,71.20 L385.26,71.21 L385.57,71.21 L385.87,71.21 L386.17,71.22 L386.48,71.22 L386.78,71.22 L387.08,71.22 L387.39,71.23 L387.69,71.23 L388.00,71.23 L388.30,71.24 L388.60,71.24 L388.91,71.24 L389.21,71.24 L389.51,71.25 L389.82,71.25 L390.12,71.25 L390.43,71.25 L390.73,71.25 L391.03,71.26 L391.34,71.26 L391.64,71.26 L391.95,71.26 L392.25,71.26 L392.55,71.27 L392.86,71.27 L393.16,71.27 L393.46,71.27 L393.77,71.27 L394.07,71.27 L394.38,71.27 L394.68,71.28 L394.98,71.28 L395.29,71.28 L395.59,71.28 L395.89,71.28 L396.20,71.28 L396.50,71.28 L396.81,71.28 L397.11,71.28 L397.41,71.28 L397.72,71.29 L398.02,71.29 L398.32,71.29 L398.63,71.29 L398.93,71.29 L399.24,71.29 L399.54,71.29 L399.84,71.29 L400.15,71.29 L400.45,71.29 L400.76,71.29 L401.06,71.29 L401.36,71.29 L401.67,71.29 L401.97,71.29 L402.27,71.29 L402.58,71.29 L402.88,71.29 L403.19,71.29 L403.49,71.29 L403.79,71.29 L404.10,71.29 L404.40,71.29 L404.70,71.29 L405.01,71.29 L405.31,71.29 L405.62,71.29 L405.92,71.29 L406.22,71.29 L406.53,71.29 L406.83,71.29 L407.14,71.29 L407.44,71.28 L407.74,71.28 L408.05,71.28 L408.35,71.28 L408.65,71.28 L408.96,71.28 L409.26,71.28 L409.57,71.28 L409.87,71.28 L410.17,71.28 L410.48,71.28 L410.78,71.28 L411.08,71.27 L411.39,71.27 L411.69,71.27 L412.00,71.27 L412.30,71.27 L412.60,71.27 L412.91,71.27 L413.21,71.27 L413.51,71.26 L413.82,71.26 L414.12,71.26 L414.43,71.26 L414.73,71.26 L415.03,71.26 L415.34,71.26 L415.64,71.26 L415.95,71.25 L416.25,71.25 L416.55,71.25 L416.86,71.25 L417.16,71.25 L417.46,71.25 L417.77,71.24 L418.07,71.24 L418.38,71.24 L418.68,71.24 L418.98,71.24 L419.29,71.24 L419.59,71.23 L419.89,71.23 L420.20,71.23 L420.50,71.23 L420.81,71.23 L421.11,71.22 L421.41,71.22 L421.72,71.22 L422.02,71.22 L422.33,71.22 L422.63,71.21 L422.93,71.21 L423.24,71.21 L423.54,71.21 L423.84,71.21 L424.15,71.20 L424.45,71.20 L424.76,71.20 L425.06,71.20 L425.36,71.19 L425.67,71.19 L425.97,71.19 L426.27,71.19 L426.58,71.18 L426.88,71.18 L427.19,71.18 L427.49,71.18 L427.79,71.18 L428.10,71.17 L428.40,71.17 L428.71,71.17 L429.01,71.17 L429.31,71.16 L429.62,71.16 L429.92,71.16 L430.22,71.16 L430.53,71.15 L430.83,71.15 L431.14,71.15 L431.44,71.14 L431.74,71.14 L432.05,71.14 L432.35,71.14 L432.65,71.13 L432.96,71.13 L433.26,71.13 L433.57,71.13 L433.87,71.12 L434.17,71.12 L434.48,71.12 L434.78,71.11 L435.08,71.11 L435.39,71.11 L435.69,71.11 L436.00,71.10 L436.30,71.10" fill="none" stroke="#1a1a1a" stroke-width="1.45" stroke-linejoin="round" stroke-linecap="round"/>
<path d="M284.40,74.91 L284.70,74.91 L285.01,74.91 L285.31,74.91 L285.62,74.91 L285.92,74.90 L286.22,74.90 L286.53,74.90 L286.83,74.90 L287.13,74.89 L287.44,74.89 L287.74,74.89 L288.05,74.89 L288.35,74.88 L288.65,74.88 L288.96,74.88 L289.26,74.87 L289.56,74.87 L289.87,74.87 L290.17,74.86 L290.48,74.86 L290.78,74.86 L291.08,74.85 L291.39,74.85 L291.69,74.84 L292.00,74.84 L292.30,74.84 L292.60,74.83 L292.91,74.83 L293.21,74.83 L293.51,74.82 L293.82,74.82 L294.12,74.81 L294.43,74.81 L294.73,74.81 L295.03,74.80 L295.34,74.80 L295.64,74.79 L295.94,74.79 L296.25,74.78 L296.55,74.78 L296.86,74.78 L297.16,74.77 L297.46,74.77 L297.77,74.76 L298.07,74.76 L298.37,74.75 L298.68,74.75 L298.98,74.75 L299.29,74.74 L299.59,74.74 L299.89,74.73 L300.20,74.73 L300.50,74.72 L300.81,74.72 L301.11,74.71 L301.41,74.71 L301.72,74.71 L302.02,74.70 L302.32,74.70 L302.63,74.69 L302.93,74.69 L303.24,74.68 L303.54,74.68 L303.84,74.67 L304.15,74.67 L304.45,74.66 L304.75,74.66 L305.06,74.66 L305.36,74.65 L305.67,74.65 L305.97,74.64 L306.27,74.64 L306.58,74.63 L306.88,74.63 L307.19,74.62 L307.49,74.62 L307.79,74.61 L308.10,74.61 L308.40,74.61 L308.70,74.60 L309.01,74.60 L309.31,74.59 L309.62,74.59 L309.92,74.58 L310.22,74.58 L310.53,74.58 L310.83,74.57 L311.13,74.57 L311.44,74.56 L311.74,74.56 L312.05,74.56 L312.35,74.55 L312.65,74.55 L312.96,74.55 L313.26,74.54 L313.56,74.54 L313.87,74.54 L314.17,74.53 L314.48,74.53 L314.78,74.53 L315.08,74.52 L315.39,74.52 L315.69,74.52 L316.00,74.52 L316.30,74.51 L316.60,74.51 L316.91,74.51 L317.21,74.51 L317.51,74.51 L317.82,74.51 L318.12,74.51 L318.43,74.51 L318.73,74.51 L319.03,74.51 L319.34,74.51 L319.64,74.51 L319.94,74.52 L320.25,74.52 L320.55,74.52 L320.86,74.53 L321.16,74.53 L321.46,74.54 L321.77,74.55 L322.07,74.56 L322.38,74.57 L322.68,74.58 L322.98,74.59 L323.29,74.61 L323.59,74.63 L323.89,74.65 L324.20,74.67 L324.50,74.70 L324.81,74.73 L325.11,74.76 L325.41,74.80 L325.72,74.85 L326.02,74.90 L326.32,74.97 L326.63,75.04 L326.93,75.13 L327.24,75.23 L327.54,75.35 L327.84,75.49 L328.15,75.66 L328.45,75.87 L328.75,76.12 L329.06,76.43 L329.36,76.82 L329.67,77.76 L329.97,79.01 L330.27,80.48 L330.58,82.09 L330.88,83.78 L331.19,85.42 L331.49,86.89 L331.79,88.05 L332.10,88.79 L332.40,89.05 L332.70,88.88 L333.01,88.40 L333.31,87.68 L333.62,86.78 L333.92,85.78 L334.22,84.75 L334.53,83.75 L334.83,82.80 L335.13,81.92 L335.44,81.13 L335.74,80.41 L336.05,79.77 L336.35,79.21 L336.65,78.71 L336.96,78.26 L337.26,77.87 L337.56,77.52 L337.87,77.21 L338.17,76.93 L338.48,76.69 L338.78,76.46 L339.08,76.27 L339.39,76.09 L339.69,75.92 L340.00,75.78 L340.30,75.64 L340.60,75.52 L340.91,75.41 L341.21,75.30 L341.51,75.21 L341.82,75.12 L342.12,75.04 L342.43,74.97 L342.73,74.90 L343.03,74.83 L343.34,74.77 L343.64,74.71 L343.94,74.66 L344.25,74.61 L344.55,74.56 L344.86,74.52 L345.16,74.48 L345.46,74.44 L345.77,74.40 L346.07,74.36 L346.38,74.33 L346.68,74.30 L346.98,74.27 L347.29,74.24 L347.59,74.21 L347.89,74.18 L348.20,74.15 L348.50,74.13 L348.81,74.10 L349.11,74.08 L349.41,74.06 L349.72,74.04 L350.02,74.01 L350.32,73.99 L350.63,73.97 L350.93,73.95 L351.24,73.94 L351.54,73.92 L351.84,73.90 L352.15,73.88 L352.45,73.86 L352.75,73.85 L353.06,73.83 L353.36,73.82 L353.67,73.80 L353.97,73.78 L354.27,73.77 L354.58,73.75 L354.88,73.74 L355.19,73.73 L355.49,73.71 L355.79,73.70 L356.10,73.68 L356.40,73.67 L356.70,73.66 L357.01,73.64 L357.31,73.63 L357.62,73.62 L357.92,73.61 L358.22,73.59 L358.53,73.58 L358.83,73.57 L359.13,73.56 L359.44,73.55 L359.74,73.53 L360.05,73.52 L360.35,73.51 L360.65,73.50 L360.96,73.49 L361.26,73.48 L361.57,73.47 L361.87,73.45 L362.17,73.44 L362.48,73.43 L362.78,73.42 L363.08,73.41 L363.39,73.40 L363.69,73.39 L364.00,73.38 L364.30,73.37 L364.60,73.36 L364.91,73.35 L365.21,73.34 L365.51,73.33 L365.82,73.32 L366.12,73.31 L366.43,73.30 L366.73,73.29 L367.03,73.28 L367.34,73.27 L367.64,73.26 L367.94,73.25 L368.25,73.24 L368.55,73.23 L368.86,73.22 L369.16,73.21 L369.46,73.20 L369.77,73.19 L370.07,73.18 L370.38,73.17 L370.68,73.16 L370.98,73.15 L371.29,73.14 L371.59,73.13 L371.89,73.12 L372.20,73.11 L372.50,73.10 L372.81,73.09 L373.11,73.08 L373.41,73.07 L373.72,73.06 L374.02,73.05 L374.32,73.04 L374.63,73.03 L374.93,73.02 L375.24,73.01 L375.54,73.00 L375.84,72.99 L376.15,72.99 L376.45,72.98 L376.76,72.97 L377.06,72.96 L377.36,72.95 L377.67,72.94 L377.97,72.93 L378.27,72.92 L378.58,72.91 L378.88,72.90 L379.19,72.89 L379.49,72.88 L379.79,72.87 L380.10,72.86 L380.40,72.85 L380.70,72.85 L381.01,72.84 L381.31,72.83 L381.62,72.82 L381.92,72.81 L382.22,72.80 L382.53,72.79 L382.83,72.78 L383.13,72.77 L383.44,72.76 L383.74,72.75 L384.05,72.74 L384.35,72.73 L384.65,72.72 L384.96,72.72 L385.26,72.71 L385.57,72.70 L385.87,72.69 L386.17,72.68 L386.48,72.67 L386.78,72.66 L387.08,72.65 L387.39,72.64 L387.69,72.63 L388.00,72.62 L388.30,72.61 L388.60,72.60 L388.91,72.59 L389.21,72.59 L389.51,72.58 L389.82,72.57 L390.12,72.56 L390.43,72.55 L390.73,72.54 L391.03,72.53 L391.34,72.52 L391.64,72.51 L391.95,72.50 L392.25,72.49 L392.55,72.48 L392.86,72.47 L393.16,72.46 L393.46,72.46 L393.77,72.45 L394.07,72.44 L394.38,72.43 L394.68,72.42 L394.98,72.41 L395.29,72.40 L395.59,72.39 L395.89,72.38 L396.20,72.37 L396.50,72.36 L396.81,72.35 L397.11,72.34 L397.41,72.33 L397.72,72.32 L398.02,72.32 L398.32,72.31 L398.63,72.30 L398.93,72.29 L399.24,72.28 L399.54,72.27 L399.84,72.26 L400.15,72.25 L400.45,72.24 L400.76,72.23 L401.06,72.22 L401.36,72.21 L401.67,72.20 L401.97,72.19 L402.27,72.18 L402.58,72.17 L402.88,72.17 L403.19,72.16 L403.49,72.15 L403.79,72.14 L404.10,72.13 L404.40,72.12 L404.70,72.11 L405.01,72.10 L405.31,72.09 L405.62,72.08 L405.92,72.07 L406.22,72.06 L406.53,72.05 L406.83,72.04 L407.14,72.03 L407.44,72.02 L407.74,72.01 L408.05,72.00 L408.35,72.00 L408.65,71.99 L408.96,71.98 L409.26,71.97 L409.57,71.96 L409.87,71.95 L410.17,71.94 L410.48,71.93 L410.78,71.92 L411.08,71.91 L411.39,71.90 L411.69,71.89 L412.00,71.88 L412.30,71.87 L412.60,71.86 L412.91,71.85 L413.21,71.84 L413.51,71.83 L413.82,71.82 L414.12,71.81 L414.43,71.80 L414.73,71.79 L415.03,71.78 L415.34,71.78 L415.64,71.77 L415.95,71.76 L416.25,71.75 L416.55,71.74 L416.86,71.73 L417.16,71.72 L417.46,71.71 L417.77,71.70 L418.07,71.69 L418.38,71.68 L418.68,71.67 L418.98,71.66 L419.29,71.65 L419.59,71.64 L419.89,71.63 L420.20,71.62 L420.50,71.61 L420.81,71.60 L421.11,71.59 L421.41,71.58 L421.72,71.57 L422.02,71.56 L422.33,71.55 L422.63,71.54 L422.93,71.53 L423.24,71.52 L423.54,71.51 L423.84,71.50 L424.15,71.49 L424.45,71.48 L424.76,71.48 L425.06,71.47 L425.36,71.46 L425.67,71.45 L425.97,71.44 L426.27,71.43 L426.58,71.42 L426.88,71.41 L427.19,71.40 L427.49,71.39 L427.79,71.38 L428.10,71.37 L428.40,71.36 L428.71,71.35 L429.01,71.34 L429.31,71.33 L429.62,71.32 L429.92,71.31 L430.22,71.30 L430.53,71.29 L430.83,71.28 L431.14,71.27 L431.44,71.26 L431.74,71.25 L432.05,71.24 L432.35,71.23 L432.65,71.22 L432.96,71.21 L433.26,71.20 L433.57,71.19 L433.87,71.18 L434.17,71.17 L434.48,71.16 L434.78,71.15 L435.08,71.14 L435.39,71.13 L435.69,71.12 L436.00,71.11 L436.30,71.10" fill="none" stroke="#1a1a1a" stroke-width="1.45" stroke-linejoin="round" stroke-linecap="round"/>
<line x1="320.20" y1="133.50" x2="334.50" y2="82.00" stroke="#d0454d" stroke-width="0.8" stroke-dasharray="1.2,1.6"/>
<line x1="340.30" y1="69.80" x2="349.90" y2="12.50" stroke="#5a5ad0" stroke-width="0.8" stroke-dasharray="1.2,1.6"/>
<text x="317.50" y="20.80" font-size="8.1" font-weight="bold" fill="#3d45a5" stroke="#3d45a5" stroke-width="0.15" text-anchor="start">Peak 2</text>
<text x="328.00" y="124.10" font-size="8.1" font-weight="bold" fill="#c42631" stroke="#c42631" stroke-width="0.15" text-anchor="start">Peak 1</text>
<rect x="272.40" y="8.00" width="169.20" height="128.00" fill="none" stroke="#2a2a2a" stroke-width="1.0"/>
<line x1="272.40" y1="129.40" x2="275.40" y2="129.40" stroke="#2a2a2a" stroke-width="1.0"/>
<line x1="272.40" y1="119.90" x2="274.40" y2="119.90" stroke="#2a2a2a" stroke-width="1.0"/>
<line x1="272.40" y1="110.40" x2="275.40" y2="110.40" stroke="#2a2a2a" stroke-width="1.0"/>
<line x1="272.40" y1="100.90" x2="274.40" y2="100.90" stroke="#2a2a2a" stroke-width="1.0"/>
<line x1="272.40" y1="91.40" x2="275.40" y2="91.40" stroke="#2a2a2a" stroke-width="1.0"/>
<line x1="272.40" y1="81.90" x2="274.40" y2="81.90" stroke="#2a2a2a" stroke-width="1.0"/>
<line x1="272.40" y1="72.40" x2="275.40" y2="72.40" stroke="#2a2a2a" stroke-width="1.0"/>
<line x1="272.40" y1="62.90" x2="274.40" y2="62.90" stroke="#2a2a2a" stroke-width="1.0"/>
<line x1="272.40" y1="53.40" x2="275.40" y2="53.40" stroke="#2a2a2a" stroke-width="1.0"/>
<line x1="272.40" y1="43.90" x2="274.40" y2="43.90" stroke="#2a2a2a" stroke-width="1.0"/>
<line x1="272.40" y1="34.40" x2="275.40" y2="34.40" stroke="#2a2a2a" stroke-width="1.0"/>
<line x1="272.40" y1="24.90" x2="274.40" y2="24.90" stroke="#2a2a2a" stroke-width="1.0"/>
<line x1="272.40" y1="15.40" x2="275.40" y2="15.40" stroke="#2a2a2a" stroke-width="1.0"/>
<line x1="285.00" y1="136.00" x2="285.00" y2="132.20" stroke="#2a2a2a" stroke-width="1.0"/>
<line x1="297.50" y1="136.00" x2="297.50" y2="133.70" stroke="#2a2a2a" stroke-width="1.0"/>
<line x1="310.00" y1="136.00" x2="310.00" y2="132.20" stroke="#2a2a2a" stroke-width="1.0"/>
<line x1="322.50" y1="136.00" x2="322.50" y2="133.70" stroke="#2a2a2a" stroke-width="1.0"/>
<line x1="335.00" y1="136.00" x2="335.00" y2="132.20" stroke="#2a2a2a" stroke-width="1.0"/>
<line x1="347.50" y1="136.00" x2="347.50" y2="133.70" stroke="#2a2a2a" stroke-width="1.0"/>
<line x1="360.00" y1="136.00" x2="360.00" y2="132.20" stroke="#2a2a2a" stroke-width="1.0"/>
<line x1="372.50" y1="136.00" x2="372.50" y2="133.70" stroke="#2a2a2a" stroke-width="1.0"/>
<line x1="385.00" y1="136.00" x2="385.00" y2="132.20" stroke="#2a2a2a" stroke-width="1.0"/>
<line x1="397.50" y1="136.00" x2="397.50" y2="133.70" stroke="#2a2a2a" stroke-width="1.0"/>
<line x1="410.00" y1="136.00" x2="410.00" y2="132.20" stroke="#2a2a2a" stroke-width="1.0"/>
<line x1="422.50" y1="136.00" x2="422.50" y2="133.70" stroke="#2a2a2a" stroke-width="1.0"/>
<line x1="435.00" y1="136.00" x2="435.00" y2="132.20" stroke="#2a2a2a" stroke-width="1.0"/>
<text x="270.60" y="20.01" font-size="11.2" font-weight="normal" fill="#111" stroke="#111" stroke-width="0.25" text-anchor="end">0.6</text>
<text x="270.60" y="39.01" font-size="11.2" font-weight="normal" fill="#111" stroke="#111" stroke-width="0.25" text-anchor="end">0.4</text>
<text x="270.60" y="58.01" font-size="11.2" font-weight="normal" fill="#111" stroke="#111" stroke-width="0.25" text-anchor="end">0.2</text>
<text x="270.60" y="77.01" font-size="11.2" font-weight="normal" fill="#111" stroke="#111" stroke-width="0.25" text-anchor="end">0.0</text>
<text x="270.60" y="96.01" font-size="11.2" font-weight="normal" fill="#111" stroke="#111" stroke-width="0.25" text-anchor="end">0.2</text>
<line x1="246.24" y1="92.37" x2="254.19" y2="92.37" stroke="#111" stroke-width="1.23"/>
<text x="270.60" y="115.01" font-size="11.2" font-weight="normal" fill="#111" stroke="#111" stroke-width="0.25" text-anchor="end">0.4</text>
<line x1="246.24" y1="111.37" x2="254.19" y2="111.37" stroke="#111" stroke-width="1.23"/>
<text x="270.60" y="134.01" font-size="11.2" font-weight="normal" fill="#111" stroke="#111" stroke-width="0.25" text-anchor="end">0.6</text>
<line x1="246.24" y1="130.37" x2="254.19" y2="130.37" stroke="#111" stroke-width="1.23"/>
<text x="277.22" y="147.60" font-size="11.2" font-weight="normal" fill="#111" stroke="#111" stroke-width="0.25" text-anchor="start">1.2</text>
<rect x="277.54" y="146.95" width="2.43" height="2.10" fill="#fff"/>
<rect x="281.08" y="146.95" width="2.10" height="2.10" fill="#fff"/>
<line x1="268.42" y1="143.96" x2="276.38" y2="143.96" stroke="#111" stroke-width="1.23"/>
<text x="327.22" y="147.60" font-size="11.2" font-weight="normal" fill="#111" stroke="#111" stroke-width="0.25" text-anchor="start">0.8</text>
<line x1="318.42" y1="143.96" x2="326.38" y2="143.96" stroke="#111" stroke-width="1.23"/>
<text x="377.22" y="147.60" font-size="11.2" font-weight="normal" fill="#111" stroke="#111" stroke-width="0.25" text-anchor="start">0.4</text>
<line x1="368.42" y1="143.96" x2="376.38" y2="143.96" stroke="#111" stroke-width="1.23"/>
<text x="427.22" y="147.60" font-size="11.2" font-weight="normal" fill="#111" stroke="#111" stroke-width="0.25" text-anchor="start">0.0</text>
<text x="360.70" y="159.90" font-size="11.6" font-weight="normal" fill="#111" stroke="#111" stroke-width="0.25" text-anchor="middle">Potential (V vs Ag/AgCl)</text>
<text x="242.00" y="70.70" font-size="11.45" font-weight="normal" fill="#111" stroke="#111" stroke-width="0.25" text-anchor="middle" transform="rotate(-90 242.00 70.70)">Current (mA)</text>
<text transform="translate(234.42 12.60) scale(0.9482 1)" font-size="14.3" font-weight="bold" fill="#111" stroke="#111" stroke-width="0.15">(b)</text>
<line x1="389.70" y1="85.60" x2="403.00" y2="85.60" stroke="#c42631" stroke-width="1.3"/>
<text x="403.6" y="88.70" font-size="7.5" font-weight="bold" fill="#111" stroke="#111" stroke-width="0.15" textLength="27.6" lengthAdjust="spacingAndGlyphs">5 mV s</text>
<text x="431.2" y="85.90" font-size="5.2" font-weight="bold" fill="#111" stroke="#111" stroke-width="0.15">−1</text>
<line x1="389.70" y1="95.05" x2="403.00" y2="95.05" stroke="#3a5ccc" stroke-width="1.3"/>
<text x="403.6" y="98.15" font-size="7.5" font-weight="bold" fill="#111" stroke="#111" stroke-width="0.15" textLength="27.6" lengthAdjust="spacingAndGlyphs">4 mV s</text>
<text x="431.2" y="95.35" font-size="5.2" font-weight="bold" fill="#111" stroke="#111" stroke-width="0.15">−1</text>
<line x1="389.70" y1="104.50" x2="403.00" y2="104.50" stroke="#b04fc8" stroke-width="1.3"/>
<text x="403.6" y="107.60" font-size="7.5" font-weight="bold" fill="#111" stroke="#111" stroke-width="0.15" textLength="27.6" lengthAdjust="spacingAndGlyphs">3 mV s</text>
<text x="431.2" y="104.80" font-size="5.2" font-weight="bold" fill="#111" stroke="#111" stroke-width="0.15">−1</text>
<line x1="389.70" y1="113.95" x2="403.00" y2="113.95" stroke="#3f8f3f" stroke-width="1.3"/>
<text x="403.6" y="117.05" font-size="7.5" font-weight="bold" fill="#111" stroke="#111" stroke-width="0.15" textLength="27.6" lengthAdjust="spacingAndGlyphs">2 mV s</text>
<text x="431.2" y="114.25" font-size="5.2" font-weight="bold" fill="#111" stroke="#111" stroke-width="0.15">−1</text>
<line x1="389.70" y1="123.40" x2="403.00" y2="123.40" stroke="#1a1a1a" stroke-width="1.5"/>
<text x="403.6" y="126.50" font-size="7.5" font-weight="bold" fill="#111" stroke="#111" stroke-width="0.15" textLength="27.6" lengthAdjust="spacingAndGlyphs">1 mV s</text>
<text x="431.2" y="123.70" font-size="5.2" font-weight="bold" fill="#111" stroke="#111" stroke-width="0.15">−1</text>
<path d="M514.00,123.00 L581.50,77.00 L621.40,50.90 L649.50,33.00 L671.20,19.00" fill="none" stroke="#e3303a" stroke-width="1.7" stroke-linejoin="round" stroke-linecap="round"/>
<circle cx="514.00" cy="123.00" r="2.4" fill="#e3303a"/>
<circle cx="581.50" cy="77.00" r="2.4" fill="#e3303a"/>
<circle cx="621.40" cy="50.90" r="2.4" fill="#e3303a"/>
<circle cx="649.50" cy="33.00" r="2.4" fill="#e3303a"/>
<circle cx="671.20" cy="19.00" r="2.4" fill="#e3303a"/>
<path d="M514.00,115.40 L581.50,71.40 L621.40,47.90 L649.50,30.30 L671.20,16.20" fill="none" stroke="#2e5bb8" stroke-width="1.7" stroke-linejoin="round" stroke-linecap="round"/>
<rect x="511.70" y="113.10" width="4.6" height="4.6" fill="#2e5bb8"/>
<rect x="579.20" y="69.10" width="4.6" height="4.6" fill="#2e5bb8"/>
<rect x="619.10" y="45.60" width="4.6" height="4.6" fill="#2e5bb8"/>
<rect x="647.20" y="28.00" width="4.6" height="4.6" fill="#2e5bb8"/>
<rect x="668.90" y="13.90" width="4.6" height="4.6" fill="#2e5bb8"/>
<text x="544.00" y="52.60" font-size="8.5" font-weight="bold" fill="#2e5bb8" stroke="#2e5bb8" stroke-width="0.15" text-anchor="start">b(peak 2)=0.71</text>
<text x="587.40" y="83.80" font-size="8.5" font-weight="bold" fill="#e3303a" stroke="#e3303a" stroke-width="0.15" text-anchor="start">b(peak 1)=0.76</text>
<rect x="502.60" y="7.60" width="174.00" height="128.80" fill="none" stroke="#2a2a2a" stroke-width="1.0"/>
<line x1="502.60" y1="126.50" x2="504.60" y2="126.50" stroke="#2a2a2a" stroke-width="1.0"/>
<line x1="502.60" y1="116.60" x2="505.60" y2="116.60" stroke="#2a2a2a" stroke-width="1.0"/>
<line x1="502.60" y1="106.70" x2="504.60" y2="106.70" stroke="#2a2a2a" stroke-width="1.0"/>
<line x1="502.60" y1="96.80" x2="505.60" y2="96.80" stroke="#2a2a2a" stroke-width="1.0"/>
<line x1="502.60" y1="86.90" x2="504.60" y2="86.90" stroke="#2a2a2a" stroke-width="1.0"/>
<line x1="502.60" y1="77.00" x2="505.60" y2="77.00" stroke="#2a2a2a" stroke-width="1.0"/>
<line x1="502.60" y1="67.10" x2="504.60" y2="67.10" stroke="#2a2a2a" stroke-width="1.0"/>
<line x1="502.60" y1="57.20" x2="505.60" y2="57.20" stroke="#2a2a2a" stroke-width="1.0"/>
<line x1="502.60" y1="47.30" x2="504.60" y2="47.30" stroke="#2a2a2a" stroke-width="1.0"/>
<line x1="502.60" y1="37.40" x2="505.60" y2="37.40" stroke="#2a2a2a" stroke-width="1.0"/>
<line x1="502.60" y1="27.50" x2="504.60" y2="27.50" stroke="#2a2a2a" stroke-width="1.0"/>
<line x1="502.60" y1="17.60" x2="505.60" y2="17.60" stroke="#2a2a2a" stroke-width="1.0"/>
<line x1="502.60" y1="7.70" x2="504.60" y2="7.70" stroke="#2a2a2a" stroke-width="1.0"/>
<line x1="513.20" y1="136.40" x2="513.20" y2="132.60" stroke="#2a2a2a" stroke-width="1.0"/>
<line x1="524.54" y1="136.40" x2="524.54" y2="134.10" stroke="#2a2a2a" stroke-width="1.0"/>
<line x1="535.88" y1="136.40" x2="535.88" y2="132.60" stroke="#2a2a2a" stroke-width="1.0"/>
<line x1="547.22" y1="136.40" x2="547.22" y2="134.10" stroke="#2a2a2a" stroke-width="1.0"/>
<line x1="558.56" y1="136.40" x2="558.56" y2="132.60" stroke="#2a2a2a" stroke-width="1.0"/>
<line x1="569.90" y1="136.40" x2="569.90" y2="134.10" stroke="#2a2a2a" stroke-width="1.0"/>
<line x1="581.24" y1="136.40" x2="581.24" y2="132.60" stroke="#2a2a2a" stroke-width="1.0"/>
<line x1="592.58" y1="136.40" x2="592.58" y2="134.10" stroke="#2a2a2a" stroke-width="1.0"/>
<line x1="603.92" y1="136.40" x2="603.92" y2="132.60" stroke="#2a2a2a" stroke-width="1.0"/>
<line x1="615.26" y1="136.40" x2="615.26" y2="134.10" stroke="#2a2a2a" stroke-width="1.0"/>
<line x1="626.60" y1="136.40" x2="626.60" y2="132.60" stroke="#2a2a2a" stroke-width="1.0"/>
<line x1="637.94" y1="136.40" x2="637.94" y2="134.10" stroke="#2a2a2a" stroke-width="1.0"/>
<line x1="649.28" y1="136.40" x2="649.28" y2="132.60" stroke="#2a2a2a" stroke-width="1.0"/>
<line x1="660.62" y1="136.40" x2="660.62" y2="134.10" stroke="#2a2a2a" stroke-width="1.0"/>
<line x1="671.96" y1="136.40" x2="671.96" y2="132.60" stroke="#2a2a2a" stroke-width="1.0"/>
<text x="500.60" y="22.21" font-size="11.2" font-weight="normal" fill="#111" stroke="#111" stroke-width="0.25" text-anchor="end">0.2</text>
<line x1="476.24" y1="18.57" x2="484.19" y2="18.57" stroke="#111" stroke-width="1.23"/>
<text x="500.60" y="42.01" font-size="11.2" font-weight="normal" fill="#111" stroke="#111" stroke-width="0.25" text-anchor="end">0.3</text>
<line x1="476.24" y1="38.37" x2="484.19" y2="38.37" stroke="#111" stroke-width="1.23"/>
<text x="500.60" y="61.81" font-size="11.2" font-weight="normal" fill="#111" stroke="#111" stroke-width="0.25" text-anchor="end">0.4</text>
<line x1="476.24" y1="58.17" x2="484.19" y2="58.17" stroke="#111" stroke-width="1.23"/>
<text x="500.60" y="81.61" font-size="11.2" font-weight="normal" fill="#111" stroke="#111" stroke-width="0.25" text-anchor="end">0.5</text>
<line x1="476.24" y1="77.97" x2="484.19" y2="77.97" stroke="#111" stroke-width="1.23"/>
<text x="500.60" y="101.41" font-size="11.2" font-weight="normal" fill="#111" stroke="#111" stroke-width="0.25" text-anchor="end">0.6</text>
<line x1="476.24" y1="97.77" x2="484.19" y2="97.77" stroke="#111" stroke-width="1.23"/>
<text x="500.60" y="121.21" font-size="11.2" font-weight="normal" fill="#111" stroke="#111" stroke-width="0.25" text-anchor="end">0.7</text>
<line x1="476.24" y1="117.57" x2="484.19" y2="117.57" stroke="#111" stroke-width="1.23"/>
<text x="500.60" y="141.01" font-size="11.2" font-weight="normal" fill="#111" stroke="#111" stroke-width="0.25" text-anchor="end">0.8</text>
<line x1="476.24" y1="137.37" x2="484.19" y2="137.37" stroke="#111" stroke-width="1.23"/>
<text x="505.42" y="147.70" font-size="11.2" font-weight="normal" fill="#111" stroke="#111" stroke-width="0.25" text-anchor="start">0.0</text>
<text x="528.10" y="147.70" font-size="11.2" font-weight="normal" fill="#111" stroke="#111" stroke-width="0.25" text-anchor="start">0.1</text>
<rect x="537.76" y="146.95" width="2.43" height="2.10" fill="#fff"/>
<rect x="541.30" y="146.95" width="2.10" height="2.10" fill="#fff"/>
<text x="550.78" y="147.70" font-size="11.2" font-weight="normal" fill="#111" stroke="#111" stroke-width="0.25" text-anchor="start">0.2</text>
<text x="573.46" y="147.70" font-size="11.2" font-weight="normal" fill="#111" stroke="#111" stroke-width="0.25" text-anchor="start">0.3</text>
<text x="596.14" y="147.70" font-size="11.2" font-weight="normal" fill="#111" stroke="#111" stroke-width="0.25" text-anchor="start">0.4</text>
<text x="618.82" y="147.70" font-size="11.2" font-weight="normal" fill="#111" stroke="#111" stroke-width="0.25" text-anchor="start">0.5</text>
<text x="641.50" y="147.70" font-size="11.2" font-weight="normal" fill="#111" stroke="#111" stroke-width="0.25" text-anchor="start">0.6</text>
<text x="664.18" y="147.70" font-size="11.2" font-weight="normal" fill="#111" stroke="#111" stroke-width="0.25" text-anchor="start">0.7</text>
<text x="591.4" y="161.6" font-size="11.6" fill="#111" stroke="#111" stroke-width="0.25" text-anchor="middle">Log (scan rate, mV s<tspan font-size="7.2" dy="-4.3">−1</tspan><tspan dy="4.3">)</tspan></text>
<text x="471.80" y="71.40" font-size="11.7" font-weight="normal" fill="#111" stroke="#111" stroke-width="0.25" text-anchor="middle" transform="rotate(-90 471.80 71.40)">Log (peak current, mA)</text>
<text transform="translate(448.62 12.60) scale(0.9448 1)" font-size="14.3" font-weight="bold" fill="#111" stroke="#111" stroke-width="0.15">(c)</text>
<path d="M41.00,183.75 L41.02,184.12 L41.06,185.18 L41.14,186.86 L41.24,189.00 L41.38,191.45 L41.54,194.04 L41.74,196.62 L41.96,199.06 L42.22,201.28 L42.50,203.25 L42.82,204.93 L43.16,206.36 L43.53,207.57 L43.93,208.59 L44.37,209.46 L44.83,210.23 L45.31,210.92 L45.83,211.57 L46.38,212.18 L46.95,212.77 L47.55,213.34 L48.18,213.90 L48.84,214.45 L49.52,214.99 L50.23,215.52 L50.97,216.04 L51.73,216.54 L52.52,217.03 L53.33,217.51 L54.17,217.97 L55.04,218.41 L55.93,218.83 L56.84,219.24 L57.78,219.62 L58.74,219.99 L59.73,220.34 L60.73,220.68 L61.77,220.99 L62.82,221.29 L63.89,221.57 L64.99,221.83 L66.10,222.08 L67.24,222.31 L68.40,222.53 L69.58,222.74 L70.77,222.93 L71.99,223.11 L73.22,223.28 L74.47,223.44 L75.74,223.59 L77.02,223.73 L78.32,223.86 L79.64,223.98 L80.97,224.09 L82.32,224.20 L83.68,224.31 L85.05,224.40 L86.44,224.50 L87.84,224.58 L89.25,224.67 L90.67,224.75 L92.11,224.82 L93.55,224.90 L95.01,224.97 L96.47,225.04 L97.94,225.10 L99.43,225.17 L100.91,225.23 L102.41,225.29 L103.91,225.35 L105.42,225.41 L106.93,225.46 L108.45,225.52 L109.97,225.58 L111.50,225.63 L113.03,225.69 L114.56,225.74 L116.09,225.79 L117.63,225.85 L119.16,225.90 L120.69,225.95 L122.23,226.00 L123.76,226.05 L125.29,226.11 L126.82,226.16 L128.35,226.21 L129.87,226.26 L131.39,226.31 L132.90,226.36 L134.41,226.41 L135.91,226.46 L137.41,226.51 L138.89,226.56 L140.38,226.61 L141.85,226.66 L143.31,226.71 L144.77,226.76 L146.21,226.81 L147.65,226.86 L149.07,226.91 L150.48,226.97 L151.88,227.02 L153.27,227.07 L154.64,227.12 L156.00,227.18 L157.35,227.23 L158.68,227.29 L160.00,227.34 L161.30,227.40 L162.58,227.46 L163.85,227.52 L165.10,227.59 L166.33,227.66 L167.55,227.73 L168.74,227.81 L169.92,227.89 L171.08,227.98 L172.21,228.07 L173.33,228.18 L174.43,228.30 L175.50,228.43 L176.55,228.59 L177.58,228.76 L178.59,228.96 L179.58,229.19 L180.54,229.46 L181.48,229.78 L182.39,230.16 L183.28,230.61 L184.15,231.15 L184.99,231.80 L185.80,232.59 L186.59,233.55 L187.35,234.71 L188.09,236.10 L188.80,237.77 L189.48,239.76 L190.14,242.10 L190.77,244.82 L191.37,247.91 L191.94,251.35 L192.49,255.10 L193.01,259.08 L193.49,263.22 L193.95,267.42 L194.39,271.58 L194.79,275.63 L195.16,279.50 L195.50,283.14 L195.82,286.51 L196.10,289.60 L196.36,292.37 L196.58,294.83 L196.78,296.97 L196.94,298.78 L197.08,300.26 L197.18,301.42 L197.26,302.24 L197.30,302.74 L197.32,302.90" fill="none" stroke="#f08888" stroke-width="1.15" stroke-linejoin="round" stroke-linecap="round"/>
<path d="M41.00,302.90 L41.02,302.75 L41.07,302.30 L41.15,301.56 L41.26,300.51 L41.41,299.17 L41.59,297.54 L41.80,295.60 L42.05,293.37 L42.33,290.85 L42.64,288.04 L42.98,284.94 L43.36,281.56 L43.76,277.92 L44.20,274.04 L44.67,269.95 L45.17,265.72 L45.71,261.40 L46.27,257.11 L46.87,252.94 L47.49,249.02 L48.15,245.43 L48.84,242.26 L49.55,239.52 L50.30,237.22 L51.07,235.32 L51.88,233.77 L52.71,232.50 L53.57,231.47 L54.46,230.63 L55.38,229.94 L56.32,229.36 L57.29,228.88 L58.29,228.46 L59.31,228.10 L60.36,227.78 L61.44,227.50 L62.54,227.25 L63.66,227.02 L64.81,226.81 L65.98,226.62 L67.18,226.44 L68.40,226.27 L69.64,226.11 L70.90,225.96 L72.19,225.82 L73.49,225.68 L74.82,225.55 L76.16,225.43 L77.53,225.30 L78.91,225.19 L80.31,225.07 L81.73,224.96 L83.17,224.85 L84.62,224.74 L86.09,224.63 L87.58,224.53 L89.07,224.42 L90.59,224.32 L92.12,224.22 L93.66,224.12 L95.21,224.02 L96.78,223.92 L98.35,223.82 L99.94,223.72 L101.54,223.62 L103.15,223.52 L104.76,223.42 L106.39,223.32 L108.02,223.22 L109.66,223.12 L111.31,223.02 L112.96,222.92 L114.61,222.82 L116.28,222.72 L117.94,222.61 L119.61,222.51 L121.28,222.41 L122.95,222.30 L124.63,222.20 L126.30,222.09 L127.98,221.99 L129.65,221.88 L131.32,221.77 L132.99,221.67 L134.66,221.56 L136.33,221.45 L137.99,221.34 L139.65,221.23 L141.30,221.12 L142.94,221.00 L144.58,220.89 L146.21,220.78 L147.84,220.66 L149.46,220.54 L151.06,220.42 L152.66,220.31 L154.25,220.19 L155.83,220.06 L157.39,219.94 L158.94,219.82 L160.49,219.69 L162.01,219.56 L163.53,219.43 L165.03,219.30 L166.51,219.17 L167.98,219.03 L169.43,218.89 L170.87,218.75 L172.29,218.60 L173.69,218.46 L175.08,218.30 L176.44,218.15 L177.79,217.99 L179.11,217.82 L180.42,217.66 L181.70,217.48 L182.96,217.30 L184.20,217.11 L185.42,216.92 L186.62,216.72 L187.79,216.51 L188.94,216.29 L190.06,216.06 L191.16,215.82 L192.24,215.56 L193.29,215.30 L194.31,215.01 L195.31,214.71 L196.28,214.40 L197.23,214.06 L198.14,213.70 L199.03,213.31 L199.89,212.90 L200.73,212.45 L201.53,211.97 L202.31,211.45 L203.05,210.89 L203.77,210.28 L204.45,209.62 L205.11,208.90 L205.74,208.11 L206.33,207.26 L206.89,206.32 L207.43,205.30 L207.93,204.19 L208.40,202.98 L208.84,201.67 L209.25,200.25 L209.62,198.73 L209.96,197.11 L210.27,195.41 L210.55,193.64 L210.80,191.86 L211.01,190.09 L211.19,188.41 L211.34,186.88 L211.45,185.58 L211.54,184.58 L211.59,183.95 L211.60,183.74" fill="none" stroke="#f08888" stroke-width="1.15" stroke-linejoin="round" stroke-linecap="round"/>
<path d="M41.00,183.76 L41.01,184.12 L41.06,185.19 L41.13,186.88 L41.23,189.04 L41.36,191.51 L41.52,194.14 L41.71,196.77 L41.93,199.28 L42.18,201.57 L42.45,203.61 L42.76,205.36 L43.09,206.86 L43.45,208.11 L43.84,209.17 L44.26,210.08 L44.70,210.87 L45.17,211.58 L45.67,212.23 L46.20,212.84 L46.76,213.43 L47.34,214.00 L47.95,214.56 L48.58,215.11 L49.24,215.65 L49.93,216.17 L50.64,216.69 L51.38,217.20 L52.14,217.69 L52.93,218.17 L53.74,218.63 L54.58,219.07 L55.44,219.50 L56.33,219.92 L57.23,220.31 L58.17,220.69 L59.12,221.05 L60.09,221.39 L61.09,221.72 L62.11,222.03 L63.15,222.32 L64.21,222.60 L65.29,222.86 L66.39,223.10 L67.51,223.33 L68.65,223.55 L69.80,223.76 L70.98,223.95 L72.17,224.13 L73.38,224.30 L74.61,224.46 L75.85,224.62 L77.11,224.76 L78.38,224.89 L79.67,225.02 L80.97,225.14 L82.29,225.26 L83.62,225.37 L84.96,225.47 L86.32,225.57 L87.68,225.66 L89.06,225.75 L90.45,225.84 L91.84,225.92 L93.25,226.01 L94.67,226.08 L96.09,226.16 L97.53,226.23 L98.97,226.31 L100.41,226.38 L101.87,226.45 L103.33,226.51 L104.79,226.58 L106.26,226.65 L107.73,226.71 L109.21,226.78 L110.69,226.84 L112.17,226.90 L113.65,226.96 L115.14,227.02 L116.62,227.09 L118.11,227.15 L119.59,227.21 L121.07,227.27 L122.55,227.33 L124.03,227.39 L125.51,227.45 L126.98,227.50 L128.45,227.56 L129.91,227.62 L131.37,227.68 L132.83,227.74 L134.27,227.80 L135.71,227.86 L137.15,227.92 L138.57,227.97 L139.99,228.03 L141.40,228.09 L142.79,228.15 L144.18,228.21 L145.56,228.27 L146.93,228.33 L148.28,228.39 L149.62,228.45 L150.95,228.51 L152.27,228.58 L153.57,228.64 L154.86,228.70 L156.13,228.77 L157.39,228.84 L158.63,228.91 L159.86,228.98 L161.07,229.06 L162.26,229.14 L163.44,229.23 L164.59,229.32 L165.73,229.42 L166.85,229.52 L167.95,229.64 L169.03,229.77 L170.09,229.91 L171.13,230.07 L172.15,230.25 L173.15,230.46 L174.12,230.69 L175.08,230.97 L176.01,231.29 L176.91,231.67 L177.80,232.11 L178.66,232.64 L179.50,233.28 L180.31,234.04 L181.10,234.95 L181.86,236.04 L182.60,237.35 L183.31,238.90 L184.00,240.74 L184.66,242.90 L185.29,245.39 L185.90,248.23 L186.48,251.39 L187.04,254.84 L187.57,258.54 L188.07,262.40 L188.54,266.35 L188.98,270.31 L189.40,274.19 L189.79,277.94 L190.15,281.51 L190.48,284.85 L190.79,287.94 L191.06,290.76 L191.31,293.30 L191.53,295.54 L191.72,297.49 L191.88,299.14 L192.01,300.49 L192.11,301.55 L192.18,302.30 L192.23,302.75 L192.24,302.90" fill="none" stroke="#2a3fb0" stroke-width="1.15" stroke-linejoin="round" stroke-linecap="round"/>
<path d="M41.00,302.90 L41.02,302.75 L41.06,302.30 L41.14,301.55 L41.25,300.51 L41.40,299.16 L41.57,297.52 L41.78,295.58 L42.02,293.35 L42.29,290.82 L42.59,288.00 L42.92,284.89 L43.28,281.50 L43.68,277.85 L44.10,273.96 L44.56,269.87 L45.05,265.63 L45.56,261.32 L46.11,257.03 L46.69,252.87 L47.29,248.95 L47.93,245.38 L48.59,242.21 L49.29,239.49 L50.01,237.19 L50.76,235.29 L51.54,233.73 L52.35,232.45 L53.18,231.41 L54.05,230.55 L54.93,229.84 L55.85,229.25 L56.79,228.74 L57.76,228.31 L58.75,227.93 L59.77,227.59 L60.81,227.29 L61.88,227.03 L62.97,226.78 L64.08,226.56 L65.22,226.35 L66.38,226.16 L67.56,225.97 L68.76,225.80 L69.98,225.64 L71.23,225.49 L72.49,225.34 L73.78,225.20 L75.08,225.07 L76.41,224.94 L77.75,224.81 L79.11,224.69 L80.48,224.58 L81.87,224.46 L83.28,224.35 L84.71,224.24 L86.15,224.13 L87.60,224.03 L89.07,223.92 L90.55,223.82 L92.04,223.72 L93.55,223.61 L95.06,223.51 L96.59,223.41 L98.13,223.31 L99.68,223.21 L101.24,223.11 L102.81,223.02 L104.38,222.92 L105.96,222.82 L107.55,222.72 L109.15,222.62 L110.75,222.52 L112.35,222.42 L113.96,222.32 L115.58,222.22 L117.20,222.12 L118.82,222.01 L120.44,221.91 L122.06,221.81 L123.68,221.71 L125.31,221.60 L126.93,221.50 L128.55,221.39 L130.17,221.29 L131.79,221.18 L133.40,221.07 L135.01,220.96 L136.62,220.85 L138.22,220.74 L139.81,220.63 L141.40,220.52 L142.98,220.41 L144.56,220.29 L146.13,220.18 L147.68,220.06 L149.23,219.95 L150.77,219.83 L152.30,219.71 L153.82,219.58 L155.32,219.46 L156.82,219.34 L158.30,219.21 L159.77,219.08 L161.22,218.95 L162.66,218.82 L164.08,218.68 L165.49,218.54 L166.88,218.40 L168.26,218.26 L169.62,218.11 L170.96,217.96 L172.28,217.80 L173.59,217.64 L174.87,217.48 L176.14,217.31 L177.38,217.14 L178.60,216.96 L179.81,216.77 L180.99,216.57 L182.15,216.37 L183.28,216.16 L184.40,215.94 L185.49,215.71 L186.56,215.46 L187.60,215.21 L188.61,214.94 L189.61,214.66 L190.57,214.35 L191.52,214.03 L192.43,213.69 L193.32,213.33 L194.18,212.94 L195.02,212.52 L195.82,212.07 L196.60,211.59 L197.35,211.06 L198.08,210.50 L198.77,209.89 L199.44,209.22 L200.07,208.50 L200.68,207.71 L201.25,206.85 L201.80,205.91 L202.32,204.89 L202.81,203.78 L203.26,202.58 L203.69,201.27 L204.08,199.87 L204.44,198.36 L204.78,196.76 L205.08,195.09 L205.35,193.36 L205.59,191.61 L205.79,189.89 L205.97,188.25 L206.11,186.77 L206.22,185.51 L206.30,184.55 L206.35,183.95 L206.37,183.74" fill="none" stroke="#2a3fb0" stroke-width="1.15" stroke-linejoin="round" stroke-linecap="round"/>
<path d="M41.00,183.76 L41.01,184.13 L41.06,185.19 L41.13,186.85 L41.23,189.00 L41.35,191.48 L41.51,194.12 L41.69,196.78 L41.90,199.32 L42.14,201.67 L42.40,203.77 L42.70,205.59 L43.02,207.15 L43.37,208.47 L43.74,209.58 L44.14,210.53 L44.57,211.36 L45.03,212.09 L45.51,212.77 L46.02,213.39 L46.56,213.99 L47.12,214.56 L47.71,215.12 L48.32,215.67 L48.96,216.20 L49.62,216.72 L50.31,217.24 L51.02,217.73 L51.76,218.22 L52.52,218.69 L53.30,219.14 L54.11,219.57 L54.94,219.99 L55.80,220.39 L56.67,220.78 L57.57,221.14 L58.49,221.49 L59.43,221.82 L60.39,222.13 L61.38,222.43 L62.38,222.71 L63.41,222.97 L64.45,223.22 L65.51,223.45 L66.59,223.67 L67.69,223.88 L68.81,224.07 L69.94,224.25 L71.09,224.43 L72.26,224.59 L73.44,224.74 L74.64,224.88 L75.86,225.01 L77.09,225.14 L78.33,225.26 L79.59,225.37 L80.86,225.48 L82.14,225.58 L83.44,225.67 L84.75,225.77 L86.07,225.85 L87.39,225.94 L88.73,226.02 L90.08,226.10 L91.44,226.17 L92.81,226.25 L94.19,226.32 L95.57,226.39 L96.96,226.46 L98.36,226.52 L99.76,226.59 L101.17,226.65 L102.58,226.72 L104.00,226.78 L105.42,226.84 L106.85,226.90 L108.27,226.96 L109.70,227.02 L111.14,227.08 L112.57,227.14 L114.00,227.20 L115.44,227.26 L116.87,227.32 L118.30,227.38 L119.73,227.43 L121.16,227.49 L122.58,227.55 L124.00,227.61 L125.42,227.66 L126.84,227.72 L128.24,227.78 L129.65,227.84 L131.04,227.89 L132.43,227.95 L133.82,228.01 L135.19,228.07 L136.56,228.13 L137.92,228.19 L139.27,228.24 L140.61,228.30 L141.94,228.36 L143.26,228.42 L144.56,228.49 L145.86,228.55 L147.14,228.61 L148.41,228.68 L149.67,228.75 L150.92,228.81 L152.15,228.89 L153.36,228.96 L154.56,229.04 L155.74,229.12 L156.91,229.20 L158.06,229.30 L159.20,229.39 L160.31,229.50 L161.41,229.61 L162.49,229.74 L163.56,229.88 L164.60,230.03 L165.62,230.21 L166.63,230.40 L167.61,230.63 L168.57,230.88 L169.51,231.18 L170.43,231.53 L171.33,231.93 L172.21,232.41 L173.06,232.97 L173.89,233.63 L174.70,234.42 L175.49,235.36 L176.25,236.48 L176.98,237.80 L177.70,239.35 L178.38,241.17 L179.05,243.28 L179.69,245.69 L180.30,248.42 L180.89,251.43 L181.45,254.72 L181.98,258.22 L182.49,261.88 L182.97,265.63 L183.43,269.40 L183.86,273.12 L184.26,276.73 L184.64,280.19 L184.99,283.46 L185.31,286.51 L185.60,289.33 L185.87,291.89 L186.11,294.19 L186.32,296.22 L186.50,297.99 L186.65,299.49 L186.78,300.72 L186.88,301.67 L186.95,302.35 L186.99,302.76 L187.00,302.90" fill="none" stroke="#a855c8" stroke-width="1.15" stroke-linejoin="round" stroke-linecap="round"/>
<path d="M41.00,302.90 L41.01,302.75 L41.06,302.30 L41.13,301.55 L41.24,300.50 L41.37,299.15 L41.54,297.50 L41.73,295.56 L41.96,293.32 L42.21,290.78 L42.49,287.95 L42.81,284.83 L43.15,281.44 L43.52,277.78 L43.92,273.88 L44.35,269.78 L44.81,265.53 L45.29,261.22 L45.81,256.93 L46.35,252.78 L46.92,248.88 L47.52,245.33 L48.14,242.18 L48.80,239.47 L49.48,237.18 L50.18,235.28 L50.92,233.72 L51.67,232.43 L52.46,231.38 L53.27,230.51 L54.11,229.78 L54.97,229.16 L55.85,228.63 L56.76,228.17 L57.69,227.77 L58.65,227.41 L59.63,227.09 L60.63,226.80 L61.66,226.53 L62.71,226.28 L63.78,226.05 L64.87,225.84 L65.98,225.63 L67.11,225.44 L68.26,225.26 L69.43,225.09 L70.62,224.92 L71.83,224.77 L73.06,224.61 L74.30,224.47 L75.56,224.33 L76.84,224.19 L78.13,224.06 L79.44,223.93 L80.77,223.80 L82.11,223.68 L83.46,223.56 L84.83,223.44 L86.21,223.33 L87.60,223.21 L89.00,223.10 L90.42,222.99 L91.85,222.88 L93.29,222.77 L94.73,222.66 L96.19,222.55 L97.65,222.45 L99.13,222.34 L100.61,222.23 L102.10,222.13 L103.59,222.02 L105.09,221.91 L106.60,221.81 L108.11,221.70 L109.62,221.59 L111.14,221.48 L112.66,221.38 L114.19,221.27 L115.71,221.16 L117.24,221.05 L118.76,220.94 L120.29,220.83 L121.82,220.72 L123.34,220.61 L124.86,220.50 L126.39,220.38 L127.90,220.27 L129.42,220.16 L130.93,220.04 L132.43,219.93 L133.93,219.81 L135.43,219.69 L136.92,219.57 L138.40,219.45 L139.87,219.33 L141.34,219.21 L142.79,219.09 L144.24,218.96 L145.68,218.84 L147.11,218.71 L148.52,218.58 L149.93,218.45 L151.32,218.32 L152.70,218.18 L154.07,218.05 L155.42,217.91 L156.76,217.77 L158.08,217.62 L159.39,217.47 L160.69,217.32 L161.97,217.17 L163.23,217.01 L164.47,216.85 L165.70,216.69 L166.91,216.52 L168.10,216.34 L169.27,216.16 L170.42,215.97 L171.55,215.78 L172.66,215.58 L173.75,215.37 L174.82,215.15 L175.87,214.92 L176.89,214.69 L177.89,214.44 L178.87,214.18 L179.83,213.90 L180.77,213.61 L181.67,213.30 L182.56,212.97 L183.42,212.62 L184.26,212.25 L185.07,211.86 L185.85,211.43 L186.61,210.98 L187.34,210.49 L188.05,209.96 L188.73,209.39 L189.38,208.78 L190.01,208.11 L190.61,207.39 L191.18,206.60 L191.72,205.75 L192.23,204.82 L192.72,203.82 L193.18,202.73 L193.61,201.55 L194.01,200.27 L194.38,198.91 L194.72,197.46 L195.03,195.92 L195.31,194.32 L195.57,192.68 L195.79,191.04 L195.99,189.42 L196.15,187.90 L196.29,186.52 L196.39,185.36 L196.47,184.48 L196.51,183.93 L196.53,183.74" fill="none" stroke="#a855c8" stroke-width="1.15" stroke-linejoin="round" stroke-linecap="round"/>
<path d="M41.00,183.77 L41.01,184.18 L41.05,185.35 L41.12,187.20 L41.22,189.57 L41.34,192.28 L41.49,195.15 L41.67,198.01 L41.87,200.71 L42.10,203.17 L42.36,205.34 L42.64,207.19 L42.95,208.75 L43.29,210.05 L43.65,211.14 L44.04,212.05 L44.45,212.84 L44.89,213.54 L45.36,214.18 L45.85,214.78 L46.37,215.35 L46.91,215.90 L47.48,216.43 L48.07,216.96 L48.69,217.47 L49.33,217.97 L49.99,218.46 L50.68,218.94 L51.40,219.40 L52.13,219.84 L52.89,220.27 L53.67,220.69 L54.47,221.08 L55.30,221.46 L56.14,221.83 L57.01,222.17 L57.90,222.50 L58.81,222.81 L59.74,223.10 L60.69,223.38 L61.66,223.64 L62.65,223.89 L63.66,224.12 L64.68,224.34 L65.73,224.54 L66.79,224.74 L67.87,224.92 L68.97,225.09 L70.08,225.25 L71.21,225.40 L72.35,225.55 L73.51,225.68 L74.68,225.81 L75.87,225.93 L77.07,226.04 L78.29,226.15 L79.52,226.26 L80.76,226.36 L82.01,226.45 L83.27,226.54 L84.55,226.63 L85.83,226.72 L87.13,226.80 L88.43,226.88 L89.74,226.96 L91.06,227.03 L92.39,227.11 L93.73,227.18 L95.07,227.25 L96.42,227.32 L97.78,227.39 L99.14,227.46 L100.51,227.53 L101.88,227.60 L103.25,227.67 L104.63,227.73 L106.01,227.80 L107.39,227.86 L108.77,227.93 L110.16,228.00 L111.54,228.06 L112.93,228.13 L114.31,228.19 L115.70,228.26 L117.08,228.32 L118.46,228.39 L119.83,228.45 L121.21,228.52 L122.58,228.58 L123.94,228.65 L125.30,228.71 L126.66,228.78 L128.01,228.84 L129.35,228.91 L130.69,228.97 L132.02,229.04 L133.34,229.11 L134.65,229.17 L135.96,229.24 L137.25,229.31 L138.54,229.38 L139.81,229.45 L141.08,229.52 L142.33,229.59 L143.57,229.67 L144.80,229.74 L146.01,229.82 L147.21,229.90 L148.40,229.99 L149.57,230.07 L150.73,230.17 L151.88,230.26 L153.01,230.36 L154.12,230.47 L155.21,230.59 L156.29,230.72 L157.36,230.86 L158.40,231.01 L159.43,231.18 L160.43,231.37 L161.42,231.58 L162.39,231.82 L163.34,232.10 L164.27,232.41 L165.18,232.78 L166.07,233.20 L166.94,233.69 L167.79,234.27 L168.61,234.95 L169.42,235.74 L170.20,236.68 L170.95,237.78 L171.69,239.07 L172.40,240.58 L173.09,242.33 L173.75,244.35 L174.40,246.63 L175.01,249.20 L175.60,252.03 L176.17,255.10 L176.71,258.37 L177.23,261.80 L177.72,265.32 L178.19,268.87 L178.63,272.39 L179.05,275.84 L179.44,279.16 L179.80,282.33 L180.14,285.30 L180.45,288.07 L180.73,290.62 L180.99,292.94 L181.22,295.02 L181.42,296.87 L181.60,298.46 L181.74,299.82 L181.87,300.93 L181.96,301.79 L182.03,302.41 L182.07,302.78 L182.08,302.90" fill="none" stroke="#5cc44c" stroke-width="1.15" stroke-linejoin="round" stroke-linecap="round"/>
<path d="M41.00,302.90 L41.01,302.75 L41.06,302.29 L41.13,301.52 L41.22,300.45 L41.35,299.07 L41.50,297.38 L41.69,295.39 L41.89,293.10 L42.13,290.51 L42.40,287.62 L42.69,284.43 L43.01,280.96 L43.36,277.22 L43.73,273.24 L44.13,269.06 L44.56,264.74 L45.01,260.35 L45.49,256.01 L46.00,251.82 L46.53,247.89 L47.09,244.33 L47.68,241.19 L48.29,238.49 L48.92,236.22 L49.58,234.33 L50.27,232.78 L50.98,231.50 L51.71,230.45 L52.47,229.57 L53.25,228.84 L54.05,228.21 L54.88,227.67 L55.73,227.20 L56.60,226.78 L57.50,226.41 L58.41,226.07 L59.35,225.76 L60.31,225.47 L61.29,225.21 L62.29,224.96 L63.31,224.73 L64.35,224.52 L65.40,224.31 L66.48,224.11 L67.57,223.93 L68.69,223.75 L69.82,223.58 L70.96,223.42 L72.12,223.26 L73.30,223.11 L74.50,222.97 L75.71,222.83 L76.93,222.69 L78.17,222.56 L79.42,222.43 L80.69,222.31 L81.96,222.19 L83.25,222.07 L84.56,221.95 L85.87,221.84 L87.19,221.72 L88.53,221.61 L89.87,221.50 L91.22,221.39 L92.59,221.28 L93.96,221.18 L95.33,221.07 L96.72,220.96 L98.11,220.86 L99.50,220.75 L100.91,220.65 L102.31,220.55 L103.73,220.44 L105.14,220.34 L106.56,220.23 L107.98,220.13 L109.41,220.02 L110.83,219.92 L112.26,219.81 L113.68,219.71 L115.11,219.60 L116.54,219.49 L117.96,219.39 L119.39,219.28 L120.81,219.17 L122.23,219.06 L123.64,218.95 L125.05,218.84 L126.46,218.73 L127.86,218.61 L129.26,218.50 L130.65,218.38 L132.04,218.27 L133.41,218.15 L134.78,218.03 L136.15,217.91 L137.50,217.79 L138.84,217.67 L140.18,217.55 L141.50,217.42 L142.81,217.29 L144.11,217.16 L145.40,217.03 L146.68,216.90 L147.95,216.76 L149.20,216.62 L150.44,216.48 L151.66,216.34 L152.87,216.19 L154.07,216.04 L155.24,215.88 L156.41,215.72 L157.55,215.56 L158.68,215.39 L159.80,215.22 L160.89,215.04 L161.97,214.85 L163.02,214.66 L164.06,214.46 L165.08,214.25 L166.08,214.03 L167.06,213.80 L168.02,213.57 L168.95,213.31 L169.87,213.05 L170.77,212.77 L171.64,212.48 L172.49,212.17 L173.32,211.84 L174.12,211.49 L174.90,211.12 L175.66,210.72 L176.39,210.30 L177.10,209.84 L177.79,209.35 L178.45,208.82 L179.08,208.25 L179.69,207.64 L180.28,206.97 L180.84,206.25 L181.37,205.47 L181.88,204.63 L182.36,203.71 L182.81,202.72 L183.24,201.65 L183.64,200.50 L184.01,199.26 L184.36,197.95 L184.68,196.55 L184.97,195.08 L185.24,193.56 L185.47,192.02 L185.68,190.47 L185.87,188.97 L186.02,187.55 L186.15,186.29 L186.24,185.22 L186.31,184.42 L186.36,183.91 L186.37,183.74" fill="none" stroke="#5cc44c" stroke-width="1.15" stroke-linejoin="round" stroke-linecap="round"/>
<path d="M41.00,183.79 L41.01,184.21 L41.05,185.45 L41.12,187.39 L41.21,189.89 L41.32,192.76 L41.46,195.83 L41.63,198.90 L41.83,201.84 L42.04,204.53 L42.29,206.93 L42.56,208.99 L42.85,210.74 L43.17,212.21 L43.52,213.43 L43.89,214.45 L44.28,215.32 L44.70,216.08 L45.14,216.76 L45.61,217.39 L46.10,217.97 L46.62,218.53 L47.16,219.06 L47.72,219.58 L48.31,220.08 L48.92,220.57 L49.55,221.04 L50.20,221.50 L50.88,221.94 L51.58,222.36 L52.30,222.77 L53.04,223.16 L53.81,223.53 L54.59,223.88 L55.39,224.21 L56.22,224.53 L57.06,224.83 L57.93,225.11 L58.81,225.38 L59.72,225.63 L60.64,225.87 L61.58,226.09 L62.54,226.31 L63.51,226.50 L64.50,226.69 L65.51,226.87 L66.54,227.03 L67.58,227.19 L68.64,227.34 L69.71,227.48 L70.80,227.62 L71.90,227.75 L73.02,227.87 L74.15,227.99 L75.29,228.10 L76.44,228.21 L77.61,228.32 L78.79,228.42 L79.98,228.53 L81.18,228.62 L82.39,228.72 L83.61,228.82 L84.84,228.91 L86.08,229.00 L87.33,229.09 L88.59,229.18 L89.85,229.27 L91.12,229.36 L92.40,229.45 L93.68,229.53 L94.97,229.62 L96.26,229.71 L97.56,229.79 L98.86,229.88 L100.17,229.97 L101.48,230.05 L102.79,230.14 L104.10,230.23 L105.42,230.31 L106.73,230.40 L108.05,230.49 L109.37,230.57 L110.68,230.66 L112.00,230.75 L113.31,230.83 L114.62,230.92 L115.93,231.01 L117.24,231.09 L118.54,231.18 L119.84,231.27 L121.13,231.36 L122.42,231.44 L123.70,231.53 L124.98,231.62 L126.25,231.71 L127.51,231.80 L128.77,231.89 L130.02,231.98 L131.26,232.07 L132.49,232.17 L133.71,232.26 L134.92,232.35 L136.12,232.45 L137.31,232.55 L138.49,232.65 L139.66,232.75 L140.81,232.86 L141.96,232.97 L143.08,233.08 L144.20,233.20 L145.30,233.32 L146.39,233.45 L147.46,233.59 L148.52,233.74 L149.56,233.90 L150.59,234.07 L151.60,234.25 L152.59,234.46 L153.56,234.68 L154.52,234.93 L155.46,235.21 L156.38,235.53 L157.29,235.88 L158.17,236.29 L159.04,236.76 L159.88,237.30 L160.71,237.92 L161.51,238.64 L162.30,239.48 L163.06,240.45 L163.80,241.57 L164.52,242.87 L165.22,244.36 L165.90,246.07 L166.55,248.00 L167.18,250.17 L167.79,252.56 L168.38,255.18 L168.94,257.99 L169.48,260.97 L170.00,264.06 L170.49,267.23 L170.96,270.43 L171.40,273.60 L171.82,276.71 L172.21,279.72 L172.58,282.60 L172.93,285.33 L173.25,287.88 L173.54,290.25 L173.81,292.43 L174.06,294.41 L174.28,296.19 L174.47,297.76 L174.64,299.12 L174.78,300.27 L174.89,301.22 L174.99,301.95 L175.05,302.48 L175.09,302.79 L175.10,302.90" fill="none" stroke="#e8905a" stroke-width="1.15" stroke-linejoin="round" stroke-linecap="round"/>
<path d="M41.00,302.90 L41.01,302.74 L41.05,302.27 L41.12,301.48 L41.21,300.38 L41.33,298.97 L41.48,297.24 L41.65,295.20 L41.85,292.84 L42.07,290.18 L42.32,287.21 L42.60,283.94 L42.90,280.38 L43.23,276.55 L43.58,272.47 L43.96,268.20 L44.36,263.78 L44.79,259.32 L45.25,254.92 L45.73,250.69 L46.23,246.74 L46.76,243.18 L47.31,240.06 L47.89,237.39 L48.49,235.15 L49.11,233.29 L49.76,231.75 L50.43,230.49 L51.13,229.45 L51.84,228.57 L52.58,227.83 L53.34,227.19 L54.12,226.64 L54.93,226.15 L55.75,225.72 L56.60,225.32 L57.46,224.96 L58.35,224.63 L59.26,224.33 L60.18,224.04 L61.13,223.77 L62.09,223.52 L63.07,223.28 L64.07,223.06 L65.09,222.84 L66.12,222.64 L67.17,222.44 L68.24,222.25 L69.33,222.07 L70.43,221.90 L71.54,221.73 L72.67,221.57 L73.81,221.41 L74.97,221.26 L76.14,221.12 L77.32,220.97 L78.52,220.83 L79.73,220.70 L80.95,220.57 L82.18,220.44 L83.42,220.31 L84.67,220.19 L85.93,220.07 L87.20,219.95 L88.48,219.83 L89.77,219.71 L91.06,219.60 L92.37,219.48 L93.68,219.37 L94.99,219.25 L96.31,219.14 L97.64,219.03 L98.97,218.92 L100.30,218.81 L101.64,218.70 L102.98,218.59 L104.33,218.48 L105.67,218.36 L107.02,218.25 L108.37,218.14 L109.72,218.03 L111.07,217.92 L112.41,217.81 L113.76,217.70 L115.11,217.58 L116.45,217.47 L117.79,217.35 L119.13,217.24 L120.47,217.12 L121.80,217.01 L123.12,216.89 L124.44,216.77 L125.76,216.65 L127.07,216.53 L128.37,216.41 L129.66,216.29 L130.95,216.17 L132.23,216.04 L133.50,215.92 L134.76,215.79 L136.01,215.66 L137.26,215.53 L138.49,215.40 L139.71,215.26 L140.91,215.13 L142.11,214.99 L143.29,214.84 L144.46,214.70 L145.62,214.55 L146.77,214.40 L147.89,214.25 L149.01,214.09 L150.11,213.93 L151.19,213.76 L152.26,213.59 L153.31,213.42 L154.35,213.24 L155.36,213.05 L156.36,212.85 L157.34,212.65 L158.31,212.44 L159.25,212.22 L160.18,212.00 L161.08,211.76 L161.97,211.51 L162.84,211.25 L163.68,210.97 L164.51,210.68 L165.31,210.38 L166.09,210.05 L166.85,209.71 L167.59,209.34 L168.31,208.95 L169.00,208.53 L169.67,208.08 L170.32,207.60 L170.94,207.09 L171.55,206.53 L172.12,205.94 L172.67,205.29 L173.20,204.60 L173.71,203.85 L174.19,203.04 L174.64,202.16 L175.07,201.22 L175.48,200.20 L175.85,199.11 L176.21,197.95 L176.54,196.71 L176.84,195.41 L177.11,194.05 L177.36,192.65 L177.59,191.22 L177.79,189.81 L177.96,188.44 L178.10,187.16 L178.22,186.02 L178.32,185.07 L178.38,184.34 L178.42,183.89 L178.43,183.74" fill="none" stroke="#e8905a" stroke-width="1.15" stroke-linejoin="round" stroke-linecap="round"/>
<path d="M41.00,183.85 L41.01,184.37 L41.05,185.88 L41.11,188.25 L41.20,191.29 L41.31,194.76 L41.45,198.42 L41.61,202.06 L41.79,205.49 L42.00,208.60 L42.24,211.32 L42.50,213.63 L42.78,215.54 L43.09,217.10 L43.42,218.37 L43.77,219.40 L44.15,220.25 L44.56,220.97 L44.98,221.59 L45.43,222.13 L45.90,222.63 L46.40,223.08 L46.92,223.50 L47.46,223.89 L48.02,224.25 L48.61,224.59 L49.22,224.91 L49.84,225.21 L50.49,225.48 L51.17,225.74 L51.86,225.98 L52.57,226.20 L53.31,226.40 L54.06,226.60 L54.83,226.78 L55.63,226.94 L56.44,227.10 L57.27,227.25 L58.12,227.39 L58.99,227.53 L59.87,227.66 L60.78,227.79 L61.70,227.91 L62.63,228.03 L63.59,228.14 L64.56,228.26 L65.54,228.37 L66.54,228.48 L67.56,228.60 L68.59,228.71 L69.64,228.82 L70.69,228.93 L71.77,229.04 L72.85,229.16 L73.95,229.27 L75.06,229.38 L76.18,229.50 L77.31,229.62 L78.46,229.73 L79.61,229.85 L80.78,229.97 L81.95,230.09 L83.13,230.21 L84.32,230.33 L85.52,230.45 L86.73,230.58 L87.94,230.70 L89.16,230.82 L90.39,230.95 L91.62,231.08 L92.86,231.20 L94.11,231.33 L95.35,231.46 L96.60,231.59 L97.86,231.72 L99.12,231.85 L100.38,231.98 L101.64,232.11 L102.90,232.24 L104.17,232.37 L105.43,232.50 L106.70,232.63 L107.96,232.77 L109.23,232.90 L110.49,233.03 L111.75,233.17 L113.01,233.30 L114.26,233.44 L115.51,233.57 L116.76,233.71 L118.00,233.84 L119.24,233.98 L120.47,234.12 L121.70,234.26 L122.92,234.40 L124.14,234.54 L125.34,234.68 L126.54,234.82 L127.73,234.96 L128.92,235.11 L130.09,235.26 L131.25,235.41 L132.41,235.56 L133.55,235.72 L134.68,235.88 L135.81,236.04 L136.92,236.21 L138.01,236.38 L139.10,236.56 L140.17,236.75 L141.23,236.95 L142.27,237.16 L143.30,237.38 L144.32,237.62 L145.32,237.87 L146.31,238.15 L147.28,238.45 L148.23,238.77 L149.17,239.13 L150.09,239.52 L150.99,239.96 L151.88,240.46 L152.75,241.01 L153.60,241.63 L154.43,242.33 L155.24,243.13 L156.03,244.03 L156.81,245.05 L157.56,246.20 L158.29,247.50 L159.01,248.96 L159.70,250.59 L160.37,252.39 L161.02,254.37 L161.65,256.52 L162.26,258.82 L162.84,261.27 L163.40,263.84 L163.95,266.49 L164.46,269.19 L164.96,271.91 L165.43,274.62 L165.88,277.29 L166.31,279.90 L166.71,282.41 L167.09,284.81 L167.45,287.09 L167.78,289.23 L168.08,291.23 L168.37,293.08 L168.63,294.77 L168.86,296.31 L169.07,297.69 L169.26,298.91 L169.42,299.97 L169.55,300.86 L169.67,301.60 L169.75,302.17 L169.81,302.57 L169.85,302.82 L169.86,302.90" fill="none" stroke="#111111" stroke-width="1.15" stroke-linejoin="round" stroke-linecap="round"/>
<path d="M41.00,302.90 L41.01,302.70 L41.05,302.11 L41.11,301.12 L41.20,299.73 L41.32,297.95 L41.46,295.78 L41.62,293.21 L41.81,290.25 L42.02,286.90 L42.26,283.18 L42.53,279.09 L42.82,274.66 L43.13,269.93 L43.47,264.98 L43.83,259.91 L44.22,254.86 L44.63,249.98 L45.06,245.43 L45.52,241.34 L46.00,237.79 L46.51,234.80 L47.04,232.33 L47.59,230.30 L48.16,228.64 L48.76,227.28 L49.38,226.15 L50.02,225.20 L50.68,224.38 L51.37,223.66 L52.07,223.02 L52.80,222.45 L53.55,221.93 L54.32,221.44 L55.11,221.00 L55.91,220.58 L56.74,220.19 L57.59,219.81 L58.46,219.46 L59.34,219.13 L60.24,218.82 L61.16,218.52 L62.10,218.23 L63.06,217.96 L64.03,217.70 L65.02,217.45 L66.03,217.22 L67.05,216.99 L68.08,216.78 L69.13,216.57 L70.20,216.38 L71.28,216.19 L72.37,216.01 L73.48,215.84 L74.60,215.68 L75.73,215.52 L76.87,215.37 L78.03,215.23 L79.20,215.09 L80.37,214.95 L81.56,214.82 L82.76,214.70 L83.96,214.58 L85.18,214.46 L86.40,214.34 L87.63,214.23 L88.87,214.12 L90.11,214.02 L91.36,213.91 L92.62,213.81 L93.88,213.71 L95.15,213.61 L96.42,213.51 L97.70,213.41 L98.98,213.31 L100.26,213.22 L101.55,213.12 L102.83,213.03 L104.12,212.94 L105.41,212.84 L106.70,212.75 L107.99,212.66 L109.28,212.56 L110.57,212.47 L111.86,212.38 L113.14,212.28 L114.42,212.19 L115.70,212.10 L116.98,212.00 L118.25,211.91 L119.52,211.81 L120.78,211.71 L122.04,211.62 L123.29,211.52 L124.54,211.42 L125.77,211.32 L127.00,211.22 L128.23,211.12 L129.44,211.02 L130.65,210.91 L131.84,210.81 L133.03,210.70 L134.21,210.59 L135.37,210.48 L136.53,210.37 L137.67,210.25 L138.81,210.13 L139.92,210.01 L141.03,209.89 L142.12,209.77 L143.20,209.64 L144.27,209.51 L145.32,209.37 L146.36,209.23 L147.38,209.09 L148.38,208.94 L149.37,208.79 L150.34,208.63 L151.30,208.46 L152.24,208.29 L153.16,208.11 L154.06,207.93 L154.95,207.73 L155.81,207.53 L156.66,207.31 L157.49,207.09 L158.30,206.85 L159.09,206.60 L159.86,206.33 L160.60,206.05 L161.33,205.75 L162.04,205.44 L162.72,205.10 L163.39,204.74 L164.03,204.35 L164.65,203.93 L165.24,203.48 L165.82,203.00 L166.37,202.49 L166.90,201.93 L167.40,201.33 L167.88,200.68 L168.34,199.98 L168.78,199.23 L169.19,198.41 L169.57,197.54 L169.94,196.61 L170.27,195.62 L170.59,194.57 L170.88,193.46 L171.14,192.31 L171.38,191.13 L171.59,189.94 L171.78,188.76 L171.95,187.62 L172.09,186.56 L172.20,185.61 L172.29,184.83 L172.35,184.24 L172.39,183.87 L172.40,183.74" fill="none" stroke="#111111" stroke-width="1.15" stroke-linejoin="round" stroke-linecap="round"/>
<rect x="41.10" y="178.50" width="172.60" height="124.50" fill="none" stroke="#111" stroke-width="1.0"/>
<line x1="41.10" y1="302.90" x2="44.10" y2="302.90" stroke="#111" stroke-width="1.0"/>
<line x1="41.10" y1="292.97" x2="43.10" y2="292.97" stroke="#111" stroke-width="1.0"/>
<line x1="41.10" y1="283.04" x2="44.10" y2="283.04" stroke="#111" stroke-width="1.0"/>
<line x1="41.10" y1="273.11" x2="43.10" y2="273.11" stroke="#111" stroke-width="1.0"/>
<line x1="41.10" y1="263.18" x2="44.10" y2="263.18" stroke="#111" stroke-width="1.0"/>
<line x1="41.10" y1="253.25" x2="43.10" y2="253.25" stroke="#111" stroke-width="1.0"/>
<line x1="41.10" y1="243.32" x2="44.10" y2="243.32" stroke="#111" stroke-width="1.0"/>
<line x1="41.10" y1="233.39" x2="43.10" y2="233.39" stroke="#111" stroke-width="1.0"/>
<line x1="41.10" y1="223.46" x2="44.10" y2="223.46" stroke="#111" stroke-width="1.0"/>
<line x1="41.10" y1="213.53" x2="43.10" y2="213.53" stroke="#111" stroke-width="1.0"/>
<line x1="41.10" y1="203.60" x2="44.10" y2="203.60" stroke="#111" stroke-width="1.0"/>
<line x1="41.10" y1="193.67" x2="43.10" y2="193.67" stroke="#111" stroke-width="1.0"/>
<line x1="41.10" y1="183.74" x2="44.10" y2="183.74" stroke="#111" stroke-width="1.0"/>
<line x1="41.00" y1="303.00" x2="41.00" y2="299.40" stroke="#111" stroke-width="1.0"/>
<line x1="56.87" y1="303.00" x2="56.87" y2="300.70" stroke="#111" stroke-width="1.0"/>
<line x1="72.74" y1="303.00" x2="72.74" y2="299.40" stroke="#111" stroke-width="1.0"/>
<line x1="88.61" y1="303.00" x2="88.61" y2="300.70" stroke="#111" stroke-width="1.0"/>
<line x1="104.48" y1="303.00" x2="104.48" y2="299.40" stroke="#111" stroke-width="1.0"/>
<line x1="120.35" y1="303.00" x2="120.35" y2="300.70" stroke="#111" stroke-width="1.0"/>
<line x1="136.22" y1="303.00" x2="136.22" y2="299.40" stroke="#111" stroke-width="1.0"/>
<line x1="152.09" y1="303.00" x2="152.09" y2="300.70" stroke="#111" stroke-width="1.0"/>
<line x1="167.96" y1="303.00" x2="167.96" y2="299.40" stroke="#111" stroke-width="1.0"/>
<line x1="183.83" y1="303.00" x2="183.83" y2="300.70" stroke="#111" stroke-width="1.0"/>
<line x1="199.70" y1="303.00" x2="199.70" y2="299.40" stroke="#111" stroke-width="1.0"/>
<text x="39.90" y="188.35" font-size="11.2" font-weight="normal" fill="#111" stroke="#111" stroke-width="0.25" text-anchor="end">1.2</text>
<rect x="24.66" y="186.95" width="2.43" height="2.10" fill="#fff"/>
<rect x="28.19" y="186.95" width="2.10" height="2.10" fill="#fff"/>
<line x1="15.54" y1="184.71" x2="23.49" y2="184.71" stroke="#111" stroke-width="1.23"/>
<text x="39.90" y="208.21" font-size="11.2" font-weight="normal" fill="#111" stroke="#111" stroke-width="0.25" text-anchor="end">1.0</text>
<rect x="24.66" y="206.95" width="2.43" height="2.10" fill="#fff"/>
<rect x="28.19" y="206.95" width="2.10" height="2.10" fill="#fff"/>
<line x1="15.54" y1="204.57" x2="23.49" y2="204.57" stroke="#111" stroke-width="1.23"/>
<text x="39.90" y="228.07" font-size="11.2" font-weight="normal" fill="#111" stroke="#111" stroke-width="0.25" text-anchor="end">0.8</text>
<line x1="15.54" y1="224.43" x2="23.49" y2="224.43" stroke="#111" stroke-width="1.23"/>
<text x="39.90" y="247.93" font-size="11.2" font-weight="normal" fill="#111" stroke="#111" stroke-width="0.25" text-anchor="end">0.6</text>
<line x1="15.54" y1="244.29" x2="23.49" y2="244.29" stroke="#111" stroke-width="1.23"/>
<text x="39.90" y="267.79" font-size="11.2" font-weight="normal" fill="#111" stroke="#111" stroke-width="0.25" text-anchor="end">0.4</text>
<line x1="15.54" y1="264.15" x2="23.49" y2="264.15" stroke="#111" stroke-width="1.23"/>
<text x="39.90" y="287.65" font-size="11.2" font-weight="normal" fill="#111" stroke="#111" stroke-width="0.25" text-anchor="end">0.2</text>
<line x1="15.54" y1="284.01" x2="23.49" y2="284.01" stroke="#111" stroke-width="1.23"/>
<text x="39.90" y="307.51" font-size="11.2" font-weight="normal" fill="#111" stroke="#111" stroke-width="0.25" text-anchor="end">0.0</text>
<text x="37.89" y="315.50" font-size="11.2" font-weight="normal" fill="#111" stroke="#111" stroke-width="0.25" text-anchor="start">0</text>
<text x="66.51" y="315.50" font-size="11.2" font-weight="normal" fill="#111" stroke="#111" stroke-width="0.25" text-anchor="start">20</text>
<text x="98.25" y="315.50" font-size="11.2" font-weight="normal" fill="#111" stroke="#111" stroke-width="0.25" text-anchor="start">40</text>
<text x="129.99" y="315.50" font-size="11.2" font-weight="normal" fill="#111" stroke="#111" stroke-width="0.25" text-anchor="start">60</text>
<text x="161.73" y="315.50" font-size="11.2" font-weight="normal" fill="#111" stroke="#111" stroke-width="0.25" text-anchor="start">80</text>
<text x="190.36" y="315.50" font-size="11.2" font-weight="normal" fill="#111" stroke="#111" stroke-width="0.25" text-anchor="start">100</text>
<rect x="190.68" y="314.95" width="2.43" height="2.10" fill="#fff"/>
<rect x="194.22" y="314.95" width="2.10" height="2.10" fill="#fff"/>
<text x="128.9" y="329.8" font-size="11.6" fill="#111" stroke="#111" stroke-width="0.25" text-anchor="middle">Capacity(mAh cm<tspan font-size="7.2" dy="-4.3">−3</tspan><tspan dy="4.3">)</tspan></text>
<text x="10.80" y="240.50" font-size="11.45" font-weight="normal" fill="#111" stroke="#111" stroke-width="0.25" text-anchor="middle" transform="rotate(-90 10.80 240.50)">Potential (V)</text>
<text transform="translate(0.32 175.50) scale(0.9541 1)" font-size="14.3" font-weight="bold" fill="#111" stroke="#111" stroke-width="0.15">(d)</text>
<line x1="46.90" y1="264.60" x2="57.40" y2="264.60" stroke="#f08888" stroke-width="1.3"/>
<text x="59.50" y="267.55" font-size="7.9" font-weight="bold" fill="#111" stroke="#111" stroke-width="0.15" textLength="35.0" lengthAdjust="spacingAndGlyphs">0.2 A cm</text>
<text x="94.70" y="264.95" font-size="5.0" font-weight="bold" fill="#111" stroke="#111" stroke-width="0.15">−3</text>
<line x1="104.70" y1="264.60" x2="116.50" y2="264.60" stroke="#2a3fb0" stroke-width="1.3"/>
<text x="117.30" y="267.55" font-size="7.9" font-weight="bold" fill="#111" stroke="#111" stroke-width="0.15" textLength="35.0" lengthAdjust="spacingAndGlyphs">0.4 A cm</text>
<text x="152.50" y="264.95" font-size="5.0" font-weight="bold" fill="#111" stroke="#111" stroke-width="0.15">−3</text>
<line x1="46.90" y1="276.60" x2="57.40" y2="276.60" stroke="#a855c8" stroke-width="1.3"/>
<text x="59.50" y="279.55" font-size="7.9" font-weight="bold" fill="#111" stroke="#111" stroke-width="0.15" textLength="35.0" lengthAdjust="spacingAndGlyphs">0.8 A cm</text>
<text x="94.70" y="276.95" font-size="5.0" font-weight="bold" fill="#111" stroke="#111" stroke-width="0.15">−3</text>
<line x1="104.70" y1="276.60" x2="116.50" y2="276.60" stroke="#5cc44c" stroke-width="1.3"/>
<text x="117.30" y="279.55" font-size="7.9" font-weight="bold" fill="#111" stroke="#111" stroke-width="0.15" textLength="35.0" lengthAdjust="spacingAndGlyphs">1.6 A cm</text>
<text x="152.50" y="276.95" font-size="5.0" font-weight="bold" fill="#111" stroke="#111" stroke-width="0.15">−3</text>
<line x1="46.90" y1="288.60" x2="57.40" y2="288.60" stroke="#e8905a" stroke-width="1.3"/>
<text x="59.50" y="291.55" font-size="7.9" font-weight="bold" fill="#111" stroke="#111" stroke-width="0.15" textLength="35.0" lengthAdjust="spacingAndGlyphs">4.0 A cm</text>
<text x="94.70" y="288.95" font-size="5.0" font-weight="bold" fill="#111" stroke="#111" stroke-width="0.15">−3</text>
<line x1="104.70" y1="288.60" x2="116.50" y2="288.60" stroke="#111111" stroke-width="1.3"/>
<text x="117.30" y="291.55" font-size="7.9" font-weight="bold" fill="#111" stroke="#111" stroke-width="0.15" textLength="35.0" lengthAdjust="spacingAndGlyphs">8.0 A cm</text>
<text x="152.50" y="288.95" font-size="5.0" font-weight="bold" fill="#111" stroke="#111" stroke-width="0.15">−3</text>
<path d="M261.28,197.20 L263.63,201.15 L258.93,201.15Z" fill="#2850b0"/>
<path d="M266.16,196.60 L268.51,200.55 L263.81,200.55Z" fill="#2850b0"/>
<path d="M271.04,196.60 L273.39,200.55 L268.69,200.55Z" fill="#2850b0"/>
<path d="M275.92,196.30 L278.27,200.25 L273.57,200.25Z" fill="#2850b0"/>
<path d="M280.80,195.50 L283.15,199.45 L278.45,199.45Z" fill="#2850b0"/>
<path d="M285.68,195.50 L288.03,199.45 L283.33,199.45Z" fill="#2850b0"/>
<path d="M290.56,195.50 L292.91,199.45 L288.21,199.45Z" fill="#2850b0"/>
<path d="M295.44,194.60 L297.79,198.55 L293.09,198.55Z" fill="#2850b0"/>
<path d="M300.32,194.60 L302.67,198.55 L297.97,198.55Z" fill="#2850b0"/>
<path d="M305.20,193.90 L307.55,197.85 L302.85,197.85Z" fill="#2850b0"/>
<path d="M310.08,193.50 L312.43,197.45 L307.73,197.45Z" fill="#2850b0"/>
<path d="M314.96,193.50 L317.31,197.45 L312.61,197.45Z" fill="#2850b0"/>
<path d="M319.84,192.90 L322.19,196.85 L317.49,196.85Z" fill="#2850b0"/>
<path d="M324.72,193.90 L327.07,197.85 L322.37,197.85Z" fill="#2850b0"/>
<path d="M329.60,193.30 L331.95,197.25 L327.25,197.25Z" fill="#2850b0"/>
<path d="M334.48,190.00 L336.83,193.95 L332.13,193.95Z" fill="#2850b0"/>
<path d="M339.36,190.00 L341.71,193.95 L337.01,193.95Z" fill="#2850b0"/>
<path d="M344.24,190.30 L346.59,194.25 L341.89,194.25Z" fill="#2850b0"/>
<path d="M349.12,189.60 L351.47,193.55 L346.77,193.55Z" fill="#2850b0"/>
<path d="M354.00,189.60 L356.35,193.55 L351.65,193.55Z" fill="#2850b0"/>
<path d="M358.88,188.60 L361.23,192.55 L356.53,192.55Z" fill="#2850b0"/>
<path d="M363.76,189.60 L366.11,193.55 L361.41,193.55Z" fill="#2850b0"/>
<path d="M368.64,189.00 L370.99,192.95 L366.29,192.95Z" fill="#2850b0"/>
<path d="M373.52,188.30 L375.87,192.25 L371.17,192.25Z" fill="#2850b0"/>
<path d="M378.40,189.00 L380.75,192.95 L376.05,192.95Z" fill="#2850b0"/>
<path d="M383.28,187.00 L385.63,190.95 L380.93,190.95Z" fill="#2850b0"/>
<path d="M388.16,186.70 L390.51,190.65 L385.81,190.65Z" fill="#2850b0"/>
<path d="M393.04,187.70 L395.39,191.65 L390.69,191.65Z" fill="#2850b0"/>
<path d="M397.92,187.00 L400.27,190.95 L395.57,190.95Z" fill="#2850b0"/>
<path d="M402.80,187.00 L405.15,190.95 L400.45,190.95Z" fill="#2850b0"/>
<path d="M407.68,190.90 L410.03,194.85 L405.33,194.85Z" fill="#2850b0"/>
<path d="M412.56,190.90 L414.91,194.85 L410.21,194.85Z" fill="#2850b0"/>
<path d="M417.44,190.90 L419.79,194.85 L415.09,194.85Z" fill="#2850b0"/>
<path d="M422.32,190.90 L424.67,194.85 L419.97,194.85Z" fill="#2850b0"/>
<path d="M427.20,190.70 L429.55,194.65 L424.85,194.65Z" fill="#2850b0"/>
<circle cx="261.28" cy="221.10" r="1.95" fill="#d42a32"/>
<circle cx="266.16" cy="221.10" r="1.95" fill="#d42a32"/>
<circle cx="271.04" cy="221.10" r="1.95" fill="#d42a32"/>
<circle cx="275.92" cy="221.10" r="1.95" fill="#d42a32"/>
<circle cx="280.80" cy="221.10" r="1.95" fill="#d42a32"/>
<circle cx="285.68" cy="222.90" r="1.95" fill="#d42a32"/>
<circle cx="290.56" cy="222.90" r="1.95" fill="#d42a32"/>
<circle cx="295.44" cy="222.90" r="1.95" fill="#d42a32"/>
<circle cx="300.32" cy="222.90" r="1.95" fill="#d42a32"/>
<circle cx="305.20" cy="222.90" r="1.95" fill="#d42a32"/>
<circle cx="310.08" cy="226.00" r="1.95" fill="#d42a32"/>
<circle cx="314.96" cy="226.00" r="1.95" fill="#d42a32"/>
<circle cx="319.84" cy="226.00" r="1.95" fill="#d42a32"/>
<circle cx="324.72" cy="226.00" r="1.95" fill="#d42a32"/>
<circle cx="329.60" cy="226.00" r="1.95" fill="#d42a32"/>
<circle cx="334.48" cy="228.50" r="1.95" fill="#d42a32"/>
<circle cx="339.36" cy="228.50" r="1.95" fill="#d42a32"/>
<circle cx="344.24" cy="228.50" r="1.95" fill="#d42a32"/>
<circle cx="349.12" cy="228.50" r="1.95" fill="#d42a32"/>
<circle cx="354.00" cy="228.50" r="1.95" fill="#d42a32"/>
<circle cx="358.88" cy="233.00" r="1.95" fill="#d42a32"/>
<circle cx="363.76" cy="233.00" r="1.95" fill="#d42a32"/>
<circle cx="368.64" cy="233.00" r="1.95" fill="#d42a32"/>
<circle cx="373.52" cy="233.00" r="1.95" fill="#d42a32"/>
<circle cx="378.40" cy="233.00" r="1.95" fill="#d42a32"/>
<circle cx="383.28" cy="235.30" r="1.95" fill="#d42a32"/>
<circle cx="388.16" cy="235.30" r="1.95" fill="#d42a32"/>
<circle cx="393.04" cy="235.30" r="1.95" fill="#d42a32"/>
<circle cx="397.92" cy="235.30" r="1.95" fill="#d42a32"/>
<circle cx="402.80" cy="235.30" r="1.95" fill="#d42a32"/>
<circle cx="407.68" cy="220.90" r="1.95" fill="#d42a32"/>
<circle cx="412.56" cy="220.90" r="1.95" fill="#d42a32"/>
<circle cx="417.44" cy="220.90" r="1.95" fill="#d42a32"/>
<circle cx="422.32" cy="220.90" r="1.95" fill="#d42a32"/>
<circle cx="427.20" cy="220.90" r="1.95" fill="#d42a32"/>
<text x="265.00" y="215.80" font-size="8.3" font-weight="bold" fill="#b8262e" stroke="#b8262e" stroke-width="0.15" text-anchor="start">0.2</text>
<text x="289.60" y="218.00" font-size="8.3" font-weight="bold" fill="#b8262e" stroke="#b8262e" stroke-width="0.15" text-anchor="start">0.4</text>
<text x="314.40" y="221.00" font-size="8.3" font-weight="bold" fill="#b8262e" stroke="#b8262e" stroke-width="0.15" text-anchor="start">0.8</text>
<text x="338.20" y="225.50" font-size="8.3" font-weight="bold" fill="#b8262e" stroke="#b8262e" stroke-width="0.15" text-anchor="start">0.6</text>
<text x="362.60" y="228.60" font-size="8.3" font-weight="bold" fill="#b8262e" stroke="#b8262e" stroke-width="0.15" text-anchor="start">4.0</text>
<text x="386.80" y="231.10" font-size="8.3" font-weight="bold" fill="#b8262e" stroke="#b8262e" stroke-width="0.15" text-anchor="start">8.0</text>
<text x="410.20" y="215.00" font-size="8.3" font-weight="bold" fill="#b8262e" stroke="#b8262e" stroke-width="0.15" text-anchor="start">0.2</text>
<path d="M294.80,230.30 L294.80,239.20 L268.50,239.20" fill="none" stroke="#c03038" stroke-width="1.0" stroke-linejoin="round" stroke-linecap="round"/>
<path d="M266.4,239.2 L272.8,236.9 L271.3,239.2 L272.8,241.6Z" fill="#c03038" stroke="#c03038" stroke-width="0.5" stroke-linejoin="round"/>
<path d="M398.50,194.20 L398.50,203.50 L425.50,203.50" fill="none" stroke="#2f5bb5" stroke-width="1.0" stroke-linejoin="round" stroke-linecap="round"/>
<path d="M428.0,203.5 L421.6,201.1 L423.1,203.5 L421.6,205.9Z" fill="#2f5bb5" stroke="#2f5bb5" stroke-width="0.5" stroke-linejoin="round"/>
<text x="400.7" y="287.4" font-size="7.2" font-weight="bold" fill="#d83040" stroke="#d83040" stroke-width="0.15">A cm</text>
<text x="418.4" y="283.9" font-size="4.6" font-weight="bold" fill="#d83040" stroke="#d83040" stroke-width="0.15">−3</text>
<line x1="256.30" y1="178.60" x2="431.30" y2="178.60" stroke="#111" stroke-width="1.0"/>
<line x1="256.30" y1="303.40" x2="431.30" y2="303.40" stroke="#111" stroke-width="1.0"/>
<line x1="256.30" y1="178.60" x2="256.30" y2="303.40" stroke="#c43a42" stroke-width="1.0"/>
<line x1="431.30" y1="178.60" x2="431.30" y2="303.40" stroke="#2f5bb5" stroke-width="1.0"/>
<line x1="256.30" y1="303.20" x2="259.30" y2="303.20" stroke="#c43a42" stroke-width="1.0"/>
<line x1="256.30" y1="294.89" x2="258.30" y2="294.89" stroke="#c43a42" stroke-width="1.0"/>
<line x1="256.30" y1="286.58" x2="259.30" y2="286.58" stroke="#c43a42" stroke-width="1.0"/>
<line x1="256.30" y1="278.27" x2="258.30" y2="278.27" stroke="#c43a42" stroke-width="1.0"/>
<line x1="256.30" y1="269.96" x2="259.30" y2="269.96" stroke="#c43a42" stroke-width="1.0"/>
<line x1="256.30" y1="261.65" x2="258.30" y2="261.65" stroke="#c43a42" stroke-width="1.0"/>
<line x1="256.30" y1="253.34" x2="259.30" y2="253.34" stroke="#c43a42" stroke-width="1.0"/>
<line x1="256.30" y1="245.03" x2="258.30" y2="245.03" stroke="#c43a42" stroke-width="1.0"/>
<line x1="256.30" y1="236.72" x2="259.30" y2="236.72" stroke="#c43a42" stroke-width="1.0"/>
<line x1="256.30" y1="228.41" x2="258.30" y2="228.41" stroke="#c43a42" stroke-width="1.0"/>
<line x1="256.30" y1="220.10" x2="259.30" y2="220.10" stroke="#c43a42" stroke-width="1.0"/>
<line x1="256.30" y1="211.79" x2="258.30" y2="211.79" stroke="#c43a42" stroke-width="1.0"/>
<line x1="256.30" y1="203.48" x2="259.30" y2="203.48" stroke="#c43a42" stroke-width="1.0"/>
<line x1="256.30" y1="195.17" x2="258.30" y2="195.17" stroke="#c43a42" stroke-width="1.0"/>
<line x1="256.30" y1="186.86" x2="259.30" y2="186.86" stroke="#c43a42" stroke-width="1.0"/>
<line x1="431.30" y1="303.40" x2="428.30" y2="303.40" stroke="#2f5bb5" stroke-width="1.0"/>
<line x1="431.30" y1="292.10" x2="429.30" y2="292.10" stroke="#2f5bb5" stroke-width="1.0"/>
<line x1="431.30" y1="280.80" x2="428.30" y2="280.80" stroke="#2f5bb5" stroke-width="1.0"/>
<line x1="431.30" y1="269.50" x2="429.30" y2="269.50" stroke="#2f5bb5" stroke-width="1.0"/>
<line x1="431.30" y1="258.20" x2="428.30" y2="258.20" stroke="#2f5bb5" stroke-width="1.0"/>
<line x1="431.30" y1="246.90" x2="429.30" y2="246.90" stroke="#2f5bb5" stroke-width="1.0"/>
<line x1="431.30" y1="235.60" x2="428.30" y2="235.60" stroke="#2f5bb5" stroke-width="1.0"/>
<line x1="431.30" y1="224.30" x2="429.30" y2="224.30" stroke="#2f5bb5" stroke-width="1.0"/>
<line x1="431.30" y1="213.00" x2="428.30" y2="213.00" stroke="#2f5bb5" stroke-width="1.0"/>
<line x1="431.30" y1="201.70" x2="429.30" y2="201.70" stroke="#2f5bb5" stroke-width="1.0"/>
<line x1="431.30" y1="190.40" x2="428.30" y2="190.40" stroke="#2f5bb5" stroke-width="1.0"/>
<line x1="256.40" y1="303.40" x2="256.40" y2="299.80" stroke="#111" stroke-width="1.0"/>
<line x1="268.60" y1="303.40" x2="268.60" y2="301.10" stroke="#111" stroke-width="1.0"/>
<line x1="280.80" y1="303.40" x2="280.80" y2="299.80" stroke="#111" stroke-width="1.0"/>
<line x1="293.00" y1="303.40" x2="293.00" y2="301.10" stroke="#111" stroke-width="1.0"/>
<line x1="305.20" y1="303.40" x2="305.20" y2="299.80" stroke="#111" stroke-width="1.0"/>
<line x1="317.40" y1="303.40" x2="317.40" y2="301.10" stroke="#111" stroke-width="1.0"/>
<line x1="329.60" y1="303.40" x2="329.60" y2="299.80" stroke="#111" stroke-width="1.0"/>
<line x1="341.80" y1="303.40" x2="341.80" y2="301.10" stroke="#111" stroke-width="1.0"/>
<line x1="354.00" y1="303.40" x2="354.00" y2="299.80" stroke="#111" stroke-width="1.0"/>
<line x1="366.20" y1="303.40" x2="366.20" y2="301.10" stroke="#111" stroke-width="1.0"/>
<line x1="378.40" y1="303.40" x2="378.40" y2="299.80" stroke="#111" stroke-width="1.0"/>
<line x1="390.60" y1="303.40" x2="390.60" y2="301.10" stroke="#111" stroke-width="1.0"/>
<line x1="402.80" y1="303.40" x2="402.80" y2="299.80" stroke="#111" stroke-width="1.0"/>
<line x1="415.00" y1="303.40" x2="415.00" y2="301.10" stroke="#111" stroke-width="1.0"/>
<line x1="427.20" y1="303.40" x2="427.20" y2="299.80" stroke="#111" stroke-width="1.0"/>
<text x="254.40" y="307.81" font-size="11.2" font-weight="normal" fill="#c43a42" stroke="#c43a42" stroke-width="0.25" text-anchor="end">0</text>
<text x="254.40" y="291.19" font-size="11.2" font-weight="normal" fill="#c43a42" stroke="#c43a42" stroke-width="0.25" text-anchor="end">20</text>
<text x="254.40" y="274.57" font-size="11.2" font-weight="normal" fill="#c43a42" stroke="#c43a42" stroke-width="0.25" text-anchor="end">40</text>
<text x="254.40" y="257.95" font-size="11.2" font-weight="normal" fill="#c43a42" stroke="#c43a42" stroke-width="0.25" text-anchor="end">60</text>
<text x="254.40" y="241.33" font-size="11.2" font-weight="normal" fill="#c43a42" stroke="#c43a42" stroke-width="0.25" text-anchor="end">80</text>
<text x="254.40" y="224.71" font-size="11.2" font-weight="normal" fill="#c43a42" stroke="#c43a42" stroke-width="0.25" text-anchor="end">100</text>
<rect x="236.04" y="223.95" width="2.43" height="2.10" fill="#fff"/>
<rect x="239.57" y="223.95" width="2.10" height="2.10" fill="#fff"/>
<text x="254.40" y="208.09" font-size="11.2" font-weight="normal" fill="#c43a42" stroke="#c43a42" stroke-width="0.25" text-anchor="end">120</text>
<rect x="236.04" y="206.95" width="2.43" height="2.10" fill="#fff"/>
<rect x="239.57" y="206.95" width="2.10" height="2.10" fill="#fff"/>
<text x="254.40" y="191.47" font-size="11.2" font-weight="normal" fill="#c43a42" stroke="#c43a42" stroke-width="0.25" text-anchor="end">140</text>
<rect x="236.04" y="189.95" width="2.43" height="2.10" fill="#fff"/>
<rect x="239.57" y="189.95" width="2.10" height="2.10" fill="#fff"/>
<text x="433.00" y="307.91" font-size="11.2" font-weight="normal" fill="#2f5bb5" stroke="#2f5bb5" stroke-width="0.25" text-anchor="start">0</text>
<text x="433.00" y="285.31" font-size="11.2" font-weight="normal" fill="#2f5bb5" stroke="#2f5bb5" stroke-width="0.25" text-anchor="start">20</text>
<text x="433.00" y="262.71" font-size="11.2" font-weight="normal" fill="#2f5bb5" stroke="#2f5bb5" stroke-width="0.25" text-anchor="start">40</text>
<text x="433.00" y="240.11" font-size="11.2" font-weight="normal" fill="#2f5bb5" stroke="#2f5bb5" stroke-width="0.25" text-anchor="start">60</text>
<text x="433.00" y="217.51" font-size="11.2" font-weight="normal" fill="#2f5bb5" stroke="#2f5bb5" stroke-width="0.25" text-anchor="start">80</text>
<text x="433.00" y="194.91" font-size="11.2" font-weight="normal" fill="#2f5bb5" stroke="#2f5bb5" stroke-width="0.25" text-anchor="start">100</text>
<text x="253.29" y="315.80" font-size="11.2" font-weight="normal" fill="#111" stroke="#111" stroke-width="0.25" text-anchor="start">0</text>
<text x="277.69" y="315.80" font-size="11.2" font-weight="normal" fill="#111" stroke="#111" stroke-width="0.25" text-anchor="start">5</text>
<text x="298.97" y="315.80" font-size="11.2" font-weight="normal" fill="#111" stroke="#111" stroke-width="0.25" text-anchor="start">10</text>
<rect x="299.30" y="314.95" width="2.43" height="2.10" fill="#fff"/>
<rect x="302.83" y="314.95" width="2.10" height="2.10" fill="#fff"/>
<text x="323.37" y="315.80" font-size="11.2" font-weight="normal" fill="#111" stroke="#111" stroke-width="0.25" text-anchor="start">15</text>
<rect x="323.70" y="314.95" width="2.43" height="2.10" fill="#fff"/>
<rect x="327.23" y="314.95" width="2.10" height="2.10" fill="#fff"/>
<text x="347.77" y="315.80" font-size="11.2" font-weight="normal" fill="#111" stroke="#111" stroke-width="0.25" text-anchor="start">20</text>
<text x="372.17" y="315.80" font-size="11.2" font-weight="normal" fill="#111" stroke="#111" stroke-width="0.25" text-anchor="start">25</text>
<text x="396.57" y="315.80" font-size="11.2" font-weight="normal" fill="#111" stroke="#111" stroke-width="0.25" text-anchor="start">30</text>
<text x="420.97" y="315.80" font-size="11.2" font-weight="normal" fill="#111" stroke="#111" stroke-width="0.25" text-anchor="start">35</text>
<text x="343.50" y="328.00" font-size="11.45" font-weight="normal" fill="#111" stroke="#111" stroke-width="0.25" text-anchor="middle">Cycle number</text>
<text x="233.2" y="240.5" font-size="11.6" fill="#c43a42" stroke="#c43a42" stroke-width="0.25" text-anchor="middle" transform="rotate(-90 233.2 240.5)">Capacity (mAh cm<tspan font-size="6.6" dy="-4.6">−3</tspan><tspan dy="4.6" dx="1.0">)</tspan></text>
<text x="463.00" y="243.80" font-size="11.2" font-weight="normal" fill="#2f5bb5" stroke="#2f5bb5" stroke-width="0.25" text-anchor="middle" transform="rotate(-90 463.00 243.80)">Coulombic efficiency (%)</text>
<text transform="translate(231.99 175.50) scale(0.9946 1)" font-size="14.3" font-weight="bold" fill="#111" stroke="#111" stroke-width="0.15">(e)</text>
<circle cx="504.80" cy="194.80" r="2.05" fill="#d42a32"/>
<circle cx="508.14" cy="192.10" r="2.05" fill="#d42a32"/>
<circle cx="511.47" cy="188.10" r="2.05" fill="#d42a32"/>
<circle cx="514.81" cy="187.20" r="2.05" fill="#d42a32"/>
<circle cx="518.14" cy="189.20" r="2.05" fill="#d42a32"/>
<circle cx="521.48" cy="190.50" r="2.05" fill="#d42a32"/>
<circle cx="524.82" cy="191.60" r="2.05" fill="#d42a32"/>
<circle cx="528.15" cy="192.50" r="2.05" fill="#d42a32"/>
<circle cx="531.49" cy="192.76" r="2.05" fill="#d42a32"/>
<circle cx="534.82" cy="193.02" r="2.05" fill="#d42a32"/>
<circle cx="538.16" cy="193.28" r="2.05" fill="#d42a32"/>
<circle cx="541.50" cy="193.54" r="2.05" fill="#d42a32"/>
<circle cx="544.83" cy="193.80" r="2.05" fill="#d42a32"/>
<circle cx="548.17" cy="194.12" r="2.05" fill="#d42a32"/>
<circle cx="551.50" cy="194.43" r="2.05" fill="#d42a32"/>
<circle cx="554.84" cy="194.75" r="2.05" fill="#d42a32"/>
<circle cx="558.18" cy="195.07" r="2.05" fill="#d42a32"/>
<circle cx="561.51" cy="195.38" r="2.05" fill="#d42a32"/>
<circle cx="564.85" cy="195.70" r="2.05" fill="#d42a32"/>
<circle cx="568.18" cy="196.10" r="2.05" fill="#d42a32"/>
<circle cx="571.52" cy="196.50" r="2.05" fill="#d42a32"/>
<circle cx="574.86" cy="196.90" r="2.05" fill="#d42a32"/>
<circle cx="578.19" cy="197.30" r="2.05" fill="#d42a32"/>
<circle cx="581.53" cy="197.70" r="2.05" fill="#d42a32"/>
<circle cx="584.86" cy="198.10" r="2.05" fill="#d42a32"/>
<circle cx="588.20" cy="198.48" r="2.05" fill="#d42a32"/>
<circle cx="591.54" cy="198.87" r="2.05" fill="#d42a32"/>
<circle cx="594.87" cy="199.25" r="2.05" fill="#d42a32"/>
<circle cx="598.21" cy="199.63" r="2.05" fill="#d42a32"/>
<circle cx="601.54" cy="200.02" r="2.05" fill="#d42a32"/>
<circle cx="604.88" cy="200.40" r="2.05" fill="#d42a32"/>
<circle cx="608.22" cy="200.78" r="2.05" fill="#d42a32"/>
<circle cx="611.55" cy="201.16" r="2.05" fill="#d42a32"/>
<circle cx="614.89" cy="201.54" r="2.05" fill="#d42a32"/>
<circle cx="618.22" cy="201.92" r="2.05" fill="#d42a32"/>
<circle cx="621.56" cy="202.30" r="2.05" fill="#d42a32"/>
<circle cx="624.90" cy="202.68" r="2.05" fill="#d42a32"/>
<circle cx="628.23" cy="203.06" r="2.05" fill="#d42a32"/>
<circle cx="631.57" cy="203.44" r="2.05" fill="#d42a32"/>
<circle cx="634.90" cy="203.82" r="2.05" fill="#d42a32"/>
<circle cx="638.24" cy="204.20" r="2.05" fill="#d42a32"/>
<circle cx="641.58" cy="204.58" r="2.05" fill="#d42a32"/>
<circle cx="644.91" cy="204.96" r="2.05" fill="#d42a32"/>
<circle cx="648.25" cy="205.34" r="2.05" fill="#d42a32"/>
<circle cx="651.58" cy="205.72" r="2.05" fill="#d42a32"/>
<circle cx="654.92" cy="206.10" r="2.05" fill="#d42a32"/>
<circle cx="658.26" cy="206.48" r="2.05" fill="#d42a32"/>
<circle cx="661.59" cy="206.86" r="2.05" fill="#d42a32"/>
<circle cx="664.93" cy="207.24" r="2.05" fill="#d42a32"/>
<circle cx="668.26" cy="207.62" r="2.05" fill="#d42a32"/>
<circle cx="671.60" cy="208.00" r="2.05" fill="#d42a32"/>
<rect x="538.8" y="216.6" width="104.80" height="70.90" fill="#fff" stroke="none"/>
<path d="M538.80,287.50 L538.81,287.05 L538.83,285.73 L538.86,283.63 L538.90,280.89 L538.96,277.66 L539.03,274.15 L539.11,270.51 L539.20,266.92 L539.31,263.51 L539.43,260.36 L539.56,257.55 L539.71,255.09 L539.86,252.98 L540.03,251.20 L540.21,249.72 L540.40,248.49 L540.61,247.46 L540.83,246.60 L541.05,245.87 L541.29,245.25 L541.54,244.70 L541.81,244.22 L542.08,243.78 L542.36,243.39 L542.66,243.03 L542.96,242.69 L543.28,242.39 L543.61,242.11 L543.94,241.85 L544.29,241.61 L544.65,241.40 L545.01,241.20 L545.39,241.01 L545.78,240.85 L546.17,240.69 L546.58,240.55 L546.99,240.42 L547.41,240.30 L547.84,240.19 L548.28,240.09 L548.72,240.00 L549.17,239.91 L549.64,239.82 L550.10,239.75 L550.58,239.67 L551.06,239.60 L551.55,239.53 L552.04,239.46 L552.54,239.40 L553.05,239.33 L553.56,239.27 L554.08,239.21 L554.60,239.15 L555.12,239.09 L555.66,239.03 L556.19,238.97 L556.73,238.91 L557.27,238.86 L557.82,238.80 L558.37,238.74 L558.92,238.68 L559.47,238.62 L560.03,238.56 L560.59,238.50 L561.15,238.45 L561.71,238.39 L562.27,238.33 L562.84,238.27 L563.40,238.21 L563.97,238.15 L564.53,238.09 L565.10,238.03 L565.66,237.98 L566.22,237.92 L566.79,237.86 L567.35,237.80 L567.90,237.74 L568.46,237.68 L569.02,237.63 L569.57,237.57 L570.12,237.51 L570.66,237.46 L571.21,237.40 L571.74,237.34 L572.28,237.29 L572.81,237.23 L573.34,237.18 L573.86,237.12 L574.38,237.07 L574.89,237.01 L575.39,236.96 L575.89,236.91 L576.39,236.85 L576.88,236.80 L577.36,236.75 L577.83,236.69 L578.30,236.63 L578.76,236.58 L579.21,236.52 L579.66,236.46 L580.10,236.39 L580.53,236.32 L580.95,236.25 L581.36,236.17 L581.76,236.08 L582.16,235.98 L582.54,235.87 L582.92,235.75 L583.29,235.60 L583.64,235.44 L583.99,235.25 L584.33,235.04 L584.66,234.80 L584.97,234.52 L585.28,234.21 L585.57,233.85 L585.86,233.45 L586.13,233.00 L586.39,232.50 L586.64,231.95 L586.88,231.35 L587.11,230.70 L587.33,230.00 L587.53,229.26 L587.72,228.47 L587.90,227.65 L588.07,226.81 L588.23,225.95 L588.37,225.08 L588.50,224.23 L588.62,223.39 L588.73,222.60 L588.83,221.85 L588.91,221.17 L588.98,220.57 L589.03,220.05 L589.08,219.64 L589.11,219.34 L589.13,219.16 L589.14,219.10 L589.14,219.35 L589.16,220.07 L589.19,221.19 L589.24,222.61 L589.29,224.21 L589.36,225.87 L589.44,227.49 L589.54,229.00 L589.65,230.36 L589.77,231.54 L589.90,232.57 L590.04,233.45 L590.20,234.21 L590.37,234.88 L590.55,235.47 L590.74,236.00 L590.94,236.49 L591.16,236.95 L591.39,237.37 L591.63,237.76 L591.88,238.12 L592.14,238.46 L592.41,238.77 L592.70,239.05 L592.99,239.31 L593.30,239.55 L593.61,239.76 L593.94,239.96 L594.28,240.14 L594.63,240.30 L594.98,240.44 L595.35,240.58 L595.73,240.70 L596.11,240.81 L596.51,240.91 L596.91,241.01 L597.32,241.10 L597.74,241.18 L598.17,241.26 L598.61,241.34 L599.06,241.41 L599.51,241.48 L599.97,241.55 L600.44,241.62 L600.91,241.69 L601.39,241.76 L601.88,241.83 L602.38,241.89 L602.88,241.96 L603.38,242.03 L603.89,242.10 L604.41,242.17 L604.93,242.23 L605.46,242.30 L605.99,242.37 L606.53,242.44 L607.06,242.51 L607.61,242.58 L608.15,242.65 L608.70,242.73 L609.25,242.80 L609.81,242.87 L610.37,242.94 L610.92,243.01 L611.48,243.09 L612.05,243.16 L612.61,243.23 L613.17,243.31 L613.74,243.38 L614.30,243.45 L614.87,243.53 L615.43,243.60 L616.00,243.68 L616.56,243.75 L617.12,243.82 L617.68,243.90 L618.24,243.97 L618.80,244.05 L619.35,244.12 L619.90,244.20 L620.45,244.27 L621.00,244.34 L621.54,244.42 L622.08,244.50 L622.61,244.57 L623.15,244.65 L623.67,244.73 L624.19,244.81 L624.71,244.89 L625.22,244.97 L625.73,245.05 L626.23,245.14 L626.72,245.23 L627.21,245.32 L627.69,245.42 L628.17,245.53 L628.64,245.64 L629.10,245.76 L629.55,245.88 L629.99,246.02 L630.43,246.17 L630.86,246.34 L631.28,246.52 L631.70,246.72 L632.10,246.94 L632.49,247.19 L632.88,247.46 L633.26,247.77 L633.62,248.11 L633.98,248.49 L634.33,248.91 L634.66,249.39 L634.99,249.92 L635.31,250.51 L635.61,251.16 L635.91,251.89 L636.19,252.69 L636.47,253.57 L636.73,254.54 L636.98,255.61 L637.22,256.76 L637.44,258.02 L637.66,259.38 L637.87,260.84 L638.06,262.40 L638.24,264.05 L638.41,265.80 L638.56,267.62 L638.71,269.52 L638.84,271.48 L638.96,273.47 L639.07,275.48 L639.16,277.48 L639.24,279.44 L639.31,281.31 L639.37,283.07 L639.41,284.64 L639.44,285.98 L639.46,286.99 L639.47,287.50" fill="none" stroke="#111111" stroke-width="0.9" stroke-linejoin="round" stroke-linecap="round"/>
<path d="M538.80,287.50 L538.81,287.06 L538.82,285.76 L538.86,283.69 L538.90,280.99 L538.96,277.81 L539.02,274.33 L539.10,270.73 L539.20,267.16 L539.30,263.76 L539.42,260.62 L539.55,257.80 L539.69,255.33 L539.85,253.20 L540.01,251.40 L540.19,249.90 L540.38,248.65 L540.58,247.60 L540.79,246.73 L541.01,245.99 L541.25,245.35 L541.50,244.80 L541.75,244.31 L542.02,243.87 L542.30,243.47 L542.59,243.10 L542.89,242.77 L543.20,242.46 L543.52,242.18 L543.86,241.92 L544.20,241.68 L544.55,241.46 L544.91,241.25 L545.28,241.07 L545.66,240.90 L546.05,240.74 L546.44,240.60 L546.85,240.47 L547.26,240.34 L547.68,240.23 L548.11,240.13 L548.55,240.03 L549.00,239.94 L549.45,239.86 L549.91,239.78 L550.38,239.70 L550.85,239.63 L551.33,239.56 L551.82,239.49 L552.31,239.43 L552.81,239.36 L553.31,239.30 L553.82,239.24 L554.33,239.18 L554.85,239.12 L555.37,239.06 L555.89,239.01 L556.42,238.95 L556.96,238.89 L557.49,238.83 L558.03,238.77 L558.58,238.72 L559.12,238.66 L559.67,238.60 L560.22,238.54 L560.77,238.48 L561.32,238.43 L561.87,238.37 L562.43,238.31 L562.98,238.25 L563.54,238.20 L564.09,238.14 L564.65,238.08 L565.20,238.02 L565.76,237.97 L566.31,237.91 L566.86,237.85 L567.41,237.79 L567.96,237.74 L568.50,237.68 L569.04,237.62 L569.58,237.57 L570.12,237.51 L570.65,237.46 L571.18,237.40 L571.71,237.35 L572.23,237.29 L572.75,237.24 L573.26,237.18 L573.77,237.13 L574.27,237.08 L574.77,237.02 L575.26,236.97 L575.75,236.92 L576.23,236.86 L576.70,236.81 L577.17,236.76 L577.63,236.70 L578.08,236.64 L578.53,236.59 L578.96,236.52 L579.39,236.46 L579.82,236.39 L580.23,236.31 L580.63,236.23 L581.03,236.14 L581.42,236.04 L581.80,235.92 L582.17,235.79 L582.53,235.65 L582.88,235.48 L583.22,235.29 L583.55,235.07 L583.87,234.82 L584.19,234.53 L584.49,234.21 L584.78,233.85 L585.06,233.44 L585.32,232.98 L585.58,232.48 L585.83,231.92 L586.06,231.31 L586.29,230.66 L586.50,229.95 L586.70,229.20 L586.89,228.42 L587.07,227.60 L587.23,226.75 L587.39,225.89 L587.53,225.03 L587.66,224.18 L587.77,223.35 L587.88,222.56 L587.97,221.82 L588.05,221.15 L588.12,220.55 L588.18,220.04 L588.22,219.64 L588.25,219.34 L588.27,219.16 L588.28,219.10 L588.28,219.34 L588.30,220.03 L588.33,221.12 L588.37,222.49 L588.43,224.05 L588.50,225.67 L588.58,227.27 L588.67,228.77 L588.77,230.12 L588.88,231.32 L589.01,232.36 L589.15,233.25 L589.30,234.02 L589.46,234.70 L589.63,235.30 L589.82,235.84 L590.02,236.33 L590.22,236.79 L590.44,237.21 L590.67,237.60 L590.91,237.97 L591.16,238.31 L591.43,238.62 L591.70,238.91 L591.98,239.18 L592.28,239.42 L592.58,239.65 L592.90,239.85 L593.22,240.03 L593.55,240.20 L593.90,240.35 L594.25,240.49 L594.61,240.62 L594.98,240.73 L595.36,240.84 L595.75,240.94 L596.14,241.03 L596.55,241.11 L596.96,241.19 L597.38,241.27 L597.81,241.35 L598.24,241.42 L598.69,241.49 L599.14,241.56 L599.59,241.62 L600.05,241.69 L600.52,241.76 L601.00,241.82 L601.48,241.89 L601.97,241.95 L602.46,242.02 L602.95,242.09 L603.45,242.15 L603.96,242.22 L604.47,242.29 L604.98,242.35 L605.50,242.42 L606.02,242.49 L606.55,242.56 L607.08,242.63 L607.61,242.70 L608.14,242.76 L608.67,242.83 L609.21,242.90 L609.75,242.97 L610.29,243.04 L610.83,243.12 L611.37,243.19 L611.91,243.26 L612.46,243.33 L613.00,243.40 L613.54,243.47 L614.08,243.54 L614.62,243.61 L615.16,243.68 L615.70,243.76 L616.24,243.83 L616.77,243.90 L617.31,243.97 L617.84,244.04 L618.36,244.12 L618.89,244.19 L619.41,244.26 L619.93,244.34 L620.44,244.41 L620.95,244.49 L621.46,244.56 L621.96,244.64 L622.45,244.72 L622.95,244.81 L623.43,244.89 L623.91,244.98 L624.39,245.07 L624.86,245.17 L625.32,245.27 L625.78,245.38 L626.22,245.49 L626.67,245.62 L627.10,245.75 L627.53,245.90 L627.95,246.06 L628.36,246.23 L628.77,246.42 L629.16,246.63 L629.55,246.87 L629.93,247.13 L630.30,247.42 L630.66,247.74 L631.02,248.10 L631.36,248.51 L631.69,248.95 L632.02,249.45 L632.33,250.00 L632.63,250.62 L632.93,251.30 L633.21,252.05 L633.48,252.88 L633.75,253.79 L634.00,254.78 L634.24,255.87 L634.47,257.05 L634.69,258.32 L634.90,259.69 L635.09,261.16 L635.28,262.73 L635.45,264.39 L635.61,266.13 L635.76,267.95 L635.90,269.84 L636.03,271.78 L636.14,273.75 L636.24,275.73 L636.34,277.70 L636.41,279.62 L636.48,281.46 L636.54,283.17 L636.58,284.71 L636.61,286.02 L636.63,287.01 L636.63,287.50" fill="none" stroke="#23238a" stroke-width="0.9" stroke-linejoin="round" stroke-linecap="round"/>
<path d="M538.80,287.50 L538.81,287.08 L538.82,285.84 L538.85,283.86 L538.89,281.27 L538.95,278.20 L539.01,274.84 L539.09,271.33 L539.18,267.83 L539.28,264.47 L539.39,261.34 L539.51,258.50 L539.65,255.99 L539.80,253.82 L539.95,251.97 L540.12,250.41 L540.30,249.10 L540.50,248.00 L540.70,247.09 L540.91,246.31 L541.14,245.65 L541.37,245.07 L541.62,244.56 L541.87,244.11 L542.14,243.69 L542.41,243.32 L542.70,242.98 L543.00,242.66 L543.30,242.37 L543.62,242.10 L543.95,241.85 L544.28,241.62 L544.62,241.41 L544.98,241.22 L545.34,241.04 L545.71,240.88 L546.09,240.73 L546.47,240.59 L546.87,240.46 L547.27,240.34 L547.68,240.23 L548.10,240.13 L548.52,240.04 L548.95,239.95 L549.39,239.87 L549.84,239.79 L550.29,239.72 L550.75,239.64 L551.21,239.58 L551.68,239.51 L552.15,239.45 L552.63,239.39 L553.12,239.33 L553.60,239.27 L554.10,239.21 L554.59,239.15 L555.10,239.09 L555.60,239.04 L556.11,238.98 L556.62,238.93 L557.14,238.87 L557.65,238.81 L558.17,238.76 L558.69,238.70 L559.22,238.65 L559.74,238.59 L560.27,238.54 L560.80,238.48 L561.33,238.43 L561.86,238.37 L562.38,238.32 L562.91,238.26 L563.44,238.21 L563.97,238.15 L564.50,238.10 L565.02,238.04 L565.55,237.99 L566.07,237.93 L566.60,237.88 L567.12,237.82 L567.63,237.77 L568.15,237.72 L568.66,237.66 L569.17,237.61 L569.67,237.56 L570.17,237.51 L570.67,237.45 L571.16,237.40 L571.65,237.35 L572.14,237.30 L572.62,237.25 L573.09,237.20 L573.56,237.14 L574.02,237.09 L574.48,237.04 L574.93,236.99 L575.38,236.93 L575.82,236.88 L576.25,236.82 L576.67,236.76 L577.09,236.70 L577.50,236.63 L577.90,236.55 L578.30,236.47 L578.68,236.39 L579.06,236.29 L579.43,236.18 L579.79,236.05 L580.14,235.91 L580.49,235.75 L580.82,235.57 L581.15,235.36 L581.46,235.12 L581.77,234.85 L582.07,234.55 L582.35,234.21 L582.63,233.82 L582.90,233.39 L583.15,232.91 L583.40,232.39 L583.63,231.81 L583.86,231.19 L584.07,230.52 L584.27,229.80 L584.46,229.05 L584.65,228.25 L584.81,227.43 L584.97,226.59 L585.12,225.74 L585.25,224.89 L585.38,224.05 L585.49,223.24 L585.59,222.46 L585.68,221.74 L585.76,221.08 L585.82,220.50 L585.87,220.01 L585.92,219.62 L585.94,219.33 L585.96,219.16 L585.97,219.10 L585.97,219.33 L585.99,219.99 L586.02,221.02 L586.06,222.34 L586.11,223.84 L586.18,225.41 L586.25,226.98 L586.34,228.46 L586.43,229.82 L586.54,231.02 L586.66,232.07 L586.79,232.98 L586.94,233.77 L587.09,234.46 L587.26,235.07 L587.43,235.61 L587.62,236.11 L587.81,236.57 L588.02,237.00 L588.24,237.40 L588.47,237.77 L588.71,238.11 L588.95,238.43 L589.21,238.73 L589.48,239.00 L589.76,239.26 L590.05,239.49 L590.35,239.70 L590.65,239.89 L590.97,240.06 L591.30,240.22 L591.63,240.37 L591.97,240.50 L592.32,240.62 L592.68,240.73 L593.05,240.84 L593.43,240.93 L593.81,241.02 L594.20,241.11 L594.60,241.19 L595.01,241.26 L595.42,241.33 L595.84,241.40 L596.26,241.47 L596.70,241.54 L597.14,241.60 L597.58,241.67 L598.03,241.73 L598.49,241.80 L598.95,241.86 L599.41,241.92 L599.88,241.99 L600.36,242.05 L600.84,242.11 L601.32,242.18 L601.81,242.24 L602.30,242.30 L602.79,242.37 L603.29,242.43 L603.79,242.50 L604.29,242.57 L604.80,242.63 L605.31,242.70 L605.82,242.76 L606.33,242.83 L606.84,242.90 L607.35,242.97 L607.86,243.03 L608.38,243.10 L608.89,243.17 L609.41,243.24 L609.92,243.30 L610.44,243.37 L610.95,243.44 L611.46,243.51 L611.97,243.58 L612.48,243.65 L612.99,243.71 L613.49,243.78 L613.99,243.85 L614.49,243.92 L614.99,244.00 L615.49,244.07 L615.98,244.14 L616.46,244.21 L616.95,244.29 L617.43,244.37 L617.90,244.44 L618.37,244.52 L618.84,244.61 L619.30,244.70 L619.76,244.79 L620.21,244.88 L620.65,244.98 L621.09,245.09 L621.52,245.20 L621.95,245.33 L622.37,245.46 L622.78,245.60 L623.19,245.76 L623.58,245.93 L623.98,246.12 L624.36,246.32 L624.74,246.55 L625.10,246.81 L625.46,247.09 L625.81,247.40 L626.16,247.75 L626.49,248.14 L626.82,248.57 L627.13,249.04 L627.44,249.57 L627.74,250.16 L628.03,250.80 L628.30,251.52 L628.57,252.30 L628.83,253.16 L629.08,254.10 L629.32,255.13 L629.55,256.24 L629.77,257.45 L629.97,258.74 L630.17,260.13 L630.36,261.61 L630.53,263.19 L630.70,264.85 L630.85,266.58 L630.99,268.39 L631.12,270.26 L631.24,272.17 L631.35,274.11 L631.45,276.06 L631.54,277.98 L631.61,279.85 L631.67,281.64 L631.73,283.31 L631.77,284.80 L631.79,286.07 L631.81,287.02 L631.82,287.50" fill="none" stroke="#b060c8" stroke-width="0.9" stroke-linejoin="round" stroke-linecap="round"/>
<path d="M538.80,287.50 L538.81,287.10 L538.82,285.94 L538.85,284.07 L538.89,281.61 L538.94,278.69 L539.00,275.45 L539.07,272.07 L539.16,268.66 L539.25,265.35 L539.36,262.24 L539.47,259.40 L539.60,256.86 L539.74,254.63 L539.89,252.71 L540.05,251.08 L540.22,249.70 L540.40,248.54 L540.59,247.57 L540.79,246.74 L541.00,246.04 L541.22,245.43 L541.45,244.89 L541.69,244.42 L541.94,243.99 L542.20,243.60 L542.47,243.25 L542.75,242.92 L543.04,242.62 L543.34,242.34 L543.64,242.08 L543.96,241.84 L544.28,241.62 L544.61,241.42 L544.95,241.23 L545.30,241.06 L545.66,240.90 L546.02,240.75 L546.39,240.61 L546.77,240.49 L547.16,240.37 L547.55,240.27 L547.95,240.17 L548.36,240.07 L548.77,239.99 L549.19,239.91 L549.61,239.83 L550.04,239.76 L550.48,239.69 L550.92,239.62 L551.37,239.55 L551.82,239.49 L552.27,239.43 L552.73,239.37 L553.20,239.32 L553.67,239.26 L554.14,239.20 L554.61,239.15 L555.09,239.09 L555.57,239.04 L556.06,238.99 L556.55,238.93 L557.04,238.88 L557.53,238.83 L558.02,238.78 L558.51,238.72 L559.01,238.67 L559.51,238.62 L560.00,238.57 L560.50,238.51 L561.00,238.46 L561.50,238.41 L561.99,238.36 L562.49,238.30 L562.99,238.25 L563.48,238.20 L563.98,238.15 L564.47,238.10 L564.96,238.05 L565.45,238.00 L565.94,237.95 L566.42,237.90 L566.90,237.85 L567.38,237.79 L567.86,237.75 L568.33,237.70 L568.80,237.65 L569.26,237.60 L569.72,237.55 L570.18,237.50 L570.63,237.45 L571.08,237.40 L571.52,237.35 L571.95,237.30 L572.38,237.25 L572.81,237.19 L573.23,237.14 L573.64,237.08 L574.05,237.02 L574.45,236.96 L574.84,236.89 L575.23,236.82 L575.60,236.74 L575.98,236.65 L576.34,236.55 L576.70,236.45 L577.04,236.32 L577.38,236.18 L577.72,236.03 L578.04,235.85 L578.35,235.65 L578.66,235.42 L578.96,235.16 L579.25,234.86 L579.53,234.53 L579.80,234.16 L580.06,233.75 L580.31,233.30 L580.55,232.79 L580.78,232.25 L581.00,231.65 L581.21,231.01 L581.41,230.32 L581.60,229.59 L581.78,228.83 L581.95,228.04 L582.11,227.22 L582.26,226.38 L582.40,225.54 L582.52,224.70 L582.64,223.88 L582.75,223.09 L582.84,222.34 L582.92,221.64 L583.00,221.01 L583.06,220.45 L583.11,219.98 L583.15,219.60 L583.18,219.32 L583.19,219.16 L583.20,219.10 L583.20,219.32 L583.22,219.95 L583.25,220.95 L583.29,222.22 L583.34,223.68 L583.40,225.22 L583.47,226.76 L583.55,228.23 L583.64,229.58 L583.75,230.79 L583.86,231.85 L583.99,232.77 L584.13,233.57 L584.27,234.27 L584.43,234.89 L584.60,235.44 L584.78,235.94 L584.97,236.41 L585.17,236.83 L585.38,237.23 L585.60,237.61 L585.82,237.96 L586.06,238.28 L586.31,238.58 L586.57,238.86 L586.84,239.12 L587.11,239.36 L587.40,239.58 L587.69,239.77 L588.00,239.96 L588.31,240.12 L588.63,240.27 L588.96,240.41 L589.30,240.54 L589.64,240.65 L589.99,240.76 L590.36,240.86 L590.72,240.95 L591.10,241.04 L591.48,241.12 L591.87,241.19 L592.27,241.27 L592.67,241.34 L593.08,241.41 L593.49,241.47 L593.91,241.54 L594.34,241.60 L594.77,241.66 L595.21,241.72 L595.65,241.79 L596.10,241.85 L596.55,241.91 L597.01,241.97 L597.47,242.03 L597.93,242.09 L598.40,242.16 L598.87,242.22 L599.35,242.28 L599.82,242.34 L600.30,242.41 L600.79,242.47 L601.27,242.53 L601.76,242.60 L602.25,242.66 L602.74,242.73 L603.23,242.79 L603.72,242.85 L604.21,242.92 L604.71,242.98 L605.20,243.05 L605.69,243.12 L606.19,243.18 L606.68,243.25 L607.17,243.31 L607.66,243.38 L608.15,243.45 L608.64,243.51 L609.13,243.58 L609.61,243.65 L610.09,243.72 L610.57,243.79 L611.05,243.85 L611.53,243.93 L612.00,244.00 L612.47,244.07 L612.93,244.15 L613.39,244.22 L613.85,244.30 L614.30,244.38 L614.74,244.47 L615.19,244.56 L615.62,244.65 L616.06,244.75 L616.48,244.85 L616.90,244.97 L617.32,245.09 L617.73,245.21 L618.13,245.35 L618.53,245.51 L618.92,245.67 L619.30,245.85 L619.67,246.05 L620.04,246.27 L620.40,246.52 L620.76,246.79 L621.10,247.09 L621.44,247.42 L621.77,247.78 L622.09,248.19 L622.40,248.64 L622.70,249.14 L623.00,249.69 L623.28,250.30 L623.56,250.98 L623.83,251.71 L624.09,252.52 L624.33,253.41 L624.57,254.37 L624.80,255.42 L625.02,256.55 L625.23,257.77 L625.43,259.09 L625.62,260.49 L625.80,261.98 L625.97,263.55 L626.12,265.21 L626.27,266.94 L626.41,268.74 L626.53,270.59 L626.65,272.48 L626.75,274.39 L626.85,276.31 L626.93,278.20 L627.00,280.04 L627.06,281.79 L627.11,283.42 L627.15,284.87 L627.18,286.11 L627.19,287.04 L627.20,287.50" fill="none" stroke="#3f8040" stroke-width="0.9" stroke-linejoin="round" stroke-linecap="round"/>
<line x1="538.80" y1="216.60" x2="643.60" y2="216.60" stroke="#333" stroke-width="0.8"/>
<line x1="643.60" y1="216.60" x2="643.60" y2="287.50" stroke="#444" stroke-width="0.8"/>
<line x1="538.80" y1="216.60" x2="538.80" y2="287.50" stroke="#222" stroke-width="0.9"/>
<line x1="538.80" y1="287.50" x2="643.60" y2="287.50" stroke="#333" stroke-width="0.9"/>
<line x1="538.80" y1="287.50" x2="540.60" y2="287.50" stroke="#333" stroke-width="0.7"/>
<line x1="538.80" y1="281.80" x2="540.00" y2="281.80" stroke="#333" stroke-width="0.7"/>
<line x1="538.80" y1="276.10" x2="540.60" y2="276.10" stroke="#333" stroke-width="0.7"/>
<line x1="538.80" y1="270.40" x2="540.00" y2="270.40" stroke="#333" stroke-width="0.7"/>
<line x1="538.80" y1="264.70" x2="540.60" y2="264.70" stroke="#333" stroke-width="0.7"/>
<line x1="538.80" y1="259.00" x2="540.00" y2="259.00" stroke="#333" stroke-width="0.7"/>
<line x1="538.80" y1="253.30" x2="540.60" y2="253.30" stroke="#333" stroke-width="0.7"/>
<line x1="538.80" y1="247.60" x2="540.00" y2="247.60" stroke="#333" stroke-width="0.7"/>
<line x1="538.80" y1="241.90" x2="540.60" y2="241.90" stroke="#333" stroke-width="0.7"/>
<line x1="538.80" y1="236.20" x2="540.00" y2="236.20" stroke="#333" stroke-width="0.7"/>
<line x1="538.80" y1="230.50" x2="540.60" y2="230.50" stroke="#333" stroke-width="0.7"/>
<line x1="538.80" y1="224.80" x2="540.00" y2="224.80" stroke="#333" stroke-width="0.7"/>
<line x1="538.80" y1="219.10" x2="540.60" y2="219.10" stroke="#333" stroke-width="0.7"/>
<line x1="538.80" y1="287.50" x2="538.80" y2="285.70" stroke="#333" stroke-width="0.7"/>
<line x1="548.70" y1="287.50" x2="548.70" y2="286.30" stroke="#333" stroke-width="0.7"/>
<line x1="558.59" y1="287.50" x2="558.59" y2="285.70" stroke="#333" stroke-width="0.7"/>
<line x1="568.49" y1="287.50" x2="568.49" y2="286.30" stroke="#333" stroke-width="0.7"/>
<line x1="578.38" y1="287.50" x2="578.38" y2="285.70" stroke="#333" stroke-width="0.7"/>
<line x1="588.28" y1="287.50" x2="588.28" y2="286.30" stroke="#333" stroke-width="0.7"/>
<line x1="598.17" y1="287.50" x2="598.17" y2="285.70" stroke="#333" stroke-width="0.7"/>
<line x1="608.07" y1="287.50" x2="608.07" y2="286.30" stroke="#333" stroke-width="0.7"/>
<line x1="617.96" y1="287.50" x2="617.96" y2="285.70" stroke="#333" stroke-width="0.7"/>
<line x1="627.86" y1="287.50" x2="627.86" y2="286.30" stroke="#333" stroke-width="0.7"/>
<line x1="637.75" y1="287.50" x2="637.75" y2="285.70" stroke="#333" stroke-width="0.7"/>
<text x="537.40" y="289.71" font-size="5.9" font-weight="normal" fill="#333" text-anchor="end">0.0</text>
<text x="537.40" y="278.31" font-size="5.9" font-weight="normal" fill="#333" text-anchor="end">0.2</text>
<line x1="524.57" y1="276.39" x2="528.76" y2="276.39" stroke="#333" stroke-width="0.65"/>
<text x="537.40" y="266.91" font-size="5.9" font-weight="normal" fill="#333" text-anchor="end">0.4</text>
<line x1="524.57" y1="264.99" x2="528.76" y2="264.99" stroke="#333" stroke-width="0.65"/>
<text x="537.40" y="255.51" font-size="5.9" font-weight="normal" fill="#333" text-anchor="end">0.6</text>
<line x1="524.57" y1="253.59" x2="528.76" y2="253.59" stroke="#333" stroke-width="0.65"/>
<text x="537.40" y="244.11" font-size="5.9" font-weight="normal" fill="#333" text-anchor="end">0.8</text>
<line x1="524.57" y1="242.19" x2="528.76" y2="242.19" stroke="#333" stroke-width="0.65"/>
<text x="537.40" y="232.71" font-size="5.9" font-weight="normal" fill="#333" text-anchor="end">1.0</text>
<rect x="529.37" y="231.95" width="1.28" height="2.10" fill="#fff"/>
<rect x="531.23" y="231.95" width="1.11" height="2.10" fill="#fff"/>
<line x1="524.57" y1="230.79" x2="528.76" y2="230.79" stroke="#333" stroke-width="0.65"/>
<text x="537.40" y="221.31" font-size="5.9" font-weight="normal" fill="#333" text-anchor="end">1.2</text>
<rect x="529.37" y="219.95" width="1.28" height="2.10" fill="#fff"/>
<rect x="531.23" y="219.95" width="1.11" height="2.10" fill="#fff"/>
<line x1="524.57" y1="219.39" x2="528.76" y2="219.39" stroke="#333" stroke-width="0.65"/>
<text x="538.80" y="293.7" font-size="5.6" fill="#333" text-anchor="middle">0</text>
<text x="558.59" y="293.7" font-size="5.6" fill="#333" text-anchor="middle">30</text>
<text x="578.38" y="293.7" font-size="5.6" fill="#333" text-anchor="middle">60</text>
<text x="598.17" y="293.7" font-size="5.6" fill="#333" text-anchor="middle">90</text>
<text x="617.96" y="293.7" font-size="5.6" fill="#333" text-anchor="middle">120</text>
<text x="637.75" y="293.7" font-size="5.6" fill="#333" text-anchor="middle">150</text>
<text x="591.3" y="300.0" font-size="5.6" fill="#333" text-anchor="middle" textLength="20.6" lengthAdjust="spacingAndGlyphs">Time (s)</text>
<text x="522.0" y="250.6" font-size="4.6" fill="#444" text-anchor="middle" transform="rotate(-90 522.0 250.6)" textLength="24.5" lengthAdjust="spacingAndGlyphs">Potential (V)</text>
<line x1="553.60" y1="253.50" x2="562.50" y2="253.50" stroke="#111" stroke-width="1.2"/>
<text x="563.2" y="255.25" font-size="5.0" font-weight="bold" fill="#111" textLength="7.4" lengthAdjust="spacingAndGlyphs">1st</text>
<line x1="553.60" y1="260.63" x2="562.50" y2="260.63" stroke="#23238a" stroke-width="1.2"/>
<text x="563.2" y="262.38" font-size="5.0" font-weight="bold" fill="#111" textLength="18.6" lengthAdjust="spacingAndGlyphs">1000th</text>
<line x1="553.60" y1="267.76" x2="562.50" y2="267.76" stroke="#b060c8" stroke-width="1.2"/>
<text x="563.2" y="269.51" font-size="5.0" font-weight="bold" fill="#111" textLength="18.6" lengthAdjust="spacingAndGlyphs">2000th</text>
<line x1="553.60" y1="274.89" x2="562.50" y2="274.89" stroke="#3f8040" stroke-width="1.2"/>
<text x="563.2" y="276.64" font-size="5.0" font-weight="bold" fill="#111" textLength="18.6" lengthAdjust="spacingAndGlyphs">3000th</text>
<rect x="503.50" y="178.40" width="171.90" height="125.80" fill="none" stroke="#2a2a2a" stroke-width="1.0"/>
<line x1="503.50" y1="304.40" x2="506.50" y2="304.40" stroke="#2a2a2a" stroke-width="1.0"/>
<line x1="503.50" y1="293.40" x2="505.50" y2="293.40" stroke="#2a2a2a" stroke-width="1.0"/>
<line x1="503.50" y1="282.40" x2="506.50" y2="282.40" stroke="#2a2a2a" stroke-width="1.0"/>
<line x1="503.50" y1="271.40" x2="505.50" y2="271.40" stroke="#2a2a2a" stroke-width="1.0"/>
<line x1="503.50" y1="260.40" x2="506.50" y2="260.40" stroke="#2a2a2a" stroke-width="1.0"/>
<line x1="503.50" y1="249.40" x2="505.50" y2="249.40" stroke="#2a2a2a" stroke-width="1.0"/>
<line x1="503.50" y1="238.40" x2="506.50" y2="238.40" stroke="#2a2a2a" stroke-width="1.0"/>
<line x1="503.50" y1="227.40" x2="505.50" y2="227.40" stroke="#2a2a2a" stroke-width="1.0"/>
<line x1="503.50" y1="216.40" x2="506.50" y2="216.40" stroke="#2a2a2a" stroke-width="1.0"/>
<line x1="503.50" y1="205.40" x2="505.50" y2="205.40" stroke="#2a2a2a" stroke-width="1.0"/>
<line x1="503.50" y1="194.40" x2="506.50" y2="194.40" stroke="#2a2a2a" stroke-width="1.0"/>
<line x1="503.50" y1="183.40" x2="505.50" y2="183.40" stroke="#2a2a2a" stroke-width="1.0"/>
<line x1="504.80" y1="304.20" x2="504.80" y2="300.60" stroke="#2a2a2a" stroke-width="1.0"/>
<line x1="518.70" y1="304.20" x2="518.70" y2="301.90" stroke="#2a2a2a" stroke-width="1.0"/>
<line x1="532.60" y1="304.20" x2="532.60" y2="300.60" stroke="#2a2a2a" stroke-width="1.0"/>
<line x1="546.50" y1="304.20" x2="546.50" y2="301.90" stroke="#2a2a2a" stroke-width="1.0"/>
<line x1="560.40" y1="304.20" x2="560.40" y2="300.60" stroke="#2a2a2a" stroke-width="1.0"/>
<line x1="574.30" y1="304.20" x2="574.30" y2="301.90" stroke="#2a2a2a" stroke-width="1.0"/>
<line x1="588.20" y1="304.20" x2="588.20" y2="300.60" stroke="#2a2a2a" stroke-width="1.0"/>
<line x1="602.10" y1="304.20" x2="602.10" y2="301.90" stroke="#2a2a2a" stroke-width="1.0"/>
<line x1="616.00" y1="304.20" x2="616.00" y2="300.60" stroke="#2a2a2a" stroke-width="1.0"/>
<line x1="629.90" y1="304.20" x2="629.90" y2="301.90" stroke="#2a2a2a" stroke-width="1.0"/>
<line x1="643.80" y1="304.20" x2="643.80" y2="300.60" stroke="#2a2a2a" stroke-width="1.0"/>
<line x1="657.70" y1="304.20" x2="657.70" y2="301.90" stroke="#2a2a2a" stroke-width="1.0"/>
<line x1="671.60" y1="304.20" x2="671.60" y2="300.60" stroke="#2a2a2a" stroke-width="1.0"/>
<text x="501.60" y="309.01" font-size="11.2" font-weight="normal" fill="#111" stroke="#111" stroke-width="0.25" text-anchor="end">0</text>
<text x="501.60" y="287.01" font-size="11.2" font-weight="normal" fill="#111" stroke="#111" stroke-width="0.25" text-anchor="end">20</text>
<text x="501.60" y="265.01" font-size="11.2" font-weight="normal" fill="#111" stroke="#111" stroke-width="0.25" text-anchor="end">40</text>
<text x="501.60" y="243.01" font-size="11.2" font-weight="normal" fill="#111" stroke="#111" stroke-width="0.25" text-anchor="end">60</text>
<text x="501.60" y="221.01" font-size="11.2" font-weight="normal" fill="#111" stroke="#111" stroke-width="0.25" text-anchor="end">80</text>
<text x="501.60" y="199.01" font-size="11.2" font-weight="normal" fill="#111" stroke="#111" stroke-width="0.25" text-anchor="end">100</text>
<rect x="483.24" y="197.95" width="2.43" height="2.10" fill="#fff"/>
<rect x="486.77" y="197.95" width="2.10" height="2.10" fill="#fff"/>
<text x="501.69" y="315.50" font-size="11.2" font-weight="normal" fill="#111" stroke="#111" stroke-width="0.25" text-anchor="start">0</text>
<text x="523.26" y="315.50" font-size="11.2" font-weight="normal" fill="#111" stroke="#111" stroke-width="0.25" text-anchor="start">500</text>
<text x="547.94" y="315.50" font-size="11.2" font-weight="normal" fill="#111" stroke="#111" stroke-width="0.25" text-anchor="start">1000</text>
<rect x="548.27" y="314.95" width="2.43" height="2.10" fill="#fff"/>
<rect x="551.80" y="314.95" width="2.10" height="2.10" fill="#fff"/>
<text x="575.74" y="315.50" font-size="11.2" font-weight="normal" fill="#111" stroke="#111" stroke-width="0.25" text-anchor="start">1500</text>
<rect x="576.07" y="314.95" width="2.43" height="2.10" fill="#fff"/>
<rect x="579.60" y="314.95" width="2.10" height="2.10" fill="#fff"/>
<text x="603.54" y="315.50" font-size="11.2" font-weight="normal" fill="#111" stroke="#111" stroke-width="0.25" text-anchor="start">2000</text>
<text x="631.34" y="315.50" font-size="11.2" font-weight="normal" fill="#111" stroke="#111" stroke-width="0.25" text-anchor="start">2500</text>
<text x="659.14" y="315.50" font-size="11.2" font-weight="normal" fill="#111" stroke="#111" stroke-width="0.25" text-anchor="start">3000</text>
<text x="589.50" y="327.60" font-size="11.45" font-weight="normal" fill="#111" stroke="#111" stroke-width="0.25" text-anchor="middle">Cycle number</text>
<text x="479.10" y="242.20" font-size="11.45" font-weight="normal" fill="#111" stroke="#111" stroke-width="0.25" text-anchor="middle" transform="rotate(-90 479.10 242.20)">Capacity retention (%)</text>
<text transform="translate(476.39 179.50) scale(0.9946 1)" font-size="14.3" font-weight="bold" fill="#111" stroke="#111" stroke-width="0.15">(f)</text>
</svg></body></html>
